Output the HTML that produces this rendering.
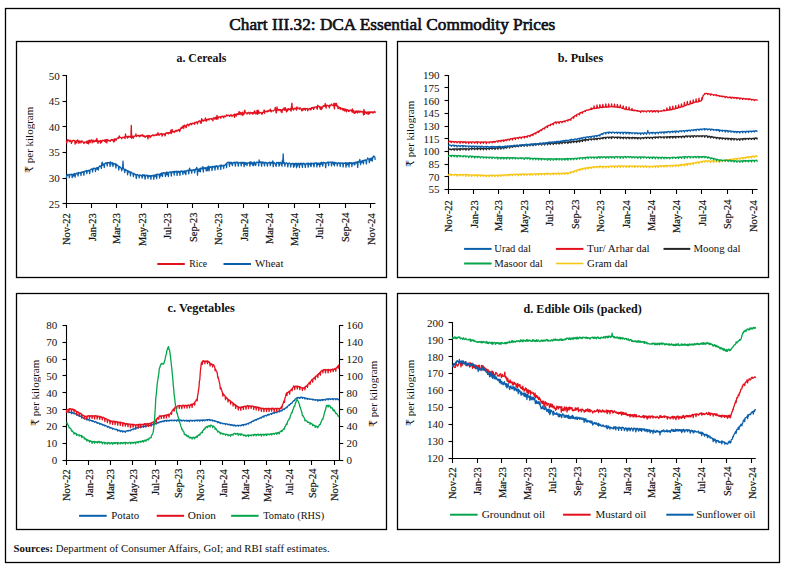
<!DOCTYPE html>
<html><head><meta charset="utf-8"><title>Chart III.32: DCA Essential Commodity Prices</title>
<style>
html,body{margin:0;padding:0;background:#fff;}
body{width:786px;height:570px;position:relative;overflow:hidden;}
svg text{font-family:"Liberation Serif","DejaVu Serif",serif;fill:#111;}
.v{position:absolute;writing-mode:vertical-rl;transform:rotate(180deg);white-space:nowrap;width:12px;line-height:12px;font-family:"Liberation Serif","DejaVu Serif",serif;color:#111;-webkit-text-stroke:0.2px #111;}
</style></head><body>
<svg width="786" height="570" viewBox="0 0 786 570" style="position:absolute;left:0;top:0">
<rect x="0" y="0" width="786" height="570" fill="#fff"/>
<rect x="5.5" y="8.5" width="774" height="554" fill="none" stroke="#000" stroke-width="1.3"/>
<rect x="16.5" y="41.5" width="370" height="236" fill="none" stroke="#000" stroke-width="1.3"/>
<rect x="397.5" y="41.5" width="371" height="236" fill="none" stroke="#000" stroke-width="1.3"/>
<rect x="16.5" y="293.5" width="370" height="236" fill="none" stroke="#000" stroke-width="1.3"/>
<rect x="397.5" y="293.5" width="371" height="236" fill="none" stroke="#000" stroke-width="1.3"/>
<text x="229.3" y="29.8" font-size="17.2" textLength="326" lengthAdjust="spacingAndGlyphs" stroke="#0a0a14" stroke-width="0.6">Chart III.32: DCA Essential Commodity Prices</text>
<line x1="66.5" y1="75.0" x2="66.5" y2="204.0" stroke="#000" stroke-width="1.1"/>
<line x1="62.5" y1="203.5" x2="66.5" y2="203.5" stroke="#000" stroke-width="1.1"/>
<text x="59.7" y="207.55" font-size="11" text-anchor="end">25</text>
<line x1="62.5" y1="178.5" x2="66.5" y2="178.5" stroke="#000" stroke-width="1.1"/>
<text x="59.7" y="181.95" font-size="11" text-anchor="end">30</text>
<line x1="62.5" y1="152.5" x2="66.5" y2="152.5" stroke="#000" stroke-width="1.1"/>
<text x="59.7" y="156.35" font-size="11" text-anchor="end">35</text>
<line x1="62.5" y1="126.5" x2="66.5" y2="126.5" stroke="#000" stroke-width="1.1"/>
<text x="59.7" y="130.75" font-size="11" text-anchor="end">40</text>
<line x1="62.5" y1="101.5" x2="66.5" y2="101.5" stroke="#000" stroke-width="1.1"/>
<text x="59.7" y="105.15" font-size="11" text-anchor="end">45</text>
<line x1="62.5" y1="75.5" x2="66.5" y2="75.5" stroke="#000" stroke-width="1.1"/>
<text x="59.7" y="79.55" font-size="11" text-anchor="end">50</text>
<line x1="66.5" y1="203.5" x2="375.4" y2="203.5" stroke="#000" stroke-width="1.1"/>
<line x1="66.5" y1="203.5" x2="66.5" y2="208.0" stroke="#000" stroke-width="1.1"/>
<line x1="91.5" y1="203.5" x2="91.5" y2="208.0" stroke="#000" stroke-width="1.1"/>
<line x1="116.5" y1="203.5" x2="116.5" y2="208.0" stroke="#000" stroke-width="1.1"/>
<line x1="141.5" y1="203.5" x2="141.5" y2="208.0" stroke="#000" stroke-width="1.1"/>
<line x1="167.5" y1="203.5" x2="167.5" y2="208.0" stroke="#000" stroke-width="1.1"/>
<line x1="192.5" y1="203.5" x2="192.5" y2="208.0" stroke="#000" stroke-width="1.1"/>
<line x1="218.5" y1="203.5" x2="218.5" y2="208.0" stroke="#000" stroke-width="1.1"/>
<line x1="243.5" y1="203.5" x2="243.5" y2="208.0" stroke="#000" stroke-width="1.1"/>
<line x1="268.5" y1="203.5" x2="268.5" y2="208.0" stroke="#000" stroke-width="1.1"/>
<line x1="294.5" y1="203.5" x2="294.5" y2="208.0" stroke="#000" stroke-width="1.1"/>
<line x1="319.5" y1="203.5" x2="319.5" y2="208.0" stroke="#000" stroke-width="1.1"/>
<line x1="345.5" y1="203.5" x2="345.5" y2="208.0" stroke="#000" stroke-width="1.1"/>
<line x1="370.5" y1="203.5" x2="370.5" y2="208.0" stroke="#000" stroke-width="1.1"/>
<text x="176.5" y="62.0" font-size="11.5" font-weight="bold" textLength="49.8" lengthAdjust="spacingAndGlyphs">a. Cereals</text>
<polyline points="66.4,141.0 66.8,142.8 67.2,139.6 67.6,140.6 68.1,140.0 68.5,140.2 68.9,140.8 69.3,141.6 69.7,140.7 70.1,140.1 70.6,141.1 71.0,140.9 71.4,143.4 71.8,141.2 72.2,141.7 72.6,140.7 73.1,140.3 73.5,140.5 73.9,140.3 74.3,140.3 74.7,140.8 75.1,144.1 75.6,142.0 76.0,141.0 76.4,140.9 76.8,143.0 77.2,140.3 77.6,140.0 78.1,141.0 78.5,140.9 78.9,143.3 79.3,142.6 79.7,141.0 80.1,141.3 80.5,141.3 81.0,143.0 81.4,140.9 81.8,141.6 82.2,141.7 82.6,141.3 83.0,142.2 83.5,142.6 83.9,143.6 84.3,142.2 84.7,142.8 85.1,142.2 85.5,142.1 86.0,142.2 86.4,141.4 86.8,143.2 87.2,143.3 87.6,141.7 88.0,140.8 88.5,143.9 88.9,140.5 89.3,140.2 89.7,142.2 90.1,142.6 90.5,140.7 91.0,140.2 91.4,140.0 91.8,139.8 92.2,142.8 92.6,141.9 93.0,140.9 93.4,140.3 93.9,142.2 94.3,140.9 94.7,141.1 95.1,141.4 95.5,140.2 95.9,140.9 96.4,141.5 96.8,138.4 97.2,141.2 97.6,140.6 98.0,143.3 98.4,140.8 98.9,141.5 99.3,141.5 99.7,141.2 100.1,140.6 100.5,143.2 100.9,140.5 101.4,142.4 101.8,142.0 102.2,141.0 102.6,140.2 103.0,140.4 103.4,140.3 103.9,140.7 104.3,141.2 104.7,140.2 105.1,139.7 105.5,142.2 105.9,140.1 106.3,139.7 106.8,142.9 107.2,139.3 107.6,140.6 108.0,140.5 108.4,140.2 108.8,140.8 109.3,140.5 109.7,140.8 110.1,141.4 110.5,140.5 110.9,140.1 111.3,139.4 111.8,140.2 112.2,140.0 112.6,139.6 113.0,140.8 113.4,140.0 113.8,142.1 114.3,138.9 114.7,141.1 115.1,138.9 115.5,139.0 115.9,139.8 116.3,140.1 116.8,138.7 117.2,138.3 117.6,137.8 118.0,137.8 118.4,137.7 118.8,138.5 119.2,135.8 119.7,137.4 120.1,137.4 120.5,137.3 120.9,137.5 121.3,137.9 121.7,138.8 122.2,137.6 122.6,137.5 123.0,137.2 123.4,137.6 123.8,137.2 124.2,136.9 124.7,137.6 125.1,138.7 125.5,134.0 125.9,136.3 126.3,136.7 126.7,137.0 127.2,136.4 127.6,138.2 128.0,136.7 128.4,136.2 128.8,137.2 129.2,136.5 129.7,136.3 130.1,137.0 130.5,137.3 130.9,136.8 131.3,125.5 131.7,138.4 132.2,136.1 132.6,136.7 133.0,136.1 133.4,138.0 133.8,136.3 134.2,136.3 134.6,136.1 135.1,135.7 135.5,135.8 135.9,133.9 136.3,136.6 136.7,136.3 137.1,136.0 137.6,135.5 138.0,135.7 138.4,135.4 138.8,135.3 139.2,136.6 139.6,136.8 140.1,135.3 140.5,136.0 140.9,135.2 141.3,135.8 141.7,135.5 142.1,134.7 142.6,136.2 143.0,135.2 143.4,135.6 143.8,136.5 144.2,135.7 144.6,136.5 145.1,137.4 145.5,136.5 145.9,136.3 146.3,135.9 146.7,136.4 147.1,135.4 147.5,135.9 148.0,138.8 148.4,135.8 148.8,135.3 149.2,135.4 149.6,135.7 150.0,137.7 150.5,135.9 150.9,136.8 151.3,135.9 151.7,135.7 152.1,135.5 152.5,135.0 153.0,135.6 153.4,134.9 153.8,135.8 154.2,135.6 154.6,135.1 155.0,135.3 155.5,134.9 155.9,135.0 156.3,134.2 156.7,135.5 157.1,134.9 157.5,134.7 158.0,132.6 158.4,135.0 158.8,134.0 159.2,134.4 159.6,135.1 160.0,134.5 160.4,133.9 160.9,133.7 161.3,133.5 161.7,133.6 162.1,136.2 162.5,135.1 162.9,133.8 163.4,134.3 163.8,134.2 164.2,134.0 164.6,133.8 165.0,135.8 165.4,135.2 165.9,132.8 166.3,132.9 166.7,133.1 167.1,132.7 167.5,133.2 167.9,132.8 168.4,133.9 168.8,132.7 169.2,132.4 169.6,133.1 170.0,132.9 170.4,132.8 170.9,130.1 171.3,133.6 171.7,132.6 172.1,129.4 172.5,131.9 172.9,131.3 173.3,131.3 173.8,131.3 174.2,132.6 174.6,131.3 175.0,131.7 175.4,130.9 175.8,130.4 176.3,131.2 176.7,130.1 177.1,131.2 177.5,131.0 177.9,130.6 178.3,129.9 178.8,129.5 179.2,129.7 179.6,131.5 180.0,130.8 180.4,128.7 180.8,127.9 181.3,128.5 181.7,127.8 182.1,126.8 182.5,128.0 182.9,127.7 183.3,125.7 183.8,128.5 184.2,125.9 184.6,125.1 185.0,125.9 185.4,125.8 185.8,127.0 186.2,127.5 186.7,125.3 187.1,124.6 187.5,124.3 187.9,124.2 188.3,125.2 188.7,125.9 189.2,124.9 189.6,124.1 190.0,124.5 190.4,123.5 190.8,123.5 191.2,123.5 191.7,124.9 192.1,123.6 192.5,123.4 192.9,123.2 193.3,123.3 193.7,123.6 194.2,122.9 194.6,124.4 195.0,122.2 195.4,122.5 195.8,122.6 196.2,122.5 196.7,122.0 197.1,122.0 197.5,123.8 197.9,122.1 198.3,121.9 198.7,121.1 199.1,121.0 199.6,121.1 200.0,120.9 200.4,123.0 200.8,122.6 201.2,123.3 201.6,118.7 202.1,120.9 202.5,120.1 202.9,120.0 203.3,121.2 203.7,120.1 204.1,120.4 204.6,120.5 205.0,119.8 205.4,117.9 205.8,120.3 206.2,121.3 206.6,119.3 207.1,120.0 207.5,119.9 207.9,119.0 208.3,119.5 208.7,118.9 209.1,120.0 209.6,119.0 210.0,119.0 210.4,118.8 210.8,118.8 211.2,118.4 211.6,119.0 212.0,119.5 212.5,119.0 212.9,120.9 213.3,118.1 213.7,117.8 214.1,118.1 214.5,117.9 215.0,119.3 215.4,117.9 215.8,117.3 216.2,118.2 216.6,119.3 217.0,115.4 217.5,117.9 217.9,119.1 218.3,117.6 218.7,116.9 219.1,117.1 219.5,117.0 220.0,117.2 220.4,116.8 220.8,118.3 221.2,116.5 221.6,116.6 222.0,116.7 222.5,116.5 222.9,116.0 223.3,117.0 223.7,117.8 224.1,116.7 224.5,116.0 224.9,116.6 225.4,116.4 225.8,116.5 226.2,115.5 226.6,114.9 227.0,115.6 227.4,115.8 227.9,115.3 228.3,115.1 228.7,115.4 229.1,115.6 229.5,116.4 229.9,115.8 230.4,115.1 230.8,114.9 231.2,115.4 231.6,114.9 232.0,116.5 232.4,115.8 232.9,115.3 233.3,115.2 233.7,114.8 234.1,114.3 234.5,117.4 234.9,114.1 235.4,115.3 235.8,114.3 236.2,116.0 236.6,114.0 237.0,114.7 237.4,113.6 237.8,114.1 238.3,114.6 238.7,113.4 239.1,111.5 239.5,114.3 239.9,114.0 240.3,112.3 240.8,113.0 241.2,114.9 241.6,113.4 242.0,113.3 242.4,112.1 242.8,115.5 243.3,113.2 243.7,112.9 244.1,114.2 244.5,110.5 244.9,110.3 245.3,112.7 245.8,112.8 246.2,112.8 246.6,113.1 247.0,114.1 247.4,112.8 247.8,113.2 248.3,112.4 248.7,112.3 249.1,112.6 249.5,114.1 249.9,114.0 250.3,112.9 250.8,112.3 251.2,113.0 251.6,112.9 252.0,112.7 252.4,113.3 252.8,114.4 253.2,112.5 253.7,112.4 254.1,113.3 254.5,110.8 254.9,111.4 255.3,112.6 255.7,113.9 256.2,113.0 256.6,113.4 257.0,110.3 257.4,114.4 257.8,113.0 258.2,110.2 258.7,113.5 259.1,113.1 259.5,112.2 259.9,112.7 260.3,112.9 260.7,112.6 261.2,112.5 261.6,113.6 262.0,114.4 262.4,113.2 262.8,112.1 263.2,112.2 263.7,112.3 264.1,109.9 264.5,113.4 264.9,111.1 265.3,111.4 265.7,111.4 266.1,111.9 266.6,111.2 267.0,111.0 267.4,111.8 267.8,110.9 268.2,111.4 268.6,110.4 269.1,110.5 269.5,110.6 269.9,110.8 270.3,109.2 270.7,111.1 271.1,111.9 271.6,110.6 272.0,110.8 272.4,110.9 272.8,110.8 273.2,111.0 273.6,110.6 274.1,110.3 274.5,110.0 274.9,109.4 275.3,107.4 275.7,110.2 276.1,113.0 276.6,111.8 277.0,106.9 277.4,110.1 277.8,109.6 278.2,109.3 278.6,109.6 279.0,110.7 279.5,109.9 279.9,109.4 280.3,109.9 280.7,109.6 281.1,111.9 281.5,109.8 282.0,112.7 282.4,109.5 282.8,109.4 283.2,109.9 283.6,108.9 284.0,107.9 284.5,109.4 284.9,110.4 285.3,107.6 285.7,109.2 286.1,109.1 286.5,111.8 287.0,111.4 287.4,109.2 287.8,110.6 288.2,108.6 288.6,108.8 289.0,109.5 289.5,109.5 289.9,109.5 290.3,108.4 290.7,110.5 291.1,111.1 291.5,106.7 291.9,103.1 292.4,109.0 292.8,109.0 293.2,108.8 293.6,110.2 294.0,108.6 294.4,108.3 294.9,108.1 295.3,109.0 295.7,108.8 296.1,108.1 296.5,110.1 296.9,106.8 297.4,108.7 297.8,108.3 298.2,108.2 298.6,108.1 299.0,108.0 299.4,109.2 299.9,108.0 300.3,108.0 300.7,108.9 301.1,108.6 301.5,110.1 301.9,110.9 302.4,109.8 302.8,108.6 303.2,110.0 303.6,108.5 304.0,109.0 304.4,108.4 304.8,108.6 305.3,110.3 305.7,108.3 306.1,108.9 306.5,108.6 306.9,108.9 307.3,108.4 307.8,110.8 308.2,109.5 308.6,108.8 309.0,108.8 309.4,108.4 309.8,108.8 310.3,109.9 310.7,108.4 311.1,109.7 311.5,107.6 311.9,108.4 312.3,107.6 312.8,107.7 313.2,107.3 313.6,109.4 314.0,108.5 314.4,107.7 314.8,107.0 315.3,107.1 315.7,107.1 316.1,106.9 316.5,106.6 316.9,108.6 317.3,109.2 317.7,105.2 318.2,106.4 318.6,106.6 319.0,106.2 319.4,106.8 319.8,107.7 320.2,109.2 320.7,107.0 321.1,109.6 321.5,106.9 321.9,108.8 322.3,107.9 322.7,107.4 323.2,105.6 323.6,105.6 324.0,106.0 324.4,106.4 324.8,105.8 325.2,103.5 325.7,106.6 326.1,108.1 326.5,105.2 326.9,105.2 327.3,105.3 327.7,105.6 328.2,105.8 328.6,106.2 329.0,105.4 329.4,107.9 329.8,105.1 330.2,105.3 330.6,105.6 331.1,104.9 331.5,104.0 331.9,104.7 332.3,105.2 332.7,105.5 333.1,105.8 333.6,105.2 334.0,103.2 334.4,108.9 334.8,105.0 335.2,103.3 335.6,105.2 336.1,105.6 336.5,103.5 336.9,106.0 337.3,106.8 337.7,105.9 338.1,108.7 338.6,107.0 339.0,107.7 339.4,107.2 339.8,108.1 340.2,109.4 340.6,107.7 341.1,108.4 341.5,108.8 341.9,109.1 342.3,108.4 342.7,109.3 343.1,110.5 343.5,108.7 344.0,108.8 344.4,109.7 344.8,111.0 345.2,109.0 345.6,109.6 346.0,110.2 346.5,111.9 346.9,109.4 347.3,109.7 347.7,109.9 348.1,110.0 348.5,111.4 349.0,111.6 349.4,110.4 349.8,110.6 350.2,110.1 350.6,110.5 351.0,110.2 351.5,110.1 351.9,111.8 352.3,109.0 352.7,110.9 353.1,112.7 353.5,110.4 354.0,111.1 354.4,113.3 354.8,112.5 355.2,113.0 355.6,111.5 356.0,111.0 356.4,112.4 356.9,111.0 357.3,111.9 357.7,113.1 358.1,110.9 358.5,111.3 358.9,111.8 359.4,111.1 359.8,112.5 360.2,111.1 360.6,111.4 361.0,111.5 361.4,111.5 361.9,112.1 362.3,111.6 362.7,112.1 363.1,111.7 363.5,114.9 363.9,109.3 364.4,114.3 364.8,111.5 365.2,112.5 365.6,112.5 366.0,112.0 366.4,113.5 366.9,112.6 367.3,112.0 367.7,112.5 368.1,114.4 368.5,111.8 368.9,111.9 369.3,113.8 369.8,112.5 370.2,111.8 370.6,112.6 371.0,112.5 371.4,111.9 371.8,111.9 372.3,112.8 372.7,111.9 373.1,113.1 373.5,112.0 373.9,112.1 374.3,112.0 374.8,111.3 375.2,113.2" fill="none" stroke="#E3101E" stroke-width="1.3" stroke-linejoin="round"/>
<polyline points="66.4,178.4 66.8,175.0 67.2,175.5 67.6,174.6 68.1,175.1 68.5,175.2 68.9,174.5 69.3,177.7 69.7,174.5 70.1,174.9 70.6,174.7 71.0,174.1 71.4,174.4 71.8,174.6 72.2,177.6 72.6,174.4 73.1,174.7 73.5,176.2 73.9,173.8 74.3,173.5 74.7,173.6 75.1,177.1 75.6,174.0 76.0,173.8 76.4,173.1 76.8,173.8 77.2,173.1 77.6,173.3 78.1,175.9 78.5,172.4 78.9,172.4 79.3,173.1 79.7,172.8 80.1,172.9 80.5,172.5 81.0,175.5 81.4,172.2 81.8,172.2 82.2,172.4 82.6,171.8 83.0,172.2 83.5,171.8 83.9,175.3 84.3,171.4 84.7,171.6 85.1,171.0 85.5,171.2 86.0,170.7 86.4,170.4 86.8,173.7 87.2,171.0 87.6,170.6 88.0,171.0 88.5,170.8 88.9,170.2 89.3,170.8 89.7,173.6 90.1,170.2 90.5,169.7 91.0,169.3 91.4,169.1 91.8,169.0 92.2,169.3 92.6,172.0 93.0,168.3 93.4,169.2 93.9,168.1 94.3,168.4 94.7,168.3 95.1,168.3 95.5,171.5 95.9,168.4 96.4,168.1 96.8,167.7 97.2,169.3 97.6,167.3 98.0,167.7 98.4,170.0 98.9,167.0 99.3,166.6 99.7,165.8 100.1,165.9 100.5,166.5 100.9,166.1 101.4,168.4 101.8,163.5 102.2,162.1 102.6,165.4 103.0,164.3 103.4,164.0 103.9,164.9 104.3,167.5 104.7,163.8 105.1,163.2 105.5,163.4 105.9,163.2 106.3,163.3 106.8,162.6 107.2,166.0 107.6,162.6 108.0,162.8 108.4,162.6 108.8,162.8 109.3,162.4 109.7,163.0 110.1,166.4 110.5,161.9 110.9,162.2 111.3,162.8 111.8,163.1 112.2,164.8 112.6,162.7 113.0,166.5 113.4,163.5 113.8,163.9 114.3,164.0 114.7,164.1 115.1,163.4 115.5,164.8 115.9,168.0 116.3,164.2 116.8,164.7 117.2,165.4 117.6,165.3 118.0,165.7 118.4,166.3 118.8,170.0 119.2,166.5 119.7,167.1 120.1,166.9 120.5,167.8 120.9,167.6 121.3,168.3 121.7,170.9 122.2,168.7 122.6,168.6 123.0,161.1 123.4,168.6 123.8,169.3 124.2,169.1 124.7,172.5 125.1,169.2 125.5,170.5 125.9,170.4 126.3,170.0 126.7,170.3 127.2,170.8 127.6,174.8 128.0,170.7 128.4,172.0 128.8,172.1 129.2,171.4 129.7,172.1 130.1,171.9 130.5,175.9 130.9,171.9 131.3,172.5 131.7,172.8 132.2,173.0 132.6,173.3 133.0,173.7 133.4,176.5 133.8,173.1 134.2,173.6 134.6,174.0 135.1,174.6 135.5,174.5 135.9,174.7 136.3,178.5 136.7,176.0 137.1,174.5 137.6,174.7 138.0,174.6 138.4,175.1 138.8,175.5 139.2,177.9 139.6,175.0 140.1,175.2 140.5,175.0 140.9,175.6 141.3,175.4 141.7,175.6 142.1,178.1 142.6,174.8 143.0,174.7 143.4,175.7 143.8,175.8 144.2,174.7 144.6,175.7 145.1,179.1 145.5,175.9 145.9,175.2 146.3,175.8 146.7,175.2 147.1,175.1 147.5,175.9 148.0,178.5 148.4,176.0 148.8,175.5 149.2,175.8 149.6,176.3 150.0,175.6 150.5,175.9 150.9,179.2 151.3,175.6 151.7,175.8 152.1,175.4 152.5,176.0 153.0,175.7 153.4,175.2 153.8,179.3 154.2,175.1 154.6,175.4 155.0,175.4 155.5,176.5 155.9,174.3 156.3,175.3 156.7,178.6 157.1,174.2 157.5,174.1 158.0,174.3 158.4,174.4 158.8,174.8 159.2,174.6 159.6,178.0 160.0,173.6 160.4,173.9 160.9,175.9 161.3,173.3 161.7,173.0 162.1,173.0 162.5,176.5 162.9,172.8 163.4,172.8 163.8,172.6 164.2,173.2 164.6,173.0 165.0,172.7 165.4,176.4 165.9,172.8 166.3,174.8 166.7,171.8 167.1,172.5 167.5,174.6 167.9,172.3 168.4,176.5 168.8,172.7 169.2,172.1 169.6,172.1 170.0,172.0 170.4,171.9 170.9,172.0 171.3,176.0 171.7,172.1 172.1,171.8 172.5,172.0 172.9,171.7 173.3,172.2 173.8,171.4 174.2,175.0 174.6,171.6 175.0,171.4 175.4,172.1 175.8,171.4 176.3,171.5 176.7,171.2 177.1,175.4 177.5,171.5 177.9,171.8 178.3,171.3 178.8,172.5 179.2,171.3 179.6,171.9 180.0,175.3 180.4,171.3 180.8,171.9 181.3,170.9 181.7,171.4 182.1,171.1 182.5,171.3 182.9,174.4 183.3,171.8 183.8,171.0 184.2,171.8 184.6,170.8 185.0,173.4 185.4,171.0 185.8,174.7 186.2,170.8 186.7,170.9 187.1,170.3 187.5,170.5 187.9,170.9 188.3,170.1 188.7,173.8 189.2,170.1 189.6,168.1 190.0,169.8 190.4,170.5 190.8,170.3 191.2,169.9 191.7,173.2 192.1,170.1 192.5,169.9 192.9,170.2 193.3,170.1 193.7,169.5 194.2,169.7 194.6,172.8 195.0,171.2 195.4,169.2 195.8,169.4 196.2,169.1 196.7,167.3 197.1,169.0 197.5,175.2 197.9,169.2 198.3,170.0 198.7,169.2 199.1,171.4 199.6,169.1 200.0,168.4 200.4,171.8 200.8,168.2 201.2,167.9 201.6,168.4 202.1,168.8 202.5,168.6 202.9,166.5 203.3,172.0 203.7,168.3 204.1,167.8 204.6,168.4 205.0,167.8 205.4,168.4 205.8,167.7 206.2,170.8 206.6,168.1 207.1,167.3 207.5,170.6 207.9,167.5 208.3,166.1 208.7,166.9 209.1,170.9 209.6,167.5 210.0,166.8 210.4,167.3 210.8,166.7 211.2,166.8 211.6,166.8 212.0,170.5 212.5,166.4 212.9,166.4 213.3,167.0 213.7,166.9 214.1,166.5 214.5,166.2 215.0,170.0 215.4,166.3 215.8,166.0 216.2,166.7 216.6,165.8 217.0,166.4 217.5,166.1 217.9,169.5 218.3,166.1 218.7,166.1 219.1,166.2 219.5,166.2 220.0,165.3 220.4,165.2 220.8,169.4 221.2,165.1 221.6,165.1 222.0,165.8 222.5,165.9 222.9,165.7 223.3,165.3 223.7,168.5 224.1,165.7 224.5,165.4 224.9,165.2 225.4,164.4 225.8,164.3 226.2,163.6 226.6,167.6 227.0,163.0 227.4,162.4 227.9,162.5 228.3,162.1 228.7,162.5 229.1,163.0 229.5,166.3 229.9,162.1 230.4,163.0 230.8,162.4 231.2,163.9 231.6,162.3 232.0,163.1 232.4,165.7 232.9,162.8 233.3,162.7 233.7,162.8 234.1,162.1 234.5,162.6 234.9,163.2 235.4,166.1 235.8,162.2 236.2,162.1 236.6,162.4 237.0,162.9 237.4,162.1 237.8,162.1 238.3,166.2 238.7,163.1 239.1,162.6 239.5,162.8 239.9,162.4 240.3,162.4 240.8,162.7 241.2,165.8 241.6,162.7 242.0,162.3 242.4,163.3 242.8,162.9 243.3,162.3 243.7,162.4 244.1,166.6 244.5,162.6 244.9,162.5 245.3,164.5 245.8,162.9 246.2,162.8 246.6,163.1 247.0,165.7 247.4,163.0 247.8,163.1 248.3,163.0 248.7,162.9 249.1,162.6 249.5,162.1 249.9,166.2 250.3,162.0 250.8,162.1 251.2,164.0 251.6,162.1 252.0,162.5 252.4,162.9 252.8,165.5 253.2,162.8 253.7,165.5 254.1,161.9 254.5,162.3 254.9,162.7 255.3,164.8 255.7,165.5 256.2,162.7 256.6,162.2 257.0,162.0 257.4,162.3 257.8,162.4 258.2,162.7 258.7,165.9 259.1,159.8 259.5,162.4 259.9,162.2 260.3,162.6 260.7,161.8 261.2,162.6 261.6,166.2 262.0,161.9 262.4,161.9 262.8,162.9 263.2,163.0 263.7,162.1 264.1,163.0 264.5,165.8 264.9,162.6 265.3,162.5 265.7,162.4 266.1,163.0 266.6,162.7 267.0,163.1 267.4,166.2 267.8,163.2 268.2,162.7 268.6,162.6 269.1,162.8 269.5,162.1 269.9,163.0 270.3,165.7 270.7,163.3 271.1,162.2 271.6,163.0 272.0,163.1 272.4,162.8 272.8,160.9 273.2,166.6 273.6,162.6 274.1,162.5 274.5,163.0 274.9,163.4 275.3,164.0 275.7,165.2 276.1,166.4 276.6,162.5 277.0,163.3 277.4,162.9 277.8,162.3 278.2,162.4 278.6,162.4 279.0,166.1 279.5,164.9 279.9,162.3 280.3,162.4 280.7,162.5 281.1,162.9 281.5,165.0 282.0,166.1 282.4,160.1 282.8,163.2 283.2,153.8 283.6,163.3 284.0,162.3 284.5,162.9 284.9,166.2 285.3,163.4 285.7,163.3 286.1,163.1 286.5,162.7 287.0,163.3 287.4,163.6 287.8,166.9 288.2,163.8 288.6,163.4 289.0,163.1 289.5,163.0 289.9,163.7 290.3,163.8 290.7,167.0 291.1,163.8 291.5,163.5 291.9,164.0 292.4,163.8 292.8,163.3 293.2,163.8 293.6,167.3 294.0,163.4 294.4,166.1 294.9,164.2 295.3,163.4 295.7,163.5 296.1,163.3 296.5,167.8 296.9,163.5 297.4,166.1 297.8,163.9 298.2,163.3 298.6,163.5 299.0,163.5 299.4,167.5 299.9,163.6 300.3,163.3 300.7,164.3 301.1,163.8 301.5,163.2 301.9,164.3 302.4,167.3 302.8,163.6 303.2,163.3 303.6,163.9 304.0,163.2 304.4,164.2 304.8,163.9 305.3,167.3 305.7,163.9 306.1,164.0 306.5,163.5 306.9,163.9 307.3,163.1 307.8,163.8 308.2,167.2 308.6,163.2 309.0,164.7 309.4,164.0 309.8,164.0 310.3,163.0 310.7,166.0 311.1,166.5 311.5,163.1 311.9,163.9 312.3,163.6 312.8,163.7 313.2,163.1 313.6,165.2 314.0,166.9 314.4,163.1 314.8,163.2 315.3,162.9 315.7,163.3 316.1,162.8 316.5,163.1 316.9,166.9 317.3,163.2 317.7,163.1 318.2,164.7 318.6,163.3 319.0,163.1 319.4,163.4 319.8,166.8 320.2,163.3 320.7,162.8 321.1,164.3 321.5,162.3 321.9,162.2 322.3,163.0 322.7,166.2 323.2,163.1 323.6,162.3 324.0,162.5 324.4,162.9 324.8,162.6 325.2,162.9 325.7,167.7 326.1,162.8 326.5,162.8 326.9,162.8 327.3,162.2 327.7,162.7 328.2,162.0 328.6,165.7 329.0,162.7 329.4,162.3 329.8,162.2 330.2,162.0 330.6,162.2 331.1,162.2 331.5,165.9 331.9,162.4 332.3,162.2 332.7,162.0 333.1,163.0 333.6,164.5 334.0,162.1 334.4,165.8 334.8,162.8 335.2,162.4 335.6,163.2 336.1,162.8 336.5,163.0 336.9,163.0 337.3,165.9 337.7,163.4 338.1,163.4 338.6,162.6 339.0,163.1 339.4,163.1 339.8,162.9 340.2,166.4 340.6,162.9 341.1,163.4 341.5,163.2 341.9,162.9 342.3,163.1 342.7,163.0 343.1,166.9 343.5,163.4 344.0,163.2 344.4,163.4 344.8,163.4 345.2,162.9 345.6,162.7 346.0,167.2 346.5,162.8 346.9,162.9 347.3,164.9 347.7,163.7 348.1,162.7 348.5,163.0 349.0,166.9 349.4,162.6 349.8,162.7 350.2,163.2 350.6,163.4 351.0,162.5 351.5,162.9 351.9,166.5 352.3,163.0 352.7,162.9 353.1,163.5 353.5,163.4 354.0,162.5 354.4,164.9 354.8,164.8 355.2,162.2 355.6,162.2 356.0,162.6 356.4,163.0 356.9,162.1 357.3,161.8 357.7,167.4 358.1,161.8 358.5,161.3 358.9,161.3 359.4,162.1 359.8,159.4 360.2,161.7 360.6,164.7 361.0,161.6 361.4,161.2 361.9,162.5 362.3,160.6 362.7,160.6 363.1,160.4 363.5,163.8 363.9,160.3 364.4,160.6 364.8,160.4 365.2,159.7 365.6,160.1 366.0,160.6 366.4,163.8 366.9,159.5 367.3,159.2 367.7,157.9 368.1,158.8 368.5,158.8 368.9,159.5 369.3,162.7 369.8,158.6 370.2,158.5 370.6,158.6 371.0,160.5 371.4,158.2 371.8,158.1 372.3,161.2 372.7,157.1 373.1,157.6 373.5,156.0 373.9,156.7 374.3,156.5 374.8,156.9 375.2,159.8" fill="none" stroke="#0B5FAB" stroke-width="1.3" stroke-linejoin="round"/>
<line x1="157.3" y1="264" x2="184.8" y2="264" stroke="#E3101E" stroke-width="2"/>
<text x="189.2" y="267.0" font-size="11" textLength="17.9" lengthAdjust="spacingAndGlyphs">Rice</text>
<line x1="223.5" y1="264" x2="251" y2="264" stroke="#0B5FAB" stroke-width="2"/>
<text x="255.1" y="267.0" font-size="11" textLength="28.3" lengthAdjust="spacingAndGlyphs">Wheat</text>
<line x1="448.5" y1="75.0" x2="448.5" y2="190.0" stroke="#000" stroke-width="1.1"/>
<line x1="444.5" y1="189.5" x2="448.5" y2="189.5" stroke="#000" stroke-width="1.1"/>
<text x="439.6" y="193.45" font-size="11" text-anchor="end">55</text>
<line x1="444.5" y1="176.5" x2="448.5" y2="176.5" stroke="#000" stroke-width="1.1"/>
<text x="439.6" y="180.76" font-size="11" text-anchor="end">70</text>
<line x1="444.5" y1="164.5" x2="448.5" y2="164.5" stroke="#000" stroke-width="1.1"/>
<text x="439.6" y="168.07" font-size="11" text-anchor="end">85</text>
<line x1="444.5" y1="151.5" x2="448.5" y2="151.5" stroke="#000" stroke-width="1.1"/>
<text x="439.6" y="155.38" font-size="11" text-anchor="end">100</text>
<line x1="444.5" y1="138.5" x2="448.5" y2="138.5" stroke="#000" stroke-width="1.1"/>
<text x="439.6" y="142.7" font-size="11" text-anchor="end">115</text>
<line x1="444.5" y1="126.5" x2="448.5" y2="126.5" stroke="#000" stroke-width="1.1"/>
<text x="439.6" y="130.01" font-size="11" text-anchor="end">130</text>
<line x1="444.5" y1="113.5" x2="448.5" y2="113.5" stroke="#000" stroke-width="1.1"/>
<text x="439.6" y="117.32" font-size="11" text-anchor="end">145</text>
<line x1="444.5" y1="100.5" x2="448.5" y2="100.5" stroke="#000" stroke-width="1.1"/>
<text x="439.6" y="104.63" font-size="11" text-anchor="end">160</text>
<line x1="444.5" y1="87.5" x2="448.5" y2="87.5" stroke="#000" stroke-width="1.1"/>
<text x="439.6" y="91.94" font-size="11" text-anchor="end">175</text>
<line x1="444.5" y1="75.5" x2="448.5" y2="75.5" stroke="#000" stroke-width="1.1"/>
<text x="439.6" y="79.25" font-size="11" text-anchor="end">190</text>
<line x1="448.5" y1="189.5" x2="757.6" y2="189.5" stroke="#000" stroke-width="1.1"/>
<line x1="448.5" y1="189.5" x2="448.5" y2="194.0" stroke="#000" stroke-width="1.1"/>
<line x1="473.5" y1="189.5" x2="473.5" y2="194.0" stroke="#000" stroke-width="1.1"/>
<line x1="498.5" y1="189.5" x2="498.5" y2="194.0" stroke="#000" stroke-width="1.1"/>
<line x1="523.5" y1="189.5" x2="523.5" y2="194.0" stroke="#000" stroke-width="1.1"/>
<line x1="549.5" y1="189.5" x2="549.5" y2="194.0" stroke="#000" stroke-width="1.1"/>
<line x1="574.5" y1="189.5" x2="574.5" y2="194.0" stroke="#000" stroke-width="1.1"/>
<line x1="600.5" y1="189.5" x2="600.5" y2="194.0" stroke="#000" stroke-width="1.1"/>
<line x1="625.5" y1="189.5" x2="625.5" y2="194.0" stroke="#000" stroke-width="1.1"/>
<line x1="650.5" y1="189.5" x2="650.5" y2="194.0" stroke="#000" stroke-width="1.1"/>
<line x1="676.5" y1="189.5" x2="676.5" y2="194.0" stroke="#000" stroke-width="1.1"/>
<line x1="701.5" y1="189.5" x2="701.5" y2="194.0" stroke="#000" stroke-width="1.1"/>
<line x1="727.5" y1="189.5" x2="727.5" y2="194.0" stroke="#000" stroke-width="1.1"/>
<line x1="752.5" y1="189.5" x2="752.5" y2="194.0" stroke="#000" stroke-width="1.1"/>
<text x="557.8" y="62.0" font-size="11.5" font-weight="bold" textLength="45.4" lengthAdjust="spacingAndGlyphs">b. Pulses</text>
<polyline points="448.4,175.8 448.8,174.6 449.2,174.3 449.6,174.2 450.1,174.5 450.5,174.2 450.9,174.6 451.3,175.7 451.7,174.4 452.1,174.8 452.6,174.7 453.0,174.7 453.4,174.5 453.8,174.8 454.2,175.5 454.6,174.8 455.1,174.5 455.5,174.4 455.9,174.6 456.3,174.8 456.7,174.5 457.1,176.1 457.6,174.6 458.0,174.9 458.4,174.8 458.8,174.8 459.2,174.5 459.6,174.7 460.1,175.8 460.5,174.8 460.9,174.5 461.3,174.8 461.7,174.4 462.1,174.5 462.6,174.6 463.0,175.8 463.4,174.6 463.8,174.6 464.2,174.5 464.6,174.7 465.1,174.7 465.5,174.7 465.9,176.3 466.3,174.5 466.7,174.9 467.1,174.7 467.5,174.5 468.0,175.0 468.4,174.8 468.8,176.4 469.2,175.0 469.6,175.1 470.0,174.9 470.5,174.8 470.9,175.1 471.3,174.9 471.7,176.5 472.1,175.2 472.5,174.9 473.0,175.1 473.4,175.2 473.8,175.3 474.2,175.0 474.6,176.1 475.0,174.9 475.5,175.0 475.9,174.8 476.3,175.2 476.7,174.8 477.1,175.1 477.5,176.7 478.0,175.1 478.4,175.0 478.8,175.1 479.2,175.0 479.6,175.0 480.0,175.0 480.5,176.4 480.9,175.2 481.3,175.1 481.7,175.3 482.1,175.4 482.5,175.0 483.0,175.2 483.4,176.6 483.8,175.3 484.2,175.4 484.6,175.1 485.0,175.6 485.4,175.6 485.9,175.5 486.3,176.7 486.7,175.6 487.1,175.5 487.5,175.6 487.9,175.4 488.4,175.3 488.8,175.4 489.2,176.7 489.6,175.2 490.0,175.5 490.4,175.5 490.9,175.2 491.3,175.1 491.7,175.4 492.1,176.6 492.5,175.4 492.9,175.4 493.4,175.0 493.8,175.1 494.2,175.5 494.6,175.4 495.0,176.7 495.4,175.4 495.9,175.3 496.3,175.1 496.7,175.1 497.1,175.3 497.5,175.3 497.9,176.7 498.4,175.3 498.8,175.2 499.2,174.9 499.6,175.2 500.0,175.4 500.4,175.2 500.9,176.4 501.3,175.0 501.7,175.4 502.1,175.0 502.5,175.2 502.9,175.0 503.3,175.1 503.8,176.0 504.2,175.1 504.6,174.9 505.0,175.2 505.4,175.2 505.8,175.1 506.3,174.9 506.7,175.9 507.1,174.6 507.5,174.7 507.9,174.5 508.3,175.0 508.8,174.6 509.2,174.8 509.6,175.7 510.0,174.6 510.4,174.3 510.8,174.4 511.3,174.7 511.7,174.4 512.1,174.6 512.5,175.7 512.9,174.4 513.3,174.4 513.8,174.3 514.2,174.4 514.6,174.2 515.0,174.6 515.4,175.5 515.8,174.5 516.3,174.2 516.7,174.3 517.1,174.1 517.5,174.6 517.9,174.2 518.3,175.9 518.8,174.1 519.2,174.2 519.6,174.3 520.0,174.3 520.4,174.4 520.8,174.0 521.2,175.5 521.7,174.2 522.1,174.2 522.5,174.2 522.9,174.1 523.3,174.5 523.7,174.0 524.2,175.3 524.6,174.1 525.0,174.4 525.4,174.0 525.8,173.9 526.2,174.1 526.7,174.1 527.1,175.4 527.5,174.1 527.9,174.2 528.3,174.2 528.7,174.3 529.2,173.9 529.6,174.1 530.0,175.4 530.4,173.8 530.8,174.0 531.2,173.9 531.7,174.2 532.1,174.0 532.5,174.1 532.9,175.2 533.3,174.1 533.7,174.1 534.2,173.7 534.6,173.9 535.0,173.9 535.4,173.9 535.8,175.4 536.2,173.8 536.7,174.0 537.1,174.0 537.5,173.9 537.9,173.6 538.3,173.7 538.7,175.0 539.1,174.0 539.6,174.0 540.0,173.4 540.4,174.0 540.8,173.8 541.2,174.0 541.6,174.9 542.1,173.5 542.5,173.7 542.9,173.9 543.3,173.6 543.7,173.7 544.1,173.4 544.6,174.8 545.0,173.7 545.4,173.6 545.8,173.6 546.2,173.8 546.6,173.8 547.1,173.3 547.5,174.7 547.9,173.3 548.3,173.7 548.7,173.6 549.1,173.5 549.6,173.7 550.0,173.8 550.4,174.8 550.8,173.6 551.2,173.6 551.6,173.6 552.1,173.4 552.5,173.8 552.9,173.3 553.3,174.7 553.7,173.7 554.1,173.4 554.6,173.6 555.0,173.4 555.4,173.4 555.8,173.6 556.2,174.6 556.6,173.4 557.0,173.5 557.5,173.1 557.9,173.3 558.3,173.4 558.7,173.2 559.1,174.7 559.5,173.4 560.0,173.5 560.4,173.5 560.8,173.4 561.2,173.2 561.6,173.3 562.0,174.4 562.5,173.2 562.9,173.6 563.3,173.0 563.7,173.3 564.1,173.2 564.5,173.4 565.0,174.4 565.4,173.0 565.8,173.0 566.2,173.1 566.6,173.3 567.0,172.8 567.5,172.8 567.9,174.3 568.3,173.1 568.7,173.0 569.1,172.8 569.5,172.4 570.0,172.2 570.4,172.5 570.8,173.5 571.2,171.9 571.6,172.2 572.0,171.6 572.5,171.9 572.9,171.6 573.3,171.3 573.7,172.6 574.1,171.3 574.5,170.8 574.9,171.0 575.4,170.8 575.8,170.6 576.2,170.2 576.6,171.6 577.0,170.1 577.4,169.8 577.9,170.1 578.3,169.8 578.7,169.4 579.1,169.6 579.5,170.6 579.9,169.2 580.4,169.5 580.8,169.0 581.2,168.8 581.6,168.9 582.0,168.6 582.4,169.9 582.9,168.4 583.3,168.7 583.7,168.4 584.1,168.1 584.5,168.0 584.9,168.2 585.4,169.7 585.8,168.0 586.2,167.8 586.6,167.9 587.0,168.1 587.4,167.6 587.9,167.7 588.3,168.8 588.7,167.4 589.1,167.6 589.5,167.6 589.9,167.1 590.4,167.6 590.8,167.5 591.2,168.5 591.6,167.3 592.0,167.2 592.4,167.0 592.8,166.8 593.3,167.2 593.7,167.0 594.1,168.0 594.5,166.6 594.9,167.0 595.3,166.8 595.8,166.9 596.2,166.7 596.6,166.6 597.0,167.8 597.4,166.9 597.8,166.5 598.3,166.8 598.7,166.4 599.1,166.5 599.5,166.3 599.9,167.7 600.3,166.2 600.8,166.2 601.2,166.6 601.6,166.5 602.0,166.3 602.4,166.5 602.8,168.0 603.3,166.5 603.7,166.5 604.1,166.5 604.5,166.5 604.9,166.5 605.3,166.6 605.8,167.8 606.2,166.5 606.6,166.7 607.0,166.6 607.4,166.4 607.8,166.3 608.3,166.6 608.7,167.7 609.1,166.4 609.5,166.3 609.9,166.5 610.3,166.3 610.7,166.0 611.2,166.1 611.6,167.4 612.0,166.6 612.4,166.1 612.8,166.2 613.2,166.5 613.7,166.2 614.1,166.1 614.5,167.6 614.9,166.2 615.3,165.9 615.7,166.0 616.2,166.2 616.6,166.3 617.0,166.2 617.4,167.6 617.8,166.2 618.2,165.9 618.7,166.0 619.1,166.3 619.5,166.0 619.9,166.4 620.3,167.5 620.7,166.0 621.2,165.9 621.6,166.1 622.0,165.8 622.4,165.9 622.8,166.1 623.2,167.3 623.7,165.9 624.1,165.9 624.5,165.8 624.9,166.1 625.3,166.1 625.7,166.2 626.2,167.4 626.6,166.0 627.0,166.2 627.4,166.2 627.8,166.0 628.2,166.1 628.6,166.2 629.1,167.5 629.5,165.9 629.9,166.1 630.3,165.9 630.7,166.3 631.1,166.3 631.6,166.2 632.0,167.1 632.4,166.3 632.8,165.9 633.2,166.1 633.6,166.0 634.1,165.8 634.5,166.2 634.9,167.6 635.3,165.9 635.7,166.4 636.1,166.4 636.6,166.2 637.0,165.9 637.4,166.2 637.8,167.4 638.2,166.2 638.6,166.4 639.1,166.2 639.5,165.9 639.9,166.0 640.3,166.1 640.7,167.3 641.1,166.3 641.6,166.0 642.0,166.3 642.4,166.4 642.8,166.0 643.2,166.3 643.6,167.5 644.1,166.5 644.5,166.2 644.9,166.1 645.3,166.3 645.7,166.0 646.1,166.4 646.5,167.6 647.0,166.1 647.4,166.4 647.8,166.3 648.2,166.5 648.6,166.5 649.0,166.4 649.5,167.8 649.9,166.5 650.3,166.5 650.7,166.4 651.1,166.3 651.5,166.3 652.0,166.4 652.4,167.3 652.8,166.5 653.2,166.4 653.6,166.2 654.0,165.9 654.5,166.1 654.9,166.1 655.3,167.5 655.7,166.2 656.1,166.3 656.5,165.8 657.0,166.1 657.4,165.9 657.8,166.2 658.2,167.5 658.6,166.3 659.0,166.2 659.5,165.7 659.9,165.8 660.3,165.7 660.7,165.9 661.1,167.1 661.5,165.8 662.0,166.0 662.4,166.0 662.8,166.1 663.2,165.6 663.6,165.8 664.0,167.0 664.4,166.0 664.9,165.5 665.3,166.0 665.7,165.5 666.1,165.5 666.5,165.6 666.9,167.0 667.4,165.6 667.8,165.8 668.2,165.4 668.6,165.7 669.0,165.7 669.4,165.7 669.9,166.8 670.3,165.6 670.7,165.6 671.1,165.3 671.5,165.5 671.9,165.5 672.4,165.3 672.8,166.7 673.2,165.5 673.6,165.3 674.0,165.2 674.4,165.3 674.9,165.5 675.3,165.3 675.7,166.7 676.1,165.1 676.5,165.3 676.9,165.2 677.4,165.4 677.8,165.5 678.2,165.4 678.6,166.4 679.0,165.0 679.4,164.9 679.9,164.8 680.3,165.2 680.7,164.6 681.1,164.9 681.5,165.9 681.9,164.5 682.3,164.6 682.8,164.8 683.2,164.5 683.6,164.7 684.0,164.4 684.4,165.8 684.8,164.2 685.3,164.4 685.7,164.5 686.1,164.1 686.5,163.8 686.9,164.2 687.3,165.5 687.8,163.6 688.2,164.1 688.6,163.6 689.0,163.8 689.4,163.9 689.8,163.4 690.3,164.8 690.7,163.4 691.1,163.3 691.5,163.3 691.9,163.2 692.3,163.3 692.8,163.2 693.2,164.6 693.6,162.8 694.0,162.9 694.4,162.8 694.8,162.7 695.3,162.9 695.7,162.7 696.1,163.5 696.5,162.5 696.9,162.2 697.3,162.1 697.8,162.4 698.2,162.2 698.6,162.0 699.0,163.6 699.4,162.2 699.8,162.1 700.2,161.7 700.7,161.5 701.1,161.6 701.5,161.8 701.9,162.7 702.3,161.5 702.7,161.1 703.2,161.1 703.6,161.2 704.0,161.0 704.4,161.4 704.8,162.2 705.2,160.8 705.7,160.8 706.1,160.7 706.5,160.8 706.9,161.3 707.3,161.2 707.7,162.0 708.2,161.0 708.6,161.0 709.0,160.8 709.4,161.1 709.8,161.2 710.2,161.1 710.7,162.4 711.1,160.8 711.5,160.9 711.9,160.8 712.3,161.2 712.7,161.0 713.2,161.1 713.6,162.5 714.0,160.7 714.4,161.2 714.8,161.1 715.2,161.0 715.7,161.2 716.1,160.9 716.5,162.1 716.9,160.9 717.3,160.9 717.7,161.1 718.1,161.1 718.6,160.8 719.0,160.9 719.4,162.5 719.8,160.9 720.2,160.8 720.6,160.7 721.1,161.0 721.5,160.4 721.9,160.8 722.3,161.7 722.7,160.8 723.1,160.4 723.6,160.4 724.0,160.4 724.4,160.3 724.8,160.1 725.2,161.6 725.6,160.2 726.1,159.8 726.5,160.2 726.9,159.7 727.3,159.8 727.7,159.9 728.1,161.2 728.6,159.7 729.0,159.9 729.4,159.7 729.8,159.4 730.2,159.8 730.6,159.2 731.1,160.9 731.5,159.5 731.9,159.4 732.3,159.2 732.7,158.9 733.1,159.3 733.6,159.2 734.0,160.4 734.4,158.9 734.8,158.8 735.2,158.9 735.6,158.5 736.0,158.5 736.5,158.8 736.9,160.0 737.3,158.7 737.7,158.7 738.1,158.5 738.5,158.1 739.0,158.6 739.4,158.4 739.8,159.3 740.2,158.4 740.6,158.3 741.0,157.9 741.5,157.8 741.9,158.1 742.3,157.7 742.7,158.9 743.1,157.9 743.5,158.0 744.0,157.4 744.4,157.4 744.8,157.8 745.2,157.7 745.6,158.5 746.0,157.2 746.5,157.5 746.9,157.2 747.3,157.1 747.7,156.8 748.1,157.2 748.5,158.1 749.0,156.8 749.4,156.6 749.8,156.6 750.2,156.6 750.6,157.0 751.0,156.6 751.5,158.0 751.9,156.3 752.3,156.2 752.7,156.3 753.1,156.3 753.5,156.1 753.9,156.3 754.4,157.4 754.8,156.3 755.2,156.2 755.6,155.9 756.0,156.2 756.4,155.9 756.9,156.0 757.3,157.1" fill="none" stroke="#F5C518" stroke-width="1.3" stroke-linejoin="round"/>
<polyline points="448.4,156.8 448.8,155.3 449.2,155.6 449.6,155.7 450.1,155.5 450.5,155.5 450.9,155.7 451.3,156.8 451.7,155.5 452.1,155.6 452.6,155.7 453.0,155.3 453.4,155.7 453.8,155.7 454.2,156.8 454.6,155.6 455.1,155.5 455.5,155.8 455.9,156.0 456.3,155.6 456.7,155.7 457.1,157.2 457.6,155.8 458.0,155.7 458.4,155.9 458.8,155.5 459.2,155.6 459.6,156.0 460.1,156.8 460.5,155.6 460.9,156.1 461.3,156.0 461.7,156.2 462.1,156.1 462.6,156.2 463.0,157.1 463.4,156.1 463.8,155.8 464.2,156.2 464.6,156.2 465.1,155.8 465.5,155.9 465.9,157.1 466.3,156.3 466.7,156.2 467.1,156.0 467.5,156.2 468.0,156.3 468.4,156.3 468.8,157.7 469.2,156.4 469.6,156.2 470.0,156.0 470.5,156.1 470.9,156.1 471.3,156.5 471.7,157.7 472.1,156.2 472.5,156.7 473.0,156.3 473.4,156.4 473.8,156.5 474.2,156.8 474.6,158.0 475.0,156.3 475.5,156.8 475.9,156.4 476.3,156.8 476.7,156.8 477.1,156.5 477.5,157.6 478.0,157.0 478.4,156.5 478.8,156.6 479.2,157.1 479.6,156.9 480.0,156.9 480.5,158.0 480.9,156.9 481.3,156.9 481.7,156.7 482.1,156.8 482.5,156.9 483.0,157.0 483.4,158.2 483.8,157.2 484.2,157.3 484.6,157.3 485.0,157.1 485.4,157.1 485.9,156.9 486.3,158.3 486.7,157.4 487.1,157.2 487.5,157.1 487.9,157.1 488.4,157.4 488.8,157.3 489.2,158.3 489.6,157.2 490.0,157.1 490.4,157.2 490.9,157.3 491.3,157.2 491.7,157.7 492.1,158.7 492.5,157.2 492.9,157.5 493.4,157.4 493.8,157.3 494.2,157.5 494.6,157.6 495.0,158.5 495.4,157.8 495.9,157.6 496.3,157.3 496.7,157.7 497.1,157.9 497.5,157.3 497.9,159.0 498.4,157.9 498.8,157.7 499.2,157.4 499.6,157.9 500.0,157.6 500.4,157.6 500.9,159.1 501.3,157.5 501.7,157.6 502.1,158.0 502.5,157.6 502.9,157.5 503.3,157.6 503.8,159.0 504.2,157.7 504.6,157.8 505.0,158.0 505.4,157.6 505.8,158.0 506.3,157.8 506.7,159.1 507.1,157.5 507.5,157.5 507.9,157.6 508.3,157.8 508.8,157.7 509.2,157.7 509.6,159.2 510.0,157.8 510.4,157.7 510.8,157.9 511.3,158.0 511.7,157.6 512.1,157.7 512.5,158.8 512.9,157.8 513.3,157.6 513.8,157.7 514.2,158.1 514.6,158.1 515.0,157.6 515.4,159.0 515.8,158.1 516.3,158.1 516.7,157.8 517.1,158.0 517.5,158.1 517.9,157.9 518.3,158.9 518.8,158.1 519.2,158.1 519.6,158.0 520.0,158.1 520.4,158.3 520.8,157.8 521.2,158.9 521.7,158.1 522.1,157.8 522.5,158.2 522.9,158.2 523.3,158.0 523.7,158.2 524.2,159.5 524.6,158.2 525.0,157.9 525.4,158.1 525.8,157.8 526.2,158.2 526.7,158.0 527.1,159.1 527.5,158.0 527.9,158.1 528.3,158.4 528.7,157.9 529.2,158.0 529.6,158.1 530.0,159.7 530.4,158.1 530.8,158.6 531.2,158.5 531.7,158.3 532.1,158.4 532.5,158.5 532.9,159.8 533.3,158.3 533.7,158.7 534.2,158.6 534.6,158.2 535.0,158.2 535.4,158.6 535.8,159.9 536.2,158.6 536.7,158.7 537.1,158.3 537.5,158.8 537.9,158.5 538.3,158.6 538.7,160.0 539.1,158.7 539.6,158.6 540.0,158.4 540.4,159.0 540.8,158.8 541.2,158.5 541.6,160.0 542.1,158.9 542.5,158.8 542.9,158.9 543.3,158.6 543.7,159.1 544.1,158.9 544.6,159.8 545.0,158.7 545.4,159.1 545.8,159.0 546.2,158.9 546.6,158.8 547.1,159.0 547.5,160.3 547.9,158.7 548.3,158.6 548.7,159.1 549.1,159.0 549.6,159.1 550.0,158.7 550.4,160.3 550.8,158.9 551.2,159.1 551.6,158.7 552.1,158.8 552.5,158.8 552.9,158.8 553.3,160.3 553.7,158.9 554.1,159.1 554.6,159.0 555.0,159.1 555.4,158.9 555.8,158.6 556.2,160.1 556.6,158.7 557.0,158.6 557.5,159.1 557.9,158.9 558.3,158.9 558.7,158.9 559.1,160.1 559.5,158.7 560.0,158.9 560.4,158.9 560.8,159.0 561.2,158.8 561.6,158.8 562.0,160.2 562.5,159.0 562.9,158.7 563.3,159.1 563.7,159.0 564.1,158.7 564.5,159.1 565.0,160.1 565.4,158.6 565.8,158.6 566.2,159.0 566.6,159.0 567.0,158.5 567.5,158.5 567.9,160.2 568.3,158.8 568.7,158.7 569.1,158.4 569.5,158.8 570.0,158.6 570.4,158.7 570.8,159.9 571.2,158.6 571.6,158.6 572.0,158.8 572.5,158.6 572.9,158.4 573.3,158.7 573.7,159.8 574.1,158.5 574.5,158.3 574.9,158.3 575.4,158.6 575.8,158.4 576.2,158.4 576.6,159.5 577.0,158.4 577.4,158.5 577.9,158.0 578.3,158.2 578.7,158.2 579.1,157.9 579.5,159.2 579.9,157.8 580.4,157.7 580.8,157.9 581.2,157.8 581.6,158.0 582.0,157.9 582.4,159.1 582.9,157.7 583.3,158.0 583.7,157.7 584.1,157.5 584.5,157.8 584.9,157.6 585.4,159.0 585.8,157.4 586.2,157.7 586.6,157.4 587.0,157.2 587.4,157.1 587.9,157.4 588.3,158.7 588.7,157.2 589.1,157.2 589.5,157.2 589.9,157.2 590.4,157.1 590.8,157.1 591.2,158.3 591.6,157.2 592.0,157.3 592.4,157.3 592.8,157.2 593.3,157.1 593.7,157.1 594.1,158.6 594.5,157.4 594.9,157.2 595.3,157.2 595.8,157.0 596.2,157.2 596.6,157.4 597.0,158.6 597.4,157.2 597.8,157.0 598.3,157.3 598.7,156.9 599.1,156.9 599.5,157.0 599.9,158.3 600.3,157.0 600.8,157.0 601.2,157.0 601.6,156.7 602.0,157.2 602.4,157.3 602.8,157.9 603.3,156.8 603.7,157.0 604.1,157.2 604.5,156.8 604.9,157.0 605.3,157.0 605.8,158.3 606.2,157.0 606.6,156.9 607.0,156.9 607.4,157.1 607.8,156.9 608.3,157.2 608.7,158.2 609.1,156.8 609.5,156.9 609.9,156.7 610.3,157.1 610.7,157.1 611.2,156.8 611.6,158.0 612.0,156.8 612.4,156.9 612.8,157.1 613.2,157.0 613.7,157.1 614.1,156.9 614.5,158.3 614.9,157.0 615.3,156.7 615.7,156.7 616.2,156.7 616.6,156.8 617.0,156.6 617.4,157.9 617.8,156.9 618.2,156.8 618.7,156.9 619.1,156.9 619.5,156.8 619.9,156.6 620.3,158.3 620.7,157.1 621.2,156.7 621.6,156.8 622.0,156.9 622.4,157.0 622.8,156.9 623.2,158.2 623.7,156.9 624.1,156.6 624.5,156.7 624.9,156.8 625.3,156.7 625.7,156.7 626.2,157.9 626.6,157.1 627.0,156.7 627.4,156.9 627.8,156.8 628.2,156.7 628.6,156.9 629.1,157.8 629.5,157.0 629.9,156.8 630.3,157.0 630.7,156.6 631.1,156.8 631.6,157.1 632.0,157.9 632.4,157.1 632.8,156.9 633.2,157.1 633.6,156.8 634.1,157.2 634.5,156.9 634.9,158.0 635.3,157.2 635.7,157.1 636.1,157.0 636.6,157.3 637.0,156.8 637.4,157.0 637.8,158.3 638.2,157.1 638.6,157.3 639.1,156.9 639.5,157.2 639.9,156.9 640.3,156.9 640.7,158.5 641.1,156.9 641.6,156.9 642.0,156.8 642.4,157.1 642.8,157.3 643.2,157.0 643.6,158.1 644.1,157.0 644.5,157.0 644.9,156.9 645.3,156.9 645.7,157.2 646.1,157.1 646.5,158.2 647.0,157.3 647.4,157.4 647.8,157.3 648.2,157.0 648.6,157.5 649.0,157.4 649.5,158.4 649.9,157.4 650.3,157.1 650.7,157.1 651.1,157.5 651.5,157.5 652.0,157.2 652.4,158.7 652.8,157.1 653.2,157.2 653.6,157.5 654.0,157.2 654.5,157.1 654.9,157.5 655.3,158.8 655.7,157.5 656.1,157.7 656.5,157.2 657.0,157.3 657.4,157.5 657.8,157.3 658.2,158.8 658.6,157.3 659.0,157.7 659.5,157.3 659.9,157.5 660.3,157.4 660.7,157.7 661.1,158.8 661.5,157.4 662.0,157.6 662.4,157.2 662.8,157.6 663.2,157.7 663.6,157.6 664.0,158.8 664.4,157.3 664.9,157.4 665.3,157.8 665.7,157.3 666.1,157.4 666.5,157.6 666.9,158.7 667.4,157.8 667.8,157.6 668.2,157.7 668.6,157.4 669.0,157.8 669.4,157.7 669.9,158.9 670.3,157.8 670.7,157.7 671.1,157.4 671.5,157.7 671.9,157.5 672.4,157.2 672.8,158.5 673.2,157.7 673.6,157.6 674.0,157.2 674.4,157.4 674.9,157.7 675.3,157.6 675.7,158.5 676.1,157.6 676.5,157.4 676.9,157.6 677.4,157.3 677.8,157.0 678.2,157.2 678.6,158.6 679.0,157.2 679.4,157.4 679.9,157.0 680.3,157.4 680.7,157.2 681.1,157.0 681.5,158.4 681.9,157.4 682.3,157.1 682.8,156.8 683.2,156.8 683.6,157.0 684.0,156.7 684.4,158.5 684.8,156.8 685.3,157.1 685.7,156.7 686.1,156.9 686.5,156.9 686.9,157.1 687.3,158.1 687.8,156.8 688.2,156.5 688.6,156.6 689.0,156.7 689.4,156.6 689.8,157.1 690.3,158.0 690.7,156.6 691.1,157.0 691.5,156.9 691.9,156.8 692.3,157.0 692.8,156.9 693.2,157.9 693.6,156.8 694.0,156.6 694.4,156.8 694.8,156.7 695.3,157.0 695.7,156.7 696.1,157.8 696.5,156.9 696.9,157.0 697.3,156.6 697.8,156.5 698.2,156.7 698.6,156.5 699.0,158.1 699.4,157.0 699.8,156.6 700.2,157.0 700.7,156.9 701.1,156.6 701.5,156.6 701.9,157.7 702.3,156.6 702.7,157.0 703.2,156.7 703.6,156.9 704.0,156.5 704.4,156.9 704.8,157.7 705.2,156.6 705.7,157.0 706.1,157.2 706.5,156.9 706.9,156.9 707.3,157.4 707.7,158.2 708.2,157.0 708.6,157.2 709.0,157.6 709.4,157.5 709.8,157.9 710.2,157.9 710.7,159.1 711.1,157.8 711.5,158.1 711.9,158.3 712.3,158.2 712.7,158.5 713.2,158.5 713.6,159.9 714.0,158.4 714.4,158.7 714.8,158.8 715.2,158.8 715.7,159.2 716.1,159.2 716.5,160.6 716.9,159.3 717.3,159.5 717.7,159.5 718.1,159.8 718.6,159.8 719.0,159.8 719.4,161.2 719.8,160.0 720.2,160.1 720.6,160.0 721.1,160.0 721.5,160.2 721.9,160.2 722.3,161.1 722.7,160.3 723.1,160.3 723.6,160.3 724.0,160.4 724.4,160.2 724.8,160.3 725.2,161.2 725.6,160.3 726.1,160.1 726.5,160.2 726.9,160.1 727.3,160.3 727.7,160.6 728.1,161.6 728.6,160.7 729.0,160.4 729.4,160.2 729.8,160.7 730.2,160.6 730.6,160.4 731.1,161.7 731.5,160.7 731.9,160.8 732.3,160.7 732.7,160.7 733.1,161.0 733.6,161.0 734.0,162.1 734.4,160.6 734.8,161.0 735.2,161.0 735.6,160.7 736.0,161.0 736.5,161.2 736.9,162.4 737.3,161.0 737.7,161.2 738.1,161.2 738.5,160.9 739.0,160.9 739.4,160.9 739.8,162.4 740.2,161.1 740.6,161.2 741.0,160.8 741.5,161.1 741.9,160.8 742.3,161.0 742.7,162.2 743.1,160.7 743.5,160.5 744.0,161.0 744.4,160.7 744.8,160.5 745.2,160.7 745.6,161.7 746.0,160.5 746.5,160.8 746.9,161.0 747.3,160.9 747.7,160.6 748.1,160.9 748.5,161.9 749.0,160.5 749.4,160.4 749.8,160.9 750.2,160.8 750.6,160.5 751.0,160.5 751.5,162.0 751.9,160.3 752.3,160.7 752.7,160.6 753.1,160.5 753.5,160.6 753.9,160.4 754.4,161.9 754.8,160.3 755.2,160.7 755.6,160.6 756.0,160.3 756.4,160.2 756.9,160.3 757.3,161.9" fill="none" stroke="#05A54C" stroke-width="1.3" stroke-linejoin="round"/>
<polyline points="448.4,150.5 448.8,149.3 449.2,149.3 449.6,148.9 450.1,148.8 450.5,149.3 450.9,149.1 451.3,150.0 451.7,149.3 452.1,149.3 452.6,148.9 453.0,149.2 453.4,148.8 453.8,149.0 454.2,150.4 454.6,148.9 455.1,149.0 455.5,148.8 455.9,149.2 456.3,149.0 456.7,148.8 457.1,150.3 457.6,149.2 458.0,149.0 458.4,149.1 458.8,149.2 459.2,148.6 459.6,149.0 460.1,150.4 460.5,148.7 460.9,148.7 461.3,148.9 461.7,149.0 462.1,148.9 462.6,148.9 463.0,149.8 463.4,149.0 463.8,148.7 464.2,148.6 464.6,149.1 465.1,148.9 465.5,148.8 465.9,150.2 466.3,148.8 466.7,148.6 467.1,148.9 467.5,148.9 468.0,148.9 468.4,148.8 468.8,150.2 469.2,149.0 469.6,149.0 470.0,148.7 470.5,148.6 470.9,148.7 471.3,148.8 471.7,149.7 472.1,148.7 472.5,148.7 473.0,148.4 473.4,148.6 473.8,148.6 474.2,148.9 474.6,149.6 475.0,148.9 475.5,148.9 475.9,148.7 476.3,148.4 476.7,148.8 477.1,148.4 477.5,149.7 478.0,148.7 478.4,148.5 478.8,148.6 479.2,148.4 479.6,148.3 480.0,148.5 480.5,149.9 480.9,148.7 481.3,148.3 481.7,148.6 482.1,148.4 482.5,148.4 483.0,148.8 483.4,149.9 483.8,148.5 484.2,148.5 484.6,148.7 485.0,148.4 485.4,148.6 485.9,148.6 486.3,149.8 486.7,148.4 487.1,148.5 487.5,148.6 487.9,148.3 488.4,148.5 488.8,148.4 489.2,149.6 489.6,148.3 490.0,148.2 490.4,148.4 490.9,148.2 491.3,148.0 491.7,148.4 492.1,149.3 492.5,148.2 492.9,148.4 493.4,148.2 493.8,148.1 494.2,148.0 494.6,148.2 495.0,149.5 495.4,148.2 495.9,148.2 496.3,147.9 496.7,147.9 497.1,147.9 497.5,147.9 497.9,149.3 498.4,147.9 498.8,147.7 499.2,147.9 499.6,147.7 500.0,147.9 500.4,147.7 500.9,149.2 501.3,147.7 501.7,147.8 502.1,147.7 502.5,147.6 502.9,147.9 503.3,147.3 503.8,148.8 504.2,147.3 504.6,147.1 505.0,147.1 505.4,147.4 505.8,147.5 506.3,147.3 506.7,148.2 507.1,147.0 507.5,146.8 507.9,146.9 508.3,146.7 508.8,146.6 509.2,146.7 509.6,148.2 510.0,146.7 510.4,146.5 510.8,146.3 511.3,146.8 511.7,146.2 512.1,146.1 512.5,147.3 512.9,146.5 513.3,146.5 513.8,146.0 514.2,146.3 514.6,146.2 515.0,146.1 515.4,146.9 515.8,146.1 516.3,145.9 516.7,146.2 517.1,146.2 517.5,145.9 517.9,145.5 518.3,146.8 518.8,145.8 519.2,145.9 519.6,145.5 520.0,145.5 520.4,145.6 520.8,145.7 521.2,146.4 521.7,145.4 522.1,145.4 522.5,145.3 522.9,145.1 523.3,145.5 523.7,145.3 524.2,146.1 524.6,144.8 525.0,144.9 525.4,144.9 525.8,144.7 526.2,144.8 526.7,145.0 527.1,146.2 527.5,145.0 527.9,145.0 528.3,144.6 528.7,144.7 529.2,144.8 529.6,144.7 530.0,145.9 530.4,144.8 530.8,144.8 531.2,144.8 531.7,144.4 532.1,144.3 532.5,144.3 532.9,145.8 533.3,144.3 533.7,144.5 534.2,144.4 534.6,144.6 535.0,144.1 535.4,144.5 535.8,145.2 536.2,144.3 536.7,144.2 537.1,144.0 537.5,144.0 537.9,144.0 538.3,144.1 538.7,145.1 539.1,144.0 539.6,143.8 540.0,144.0 540.4,144.0 540.8,143.9 541.2,143.9 541.6,145.1 542.1,143.9 542.5,143.6 542.9,143.6 543.3,143.6 543.7,144.0 544.1,143.7 544.6,145.0 545.0,143.5 545.4,143.6 545.8,143.6 546.2,143.4 546.6,143.4 547.1,143.4 547.5,144.8 547.9,143.6 548.3,143.7 548.7,143.3 549.1,143.4 549.6,143.5 550.0,143.4 550.4,144.7 550.8,143.0 551.2,143.4 551.6,143.0 552.1,143.2 552.5,143.1 552.9,143.1 553.3,144.5 553.7,142.8 554.1,142.8 554.6,143.3 555.0,143.0 555.4,142.9 555.8,142.7 556.2,144.1 556.6,143.0 557.0,143.1 557.5,142.8 557.9,142.6 558.3,143.0 558.7,142.7 559.1,144.1 559.5,142.9 560.0,143.0 560.4,142.5 560.8,142.5 561.2,142.5 561.6,142.8 562.0,143.7 562.5,142.5 562.9,142.7 563.3,142.2 563.7,142.2 564.1,142.2 564.5,142.4 565.0,143.4 565.4,142.2 565.8,142.3 566.2,142.2 566.6,142.1 567.0,141.9 567.5,142.3 567.9,143.5 568.3,142.1 568.7,141.9 569.1,142.3 569.5,141.7 570.0,142.1 570.4,142.0 570.8,142.9 571.2,141.9 571.6,141.8 572.0,141.4 572.5,141.7 572.9,141.8 573.3,141.7 573.7,142.6 574.1,141.4 574.5,141.6 574.9,141.2 575.4,141.6 575.8,141.4 576.2,141.3 576.6,142.5 577.0,141.3 577.4,141.0 577.9,141.4 578.3,141.0 578.7,141.1 579.1,140.7 579.5,142.2 579.9,140.9 580.4,140.5 580.8,140.8 581.2,140.7 581.6,140.4 582.0,140.2 582.4,141.6 582.9,139.8 583.3,140.3 583.7,140.2 584.1,139.6 584.5,140.1 584.9,139.6 585.4,141.1 585.8,139.9 586.2,139.4 586.6,139.5 587.0,139.8 587.4,139.7 587.9,139.6 588.3,140.5 588.7,139.5 589.1,139.1 589.5,139.2 589.9,139.1 590.4,139.0 590.8,139.2 591.2,140.1 591.6,139.4 592.0,139.1 592.4,139.2 592.8,139.1 593.3,138.8 593.7,138.9 594.1,139.8 594.5,138.8 594.9,138.9 595.3,138.6 595.8,139.0 596.2,138.8 596.6,138.4 597.0,139.8 597.4,138.9 597.8,138.5 598.3,138.3 598.7,138.4 599.1,138.4 599.5,138.3 599.9,139.3 600.3,138.2 600.8,138.2 601.2,138.2 601.6,138.3 602.0,138.1 602.4,137.7 602.8,138.8 603.3,137.7 603.7,138.0 604.1,137.4 604.5,137.7 604.9,137.5 605.3,137.3 605.8,138.8 606.2,137.6 606.6,137.6 607.0,137.2 607.4,137.2 607.8,137.2 608.3,137.2 608.7,138.4 609.1,137.3 609.5,137.2 609.9,137.4 610.3,137.6 610.7,137.4 611.2,137.0 611.6,138.7 612.0,137.1 612.4,137.0 612.8,137.1 613.2,137.0 613.7,137.1 614.1,137.2 614.5,138.2 614.9,137.6 615.3,137.2 615.7,137.3 616.2,137.2 616.6,137.6 617.0,137.5 617.4,138.5 617.8,137.0 618.2,137.5 618.7,137.3 619.1,137.2 619.5,137.4 619.9,137.5 620.3,138.7 620.7,137.2 621.2,137.7 621.6,137.4 622.0,137.7 622.4,137.4 622.8,137.7 623.2,138.9 623.7,137.2 624.1,137.7 624.5,137.6 624.9,137.6 625.3,137.2 625.7,137.6 626.2,138.8 626.6,137.8 627.0,137.5 627.4,137.3 627.8,137.7 628.2,137.5 628.6,137.5 629.1,138.9 629.5,137.4 629.9,137.4 630.3,137.9 630.7,137.9 631.1,137.9 631.6,137.7 632.0,138.8 632.4,137.5 632.8,137.4 633.2,137.9 633.6,137.6 634.1,137.9 634.5,137.5 634.9,138.8 635.3,137.7 635.7,137.7 636.1,137.6 636.6,138.0 637.0,137.6 637.4,137.9 637.8,139.1 638.2,137.9 638.6,137.7 639.1,138.0 639.5,138.0 639.9,137.9 640.3,137.9 640.7,139.1 641.1,137.8 641.6,137.9 642.0,137.8 642.4,137.7 642.8,138.0 643.2,137.7 643.6,138.7 644.1,137.8 644.5,137.9 644.9,137.5 645.3,137.4 645.7,137.5 646.1,137.5 646.5,138.6 647.0,137.5 647.4,137.5 647.8,137.4 648.2,137.6 648.6,137.5 649.0,137.4 649.5,138.5 649.9,137.6 650.3,137.5 650.7,137.5 651.1,137.3 651.5,137.7 652.0,137.5 652.4,138.8 652.8,137.4 653.2,137.4 653.6,137.4 654.0,137.2 654.5,137.1 654.9,137.4 655.3,138.3 655.7,136.9 656.1,137.2 656.5,137.4 657.0,137.1 657.4,137.2 657.8,137.4 658.2,138.1 658.6,136.9 659.0,136.8 659.5,137.0 659.9,136.8 660.3,137.1 660.7,136.9 661.1,138.0 661.5,137.1 662.0,137.1 662.4,137.2 662.8,136.9 663.2,137.0 663.6,137.0 664.0,138.4 664.4,137.2 664.9,136.8 665.3,136.8 665.7,136.8 666.1,136.8 666.5,137.1 666.9,138.2 667.4,136.7 667.8,137.0 668.2,137.0 668.6,136.9 669.0,137.0 669.4,136.6 669.9,138.2 670.3,136.6 670.7,137.0 671.1,136.8 671.5,137.0 671.9,136.6 672.4,136.6 672.8,138.2 673.2,136.5 673.6,136.7 674.0,136.9 674.4,137.0 674.9,136.5 675.3,136.5 675.7,138.0 676.1,136.6 676.5,136.6 676.9,136.5 677.4,136.6 677.8,136.9 678.2,136.7 678.6,137.6 679.0,136.4 679.4,136.8 679.9,136.7 680.3,136.4 680.7,136.6 681.1,136.7 681.5,137.9 681.9,136.6 682.3,136.2 682.8,136.6 683.2,136.5 683.6,136.6 684.0,136.3 684.4,137.7 684.8,136.5 685.3,136.2 685.7,136.0 686.1,136.3 686.5,136.0 686.9,136.1 687.3,137.2 687.8,136.0 688.2,136.0 688.6,136.2 689.0,136.1 689.4,135.9 689.8,136.2 690.3,137.4 690.7,136.0 691.1,135.8 691.5,136.2 691.9,136.2 692.3,135.8 692.8,135.9 693.2,137.4 693.6,136.1 694.0,135.8 694.4,135.9 694.8,135.7 695.3,136.2 695.7,136.1 696.1,137.0 696.5,135.9 696.9,136.1 697.3,136.0 697.8,135.7 698.2,136.1 698.6,136.0 699.0,136.8 699.4,136.1 699.8,135.9 700.2,135.9 700.7,136.0 701.1,136.1 701.5,135.9 701.9,136.9 702.3,135.8 702.7,136.1 703.2,135.9 703.6,135.9 704.0,135.8 704.4,135.8 704.8,137.3 705.2,136.1 705.7,135.8 706.1,135.7 706.5,135.8 706.9,135.9 707.3,136.1 707.7,137.5 708.2,136.4 708.6,136.3 709.0,136.7 709.4,136.2 709.8,136.5 710.2,136.8 710.7,138.0 711.1,136.7 711.5,136.9 711.9,136.5 712.3,137.0 712.7,137.0 713.2,137.2 713.6,138.1 714.0,137.1 714.4,137.5 714.8,137.2 715.2,137.4 715.7,137.6 716.1,137.5 716.5,138.7 716.9,137.6 717.3,137.5 717.7,137.7 718.1,137.9 718.6,137.8 719.0,137.8 719.4,139.1 719.8,137.7 720.2,137.7 720.6,138.3 721.1,138.0 721.5,138.2 721.9,138.2 722.3,139.2 722.7,138.0 723.1,138.3 723.6,138.2 724.0,138.3 724.4,138.3 724.8,138.3 725.2,139.6 725.6,138.3 726.1,138.1 726.5,138.4 726.9,138.7 727.3,138.6 727.7,138.3 728.1,139.7 728.6,138.3 729.0,138.7 729.4,138.5 729.8,138.7 730.2,138.9 730.6,138.7 731.1,140.1 731.5,138.4 731.9,138.6 732.3,138.8 732.7,138.6 733.1,138.9 733.6,138.8 734.0,140.1 734.4,138.7 734.8,139.1 735.2,138.8 735.6,138.9 736.0,138.8 736.5,138.9 736.9,140.1 737.3,139.4 737.7,139.3 738.1,139.2 738.5,138.8 739.0,138.9 739.4,139.2 739.8,140.4 740.2,138.8 740.6,139.0 741.0,139.0 741.5,138.9 741.9,138.8 742.3,138.7 742.7,140.2 743.1,138.7 743.5,138.9 744.0,138.5 744.4,138.8 744.8,139.0 745.2,138.5 745.6,139.6 746.0,138.8 746.5,138.5 746.9,138.7 747.3,138.4 747.7,138.6 748.1,138.6 748.5,139.5 749.0,138.5 749.4,138.5 749.8,138.6 750.2,138.4 750.6,138.6 751.0,138.6 751.5,139.4 751.9,138.7 752.3,138.3 752.7,138.5 753.1,138.6 753.5,138.5 753.9,138.3 754.4,139.7 754.8,138.2 755.2,138.0 755.6,138.4 756.0,138.2 756.4,138.5 756.9,138.0 757.3,139.5" fill="none" stroke="#262626" stroke-width="1.3" stroke-linejoin="round"/>
<polyline points="448.4,146.3 448.8,145.5 449.2,145.0 449.6,145.1 450.1,145.2 450.5,145.1 450.9,145.4 451.3,146.3 451.7,145.6 452.1,145.6 452.6,145.1 453.0,145.4 453.4,145.2 453.8,145.3 454.2,146.6 454.6,145.4 455.1,145.5 455.5,145.8 455.9,145.4 456.3,145.4 456.7,145.7 457.1,147.0 457.6,145.8 458.0,145.8 458.4,145.4 458.8,145.9 459.2,145.8 459.6,145.9 460.1,146.8 460.5,145.6 460.9,145.9 461.3,145.9 461.7,145.9 462.1,145.6 462.6,145.6 463.0,147.2 463.4,145.6 463.8,146.1 464.2,145.7 464.6,146.0 465.1,145.9 465.5,145.8 465.9,147.0 466.3,146.1 466.7,146.2 467.1,146.1 467.5,146.1 468.0,146.2 468.4,146.1 468.8,147.3 469.2,146.3 469.6,146.0 470.0,145.9 470.5,146.4 470.9,146.4 471.3,146.1 471.7,147.5 472.1,146.3 472.5,146.5 473.0,145.9 473.4,146.5 473.8,146.2 474.2,146.2 474.6,147.6 475.0,146.3 475.5,146.2 475.9,146.2 476.3,146.6 476.7,146.5 477.1,146.1 477.5,147.5 478.0,146.5 478.4,146.6 478.8,146.7 479.2,146.2 479.6,146.7 480.0,146.5 480.5,147.4 480.9,146.3 481.3,146.3 481.7,146.2 482.1,146.6 482.5,146.4 483.0,146.6 483.4,147.5 483.8,146.8 484.2,146.7 484.6,146.8 485.0,146.7 485.4,146.6 485.9,146.4 486.3,148.1 486.7,146.4 487.1,146.7 487.5,146.5 487.9,146.5 488.4,146.8 488.8,146.9 489.2,147.9 489.6,146.9 490.0,146.9 490.4,146.7 490.9,146.9 491.3,146.6 491.7,146.5 492.1,147.7 492.5,146.4 492.9,146.4 493.4,146.9 493.8,146.9 494.2,146.4 494.6,146.8 495.0,148.1 495.4,146.8 495.9,146.7 496.3,146.7 496.7,146.8 497.1,146.5 497.5,146.9 497.9,147.7 498.4,146.4 498.8,147.0 499.2,146.5 499.6,146.5 500.0,146.4 500.4,146.4 500.9,147.7 501.3,147.0 501.7,146.8 502.1,146.6 502.5,146.4 502.9,146.8 503.3,146.6 503.8,148.0 504.2,146.5 504.6,146.2 505.0,146.2 505.4,146.5 505.8,146.2 506.3,146.1 506.7,147.4 507.1,146.1 507.5,146.0 507.9,146.3 508.3,146.1 508.8,146.3 509.2,145.8 509.6,147.0 510.0,146.2 510.4,145.9 510.8,146.0 511.3,145.8 511.7,145.7 512.1,146.0 512.5,146.8 512.9,145.7 513.3,145.6 513.8,145.3 514.2,145.3 514.6,145.3 515.0,145.2 515.4,146.7 515.8,145.5 516.3,145.3 516.7,145.3 517.1,145.0 517.5,145.2 517.9,145.4 518.3,146.1 518.8,145.3 519.2,145.3 519.6,144.9 520.0,145.0 520.4,144.9 520.8,145.0 521.2,146.1 521.7,144.7 522.1,144.8 522.5,144.7 522.9,145.1 523.3,144.9 523.7,144.8 524.2,145.9 524.6,144.8 525.0,145.0 525.4,144.6 525.8,144.3 526.2,144.4 526.7,144.2 527.1,145.5 527.5,144.5 527.9,144.3 528.3,144.6 528.7,144.6 529.2,144.1 529.6,144.5 530.0,145.5 530.4,144.5 530.8,144.0 531.2,144.3 531.7,144.0 532.1,143.9 532.5,143.9 532.9,145.4 533.3,143.9 533.7,143.9 534.2,144.1 534.6,144.0 535.0,144.0 535.4,143.5 535.8,145.2 536.2,143.8 536.7,143.9 537.1,143.8 537.5,143.8 537.9,143.7 538.3,143.6 538.7,144.4 539.1,143.5 539.6,143.1 540.0,143.2 540.4,143.2 540.8,143.1 541.2,143.4 541.6,144.6 542.1,143.4 542.5,143.2 542.9,143.2 543.3,142.8 543.7,142.9 544.1,143.1 544.6,144.1 545.0,142.9 545.4,143.0 545.8,142.6 546.2,143.0 546.6,142.8 547.1,142.4 547.5,143.7 547.9,142.8 548.3,142.4 548.7,142.2 549.1,142.2 549.6,142.4 550.0,142.1 550.4,143.2 550.8,142.0 551.2,142.4 551.6,142.4 552.1,141.8 552.5,142.1 552.9,142.1 553.3,142.9 553.7,142.1 554.1,142.0 554.6,141.9 555.0,141.7 555.4,141.9 555.8,141.8 556.2,142.7 556.6,141.4 557.0,141.8 557.5,141.4 557.9,141.3 558.3,141.6 558.7,141.4 559.1,142.6 559.5,141.4 560.0,141.4 560.4,141.2 560.8,141.4 561.2,141.2 561.6,141.2 562.0,142.3 562.5,140.6 562.9,141.1 563.3,140.9 563.7,140.5 564.1,140.8 564.5,140.7 565.0,141.7 565.4,140.4 565.8,140.4 566.2,140.2 566.6,140.3 567.0,140.3 567.5,140.3 567.9,141.4 568.3,140.3 568.7,140.3 569.1,140.2 569.5,140.0 570.0,139.7 570.4,139.5 570.8,141.0 571.2,139.7 571.6,139.3 572.0,139.4 572.5,139.8 572.9,139.6 573.3,139.7 573.7,140.5 574.1,139.3 574.5,139.3 574.9,139.1 575.4,138.9 575.8,139.1 576.2,139.1 576.6,140.1 577.0,139.2 577.4,139.1 577.9,138.5 578.3,138.6 578.7,138.7 579.1,138.5 579.5,139.9 579.9,138.2 580.4,138.5 580.8,138.1 581.2,138.3 581.6,137.8 582.0,138.1 582.4,139.2 582.9,137.8 583.3,137.5 583.7,137.5 584.1,137.3 584.5,137.3 584.9,137.3 585.4,138.5 585.8,137.2 586.2,137.4 586.6,136.9 587.0,137.2 587.4,137.2 587.9,136.8 588.3,137.8 588.7,137.0 589.1,136.9 589.5,136.7 589.9,136.9 590.4,136.5 590.8,136.7 591.2,137.8 591.6,136.4 592.0,136.5 592.4,136.1 592.8,136.2 593.3,136.2 593.7,136.4 594.1,137.5 594.5,135.8 594.9,136.1 595.3,135.7 595.8,135.8 596.2,136.1 596.6,135.6 597.0,136.7 597.4,135.9 597.8,135.4 598.3,135.5 598.7,135.2 599.1,135.4 599.5,135.1 599.9,136.2 600.3,134.4 600.8,134.3 601.2,134.5 601.6,133.9 602.0,133.6 602.4,133.9 602.8,134.6 603.3,133.4 603.7,133.0 604.1,132.8 604.5,132.8 604.9,132.7 605.3,132.7 605.8,134.0 606.2,132.6 606.6,132.6 607.0,132.4 607.4,132.7 607.8,132.4 608.3,132.2 608.7,133.5 609.1,132.2 609.5,132.5 609.9,132.2 610.3,132.3 610.7,132.3 611.2,132.5 611.6,133.4 612.0,132.1 612.4,132.2 612.8,132.1 613.2,132.4 613.7,132.3 614.1,132.5 614.5,133.3 614.9,132.5 615.3,132.4 615.7,132.7 616.2,132.7 616.6,132.1 617.0,132.5 617.4,133.5 617.8,132.5 618.2,132.2 618.7,132.5 619.1,132.6 619.5,132.5 619.9,132.4 620.3,133.8 620.7,132.7 621.2,132.4 621.6,132.3 622.0,132.5 622.4,132.5 622.8,132.5 623.2,134.0 623.7,132.4 624.1,132.3 624.5,132.3 624.9,132.6 625.3,132.4 625.7,132.6 626.2,133.9 626.6,132.5 627.0,132.4 627.4,132.9 627.8,132.5 628.2,132.6 628.6,132.4 629.1,134.0 629.5,132.6 629.9,132.9 630.3,132.7 630.7,133.0 631.1,132.7 631.6,133.0 632.0,133.8 632.4,132.8 632.8,132.8 633.2,132.9 633.6,132.8 634.1,132.8 634.5,133.2 634.9,133.9 635.3,133.0 635.7,133.3 636.1,133.0 636.6,133.0 637.0,133.1 637.4,132.9 637.8,134.1 638.2,133.2 638.6,133.2 639.1,133.0 639.5,133.2 639.9,133.5 640.3,133.0 640.7,134.5 641.1,133.4 641.6,133.2 642.0,132.9 642.4,133.1 642.8,133.3 643.2,133.2 643.6,134.4 644.1,133.0 644.5,132.7 644.9,132.7 645.3,133.2 645.7,133.0 646.1,133.2 646.5,134.3 647.0,133.0 647.4,132.9 647.8,130.5 648.2,132.7 648.6,132.8 649.0,132.9 649.5,134.0 649.9,132.6 650.3,132.7 650.7,132.5 651.1,132.9 651.5,132.5 652.0,132.8 652.4,133.7 652.8,132.4 653.2,132.4 653.6,132.5 654.0,132.8 654.5,132.8 654.9,132.6 655.3,134.0 655.7,132.6 656.1,132.8 656.5,132.3 657.0,132.3 657.4,132.3 657.8,132.6 658.2,133.9 658.6,132.6 659.0,132.7 659.5,132.1 659.9,132.1 660.3,132.1 660.7,132.2 661.1,133.4 661.5,132.2 662.0,132.0 662.4,132.2 662.8,132.3 663.2,132.3 663.6,131.9 664.0,133.6 664.4,131.9 664.9,132.0 665.3,132.3 665.7,131.8 666.1,131.9 666.5,131.9 666.9,132.9 667.4,131.6 667.8,131.7 668.2,131.8 668.6,131.5 669.0,131.6 669.4,132.0 669.9,132.9 670.3,131.6 670.7,132.0 671.1,131.8 671.5,131.5 671.9,131.8 672.4,131.3 672.8,132.6 673.2,131.8 673.6,131.5 674.0,131.2 674.4,131.2 674.9,131.7 675.3,131.3 675.7,132.8 676.1,131.2 676.5,131.3 676.9,131.1 677.4,131.5 677.8,131.4 678.2,131.5 678.6,132.3 679.0,131.3 679.4,130.8 679.9,131.1 680.3,131.2 680.7,131.1 681.1,130.8 681.5,131.8 681.9,131.0 682.3,131.0 682.8,130.8 683.2,130.6 683.6,130.7 684.0,130.6 684.4,132.1 684.8,130.8 685.3,130.7 685.7,130.7 686.1,130.8 686.5,130.8 686.9,130.2 687.3,131.4 687.8,130.7 688.2,130.3 688.6,130.5 689.0,130.2 689.4,130.4 689.8,130.4 690.3,131.3 690.7,130.3 691.1,129.8 691.5,129.8 691.9,130.0 692.3,130.2 692.8,130.2 693.2,130.8 693.6,129.8 694.0,129.6 694.4,130.0 694.8,129.7 695.3,129.6 695.7,129.6 696.1,130.8 696.5,129.6 696.9,129.3 697.3,129.3 697.8,129.3 698.2,129.2 698.6,129.7 699.0,130.4 699.4,129.6 699.8,129.2 700.2,129.5 700.7,129.0 701.1,129.2 701.5,129.3 701.9,130.0 702.3,129.1 702.7,129.0 703.2,129.2 703.6,128.9 704.0,128.9 704.4,128.6 704.8,130.1 705.2,129.1 705.7,129.0 706.1,129.1 706.5,129.1 706.9,128.8 707.3,129.3 707.7,130.0 708.2,129.1 708.6,129.3 709.0,129.3 709.4,129.0 709.8,129.1 710.2,129.3 710.7,130.4 711.1,129.1 711.5,129.2 711.9,129.5 712.3,129.4 712.7,129.5 713.2,129.3 713.6,130.4 714.0,129.8 714.4,129.8 714.8,129.6 715.2,129.8 715.7,129.8 716.1,129.7 716.5,130.7 716.9,129.5 717.3,130.0 717.7,130.1 718.1,129.7 718.6,130.2 719.0,129.7 719.4,131.5 719.8,130.1 720.2,130.1 720.6,130.5 721.1,130.4 721.5,130.3 721.9,130.5 722.3,131.5 722.7,130.2 723.1,130.6 723.6,130.6 724.0,130.6 724.4,130.4 724.8,130.9 725.2,132.0 725.6,130.5 726.1,130.8 726.5,130.8 726.9,130.5 727.3,130.9 727.7,130.6 728.1,132.2 728.6,131.0 729.0,131.2 729.4,130.9 729.8,131.1 730.2,131.3 730.6,130.9 731.1,132.2 731.5,131.3 731.9,131.5 732.3,131.3 732.7,131.6 733.1,131.7 733.6,131.4 734.0,132.6 734.4,131.6 734.8,131.7 735.2,131.9 735.6,131.5 736.0,132.0 736.5,131.7 736.9,132.9 737.3,131.7 737.7,131.6 738.1,131.6 738.5,131.9 739.0,131.6 739.4,131.9 739.8,133.0 740.2,131.6 740.6,131.6 741.0,131.7 741.5,131.7 741.9,131.5 742.3,131.3 742.7,132.8 743.1,131.4 743.5,131.7 744.0,131.7 744.4,131.4 744.8,131.4 745.2,131.7 745.6,132.8 746.0,131.6 746.5,131.2 746.9,131.6 747.3,131.4 747.7,131.3 748.1,131.2 748.5,132.6 749.0,131.5 749.4,131.2 749.8,131.4 750.2,131.3 750.6,131.1 751.0,131.3 751.5,132.1 751.9,131.2 752.3,131.1 752.7,131.3 753.1,131.3 753.5,131.1 753.9,130.8 754.4,132.0 754.8,131.1 755.2,131.2 755.6,130.7 756.0,131.1 756.4,131.0 756.9,131.0 757.3,131.8" fill="none" stroke="#0B5FAB" stroke-width="1.3" stroke-linejoin="round"/>
<polyline points="448.4,142.5 448.8,141.4 449.2,141.5 449.6,141.2 450.1,141.3 450.5,141.7 450.9,141.2 451.3,142.6 451.7,141.8 452.1,141.6 452.6,141.5 453.0,141.6 453.4,141.7 453.8,141.5 454.2,142.7 454.6,141.8 455.1,141.8 455.5,141.7 455.9,141.9 456.3,141.7 456.7,142.0 457.1,142.9 457.6,141.8 458.0,141.8 458.4,141.7 458.8,141.8 459.2,141.6 459.6,142.0 460.1,143.4 460.5,141.6 460.9,141.9 461.3,141.8 461.7,141.7 462.1,142.2 462.6,141.9 463.0,143.0 463.4,142.1 463.8,141.8 464.2,142.2 464.6,141.8 465.1,141.7 465.5,141.9 465.9,143.3 466.3,142.1 466.7,142.3 467.1,142.2 467.5,142.0 468.0,141.8 468.4,141.9 468.8,143.7 469.2,142.1 469.6,142.2 470.0,141.8 470.5,141.8 470.9,142.3 471.3,142.2 471.7,143.3 472.1,142.0 472.5,141.9 473.0,141.9 473.4,141.8 473.8,142.3 474.2,142.1 474.6,143.2 475.0,142.2 475.5,141.9 475.9,141.8 476.3,142.2 476.7,142.3 477.1,141.8 477.5,143.6 478.0,141.9 478.4,141.9 478.8,141.8 479.2,142.0 479.6,142.2 480.0,142.1 480.5,143.6 480.9,141.9 481.3,142.0 481.7,142.0 482.1,142.4 482.5,142.4 483.0,142.0 483.4,143.4 483.8,142.0 484.2,142.2 484.6,141.8 485.0,141.8 485.4,142.0 485.9,141.9 486.3,143.6 486.7,142.2 487.1,142.1 487.5,142.2 487.9,142.2 488.4,142.2 488.8,142.3 489.2,143.1 489.6,142.1 490.0,141.7 490.4,141.9 490.9,142.1 491.3,142.1 491.7,142.0 492.1,142.8 492.5,141.7 492.9,141.6 493.4,142.0 493.8,141.5 494.2,141.5 494.6,141.5 495.0,142.5 495.4,141.7 495.9,141.5 496.3,141.1 496.7,141.2 497.1,140.9 497.5,141.2 497.9,142.2 498.4,140.7 498.8,140.7 499.2,140.9 499.6,140.9 500.0,140.6 500.4,140.8 500.9,141.8 501.3,140.3 501.7,140.4 502.1,140.4 502.5,140.6 502.9,140.1 503.3,140.0 503.8,141.5 504.2,140.4 504.6,140.3 505.0,140.1 505.4,139.7 505.8,140.0 506.3,139.9 506.7,140.8 507.1,139.6 507.5,139.3 507.9,139.6 508.3,139.5 508.8,139.5 509.2,139.4 509.6,140.3 510.0,139.2 510.4,138.8 510.8,138.7 511.3,138.8 511.7,138.7 512.1,138.5 512.5,140.0 512.9,138.6 513.3,138.3 513.8,138.4 514.2,138.2 514.6,138.3 515.0,138.0 515.4,139.5 515.8,137.9 516.3,137.9 516.7,137.9 517.1,137.8 517.5,137.6 517.9,137.9 518.3,138.7 518.8,137.4 519.2,137.5 519.6,137.1 520.0,137.2 520.4,137.5 520.8,137.4 521.2,138.6 521.7,137.4 522.1,137.2 522.5,136.9 522.9,137.0 523.3,136.8 523.7,137.0 524.2,138.0 524.6,136.5 525.0,136.9 525.4,136.7 525.8,136.7 526.2,136.5 526.7,136.5 527.1,137.5 527.5,136.1 527.9,135.7 528.3,135.9 528.7,135.9 529.2,135.8 529.6,135.7 530.0,136.7 530.4,135.5 530.8,134.9 531.2,135.3 531.7,134.8 532.1,134.5 532.5,134.6 532.9,135.6 533.3,134.0 533.7,134.1 534.2,133.4 534.6,133.5 535.0,133.2 535.4,133.0 535.8,134.1 536.2,132.4 536.7,132.4 537.1,132.4 537.5,131.8 537.9,131.4 538.3,131.2 538.7,132.5 539.1,131.3 539.6,130.5 540.0,130.8 540.4,130.3 540.8,129.8 541.2,129.7 541.6,130.6 542.1,129.4 542.5,129.0 542.9,128.6 543.3,128.4 543.7,128.5 544.1,128.2 544.6,129.0 545.0,127.5 545.4,127.4 545.8,127.3 546.2,126.6 546.6,126.4 547.1,126.3 547.5,127.5 547.9,125.7 548.3,125.5 548.7,125.4 549.1,125.3 549.6,125.3 550.0,125.0 550.4,125.7 550.8,124.2 551.2,124.3 551.6,124.3 552.1,124.1 552.5,123.6 552.9,123.7 553.3,124.8 553.7,122.9 554.1,122.9 554.6,122.5 555.0,122.2 555.4,122.3 555.8,122.0 556.2,123.6 556.6,122.3 557.0,122.4 557.5,122.0 557.9,121.8 558.3,122.2 558.7,122.2 559.1,123.5 559.5,121.9 560.0,121.9 560.4,121.7 560.8,121.5 561.2,121.6 561.6,121.8 562.0,122.8 562.5,121.7 562.9,121.5 563.3,121.4 563.7,121.6 564.1,121.0 564.5,121.1 565.0,122.0 565.4,121.1 565.8,120.7 566.2,120.5 566.6,120.3 567.0,120.4 567.5,120.2 567.9,121.2 568.3,119.7 568.7,119.8 569.1,119.8 569.5,119.6 570.0,119.5 570.4,119.2 570.8,120.3 571.2,118.6 571.6,118.2 572.0,117.9 572.5,117.6 572.9,117.3 573.3,116.8 573.7,118.3 574.1,116.4 574.5,116.0 574.9,116.0 575.4,115.8 575.8,115.4 576.2,115.1 576.6,116.3 577.0,114.4 577.4,114.1 577.9,114.2 578.3,114.0 578.7,114.0 579.1,113.6 579.5,114.9 579.9,112.9 580.4,112.7 580.8,112.9 581.2,112.5 581.6,112.2 582.0,112.0 582.4,113.3 582.9,111.8 583.3,111.7 583.7,111.7 584.1,111.2 584.5,110.9 584.9,110.9 585.4,111.6 585.8,110.5 586.2,110.4 586.6,110.3 587.0,110.0 587.4,110.2 587.9,110.1 588.3,110.0 588.7,110.1 589.1,109.6 589.5,109.7 589.9,109.4 590.4,109.2 590.8,109.5 591.2,108.0 591.6,109.3 592.0,109.1 592.4,109.0 592.8,108.4 593.3,108.3 593.7,108.3 594.1,106.0 594.5,108.5 594.9,108.3 595.3,108.3 595.8,108.4 596.2,107.9 596.6,108.2 597.0,105.0 597.4,107.8 597.8,108.1 598.3,108.0 598.7,107.8 599.1,107.6 599.5,107.9 599.9,104.7 600.3,107.3 600.8,107.4 601.2,107.2 601.6,107.6 602.0,107.2 602.4,107.6 602.8,104.3 603.3,107.2 603.7,107.3 604.1,107.1 604.5,107.1 604.9,106.9 605.3,107.0 605.8,104.0 606.2,106.9 606.6,107.2 607.0,106.8 607.4,106.8 607.8,107.0 608.3,107.1 608.7,103.9 609.1,106.7 609.5,106.9 609.9,106.9 610.3,106.8 610.7,106.5 611.2,106.5 611.6,104.0 612.0,106.7 612.4,106.9 612.8,106.8 613.2,106.7 613.7,106.5 614.1,107.0 614.5,104.1 614.9,106.9 615.3,107.0 615.7,106.9 616.2,106.9 616.6,107.0 617.0,107.0 617.4,104.4 617.8,107.4 618.2,107.3 618.7,107.1 619.1,107.1 619.5,107.6 619.9,107.4 620.3,105.0 620.7,107.5 621.2,107.8 621.6,108.0 622.0,108.3 622.4,108.5 622.8,108.2 623.2,105.8 623.7,108.7 624.1,108.6 624.5,109.1 624.9,109.1 625.3,109.5 625.7,109.1 626.2,106.6 626.6,109.4 627.0,109.6 627.4,109.6 627.8,109.6 628.2,109.6 628.6,109.7 629.1,107.2 629.5,110.0 629.9,109.8 630.3,109.9 630.7,109.8 631.1,109.8 631.6,110.3 632.0,108.4 632.4,110.4 632.8,110.2 633.2,110.5 633.6,110.1 634.1,110.6 634.5,110.6 634.9,109.9 635.3,110.7 635.7,110.7 636.1,110.6 636.6,110.8 637.0,110.6 637.4,110.5 637.8,111.3 638.2,110.9 638.6,111.2 639.1,110.9 639.5,111.3 639.9,111.5 640.3,111.4 640.7,112.5 641.1,111.0 641.6,111.0 642.0,111.0 642.4,111.1 642.8,110.9 643.2,110.9 643.6,111.8 644.1,111.4 644.5,111.0 644.9,111.2 645.3,111.1 645.7,111.2 646.1,111.3 646.5,112.0 647.0,111.1 647.4,110.8 647.8,110.9 648.2,110.9 648.6,110.9 649.0,110.9 649.5,112.1 649.9,110.9 650.3,110.9 650.7,111.2 651.1,110.7 651.5,110.7 652.0,110.7 652.4,112.2 652.8,111.1 653.2,111.1 653.6,111.3 654.0,110.8 654.5,111.3 654.9,110.8 655.3,112.0 655.7,111.1 656.1,111.2 656.5,110.8 657.0,111.0 657.4,110.7 657.8,110.9 658.2,112.3 658.6,111.2 659.0,111.0 659.5,111.2 659.9,111.2 660.3,110.9 660.7,111.3 661.1,111.4 661.5,110.7 662.0,110.9 662.4,110.9 662.8,110.9 663.2,110.8 663.6,110.4 664.0,109.6 664.4,110.8 664.9,110.6 665.3,110.7 665.7,110.4 666.1,110.5 666.5,110.0 666.9,107.8 667.4,110.1 667.8,110.3 668.2,109.9 668.6,110.0 669.0,110.1 669.4,110.0 669.9,106.6 670.3,110.0 670.7,109.4 671.1,109.4 671.5,109.6 671.9,109.8 672.4,109.5 672.8,106.1 673.2,109.1 673.6,109.2 674.0,109.2 674.4,109.0 674.9,109.0 675.3,108.7 675.7,105.7 676.1,108.4 676.5,108.2 676.9,108.2 677.4,108.4 677.8,107.8 678.2,107.8 678.6,104.8 679.0,107.5 679.4,107.7 679.9,107.1 680.3,107.5 680.7,106.9 681.1,106.8 681.5,103.8 681.9,107.0 682.3,106.8 682.8,106.5 683.2,106.5 683.6,106.4 684.0,106.0 684.4,102.4 684.8,105.9 685.3,105.5 685.7,105.3 686.1,105.3 686.5,104.8 686.9,104.7 687.3,101.5 687.8,104.7 688.2,104.7 688.6,104.7 689.0,104.5 689.4,104.4 689.8,104.1 690.3,100.8 690.7,103.8 691.1,103.4 691.5,103.2 691.9,103.5 692.3,103.1 692.8,103.3 693.2,99.8 693.6,102.5 694.0,102.7 694.4,102.5 694.8,102.2 695.3,102.2 695.7,102.1 696.1,98.9 696.5,102.2 696.9,101.8 697.3,101.9 697.8,101.9 698.2,102.0 698.6,101.4 699.0,98.1 699.4,101.3 699.8,101.2 700.2,101.1 700.7,100.9 701.1,100.9 701.5,100.8 701.9,97.7 702.3,99.3 702.7,97.0 703.2,95.5 703.6,95.0 704.0,94.8 704.4,94.4 704.8,93.4 705.2,94.0 705.7,93.6 706.1,93.4 706.5,93.3 706.9,93.4 707.3,93.7 707.7,94.5 708.2,93.9 708.6,93.6 709.0,93.8 709.4,94.1 709.8,94.1 710.2,94.1 710.7,95.2 711.1,94.0 711.5,94.1 711.9,94.4 712.3,94.4 712.7,94.7 713.2,94.8 713.6,95.4 714.0,94.8 714.4,94.9 714.8,94.6 715.2,95.0 715.7,94.9 716.1,95.0 716.5,95.8 716.9,95.0 717.3,95.6 717.7,95.6 718.1,95.7 718.6,95.5 719.0,95.6 719.4,96.4 719.8,95.9 720.2,96.1 720.6,96.1 721.1,96.3 721.5,96.0 721.9,96.3 722.3,96.8 722.7,96.4 723.1,96.2 723.6,96.5 724.0,96.6 724.4,96.5 724.8,96.6 725.2,97.7 725.6,96.8 726.1,96.9 726.5,96.7 726.9,96.9 727.3,97.3 727.7,97.4 728.1,97.9 728.6,97.4 729.0,97.4 729.4,97.1 729.8,97.1 730.2,97.4 730.6,97.2 731.1,98.5 731.5,97.3 731.9,97.6 732.3,97.6 732.7,97.3 733.1,97.8 733.6,97.5 734.0,98.2 734.4,97.4 734.8,97.7 735.2,97.8 735.6,97.6 736.0,98.0 736.5,97.7 736.9,98.9 737.3,97.6 737.7,97.8 738.1,97.8 738.5,98.0 739.0,98.0 739.4,98.0 739.8,99.2 740.2,98.2 740.6,98.3 741.0,98.2 741.5,98.5 741.9,98.3 742.3,98.5 742.7,99.5 743.1,98.5 743.5,98.5 744.0,98.4 744.4,98.8 744.8,98.8 745.2,98.8 745.6,99.3 746.0,98.7 746.5,99.0 746.9,98.7 747.3,99.0 747.7,98.9 748.1,98.8 748.5,99.7 749.0,98.8 749.4,99.2 749.8,99.3 750.2,98.9 750.6,99.2 751.0,99.5 751.5,100.0 751.9,99.5 752.3,99.7 752.7,99.6 753.1,99.4 753.5,99.9 753.9,99.9 754.4,100.6 754.8,99.7 755.2,99.9 755.6,99.9 756.0,99.8 756.4,99.8 756.9,99.8 757.3,100.8" fill="none" stroke="#E3101E" stroke-width="1.3" stroke-linejoin="round"/>
<line x1="464.1" y1="248.9" x2="491.6" y2="248.9" stroke="#0B5FAB" stroke-width="2"/>
<text x="494.3" y="251.5" font-size="11" textLength="36.6" lengthAdjust="spacingAndGlyphs">Urad dal</text>
<line x1="555.9" y1="248.9" x2="583.4" y2="248.9" stroke="#E3101E" stroke-width="2"/>
<text x="587.1" y="251.5" font-size="11" textLength="62.6" lengthAdjust="spacingAndGlyphs">Tur/ Arhar dal</text>
<line x1="663.5" y1="248.9" x2="690.3" y2="248.9" stroke="#262626" stroke-width="2"/>
<text x="693.4" y="251.5" font-size="11" textLength="47.1" lengthAdjust="spacingAndGlyphs">Moong dal</text>
<line x1="464.1" y1="263.5" x2="491.6" y2="263.5" stroke="#05A54C" stroke-width="2"/>
<text x="494.3" y="266.7" font-size="11" textLength="48.4" lengthAdjust="spacingAndGlyphs">Masoor dal</text>
<line x1="555.9" y1="263.5" x2="583.4" y2="263.5" stroke="#F5C518" stroke-width="1.6"/>
<text x="587.1" y="266.7" font-size="11" textLength="40.7" lengthAdjust="spacingAndGlyphs">Gram dal</text>
<line x1="66.5" y1="325.0" x2="66.5" y2="461.0" stroke="#000" stroke-width="1.1"/>
<line x1="62.5" y1="460.5" x2="66.5" y2="460.5" stroke="#000" stroke-width="1.1"/>
<text x="57.3" y="464.15" font-size="11" text-anchor="end">0</text>
<line x1="62.5" y1="443.5" x2="66.5" y2="443.5" stroke="#000" stroke-width="1.1"/>
<text x="57.3" y="447.3" font-size="11" text-anchor="end">10</text>
<line x1="62.5" y1="426.5" x2="66.5" y2="426.5" stroke="#000" stroke-width="1.1"/>
<text x="57.3" y="430.45" font-size="11" text-anchor="end">20</text>
<line x1="62.5" y1="409.5" x2="66.5" y2="409.5" stroke="#000" stroke-width="1.1"/>
<text x="57.3" y="413.6" font-size="11" text-anchor="end">30</text>
<line x1="62.5" y1="392.5" x2="66.5" y2="392.5" stroke="#000" stroke-width="1.1"/>
<text x="57.3" y="396.75" font-size="11" text-anchor="end">40</text>
<line x1="62.5" y1="375.5" x2="66.5" y2="375.5" stroke="#000" stroke-width="1.1"/>
<text x="57.3" y="379.9" font-size="11" text-anchor="end">50</text>
<line x1="62.5" y1="359.5" x2="66.5" y2="359.5" stroke="#000" stroke-width="1.1"/>
<text x="57.3" y="363.05" font-size="11" text-anchor="end">60</text>
<line x1="62.5" y1="342.5" x2="66.5" y2="342.5" stroke="#000" stroke-width="1.1"/>
<text x="57.3" y="346.2" font-size="11" text-anchor="end">70</text>
<line x1="62.5" y1="325.5" x2="66.5" y2="325.5" stroke="#000" stroke-width="1.1"/>
<text x="57.3" y="329.35" font-size="11" text-anchor="end">80</text>
<line x1="66.5" y1="460.5" x2="339.6" y2="460.5" stroke="#000" stroke-width="1.1"/>
<line x1="66.5" y1="460.5" x2="66.5" y2="465.0" stroke="#000" stroke-width="1.1"/>
<line x1="88.5" y1="460.5" x2="88.5" y2="465.0" stroke="#000" stroke-width="1.1"/>
<line x1="110.5" y1="460.5" x2="110.5" y2="465.0" stroke="#000" stroke-width="1.1"/>
<line x1="132.5" y1="460.5" x2="132.5" y2="465.0" stroke="#000" stroke-width="1.1"/>
<line x1="155.5" y1="460.5" x2="155.5" y2="465.0" stroke="#000" stroke-width="1.1"/>
<line x1="177.5" y1="460.5" x2="177.5" y2="465.0" stroke="#000" stroke-width="1.1"/>
<line x1="200.5" y1="460.5" x2="200.5" y2="465.0" stroke="#000" stroke-width="1.1"/>
<line x1="222.5" y1="460.5" x2="222.5" y2="465.0" stroke="#000" stroke-width="1.1"/>
<line x1="244.5" y1="460.5" x2="244.5" y2="465.0" stroke="#000" stroke-width="1.1"/>
<line x1="266.5" y1="460.5" x2="266.5" y2="465.0" stroke="#000" stroke-width="1.1"/>
<line x1="289.5" y1="460.5" x2="289.5" y2="465.0" stroke="#000" stroke-width="1.1"/>
<line x1="311.5" y1="460.5" x2="311.5" y2="465.0" stroke="#000" stroke-width="1.1"/>
<line x1="334.5" y1="460.5" x2="334.5" y2="465.0" stroke="#000" stroke-width="1.1"/>
<line x1="339.5" y1="325.0" x2="339.5" y2="460.5" stroke="#000" stroke-width="1.1"/>
<line x1="339.5" y1="460.5" x2="343.3" y2="460.5" stroke="#000" stroke-width="1.1"/>
<text x="346.5" y="464.15" font-size="11">0</text>
<line x1="339.5" y1="443.5" x2="343.3" y2="443.5" stroke="#000" stroke-width="1.1"/>
<text x="346.5" y="447.3" font-size="11">20</text>
<line x1="339.5" y1="426.5" x2="343.3" y2="426.5" stroke="#000" stroke-width="1.1"/>
<text x="346.5" y="430.45" font-size="11">40</text>
<line x1="339.5" y1="409.5" x2="343.3" y2="409.5" stroke="#000" stroke-width="1.1"/>
<text x="346.5" y="413.6" font-size="11">60</text>
<line x1="339.5" y1="392.5" x2="343.3" y2="392.5" stroke="#000" stroke-width="1.1"/>
<text x="346.5" y="396.75" font-size="11">80</text>
<line x1="339.5" y1="375.5" x2="343.3" y2="375.5" stroke="#000" stroke-width="1.1"/>
<text x="346.5" y="379.9" font-size="11">100</text>
<line x1="339.5" y1="359.5" x2="343.3" y2="359.5" stroke="#000" stroke-width="1.1"/>
<text x="346.5" y="363.05" font-size="11">120</text>
<line x1="339.5" y1="342.5" x2="343.3" y2="342.5" stroke="#000" stroke-width="1.1"/>
<text x="346.5" y="346.2" font-size="11">140</text>
<line x1="339.5" y1="325.5" x2="343.3" y2="325.5" stroke="#000" stroke-width="1.1"/>
<text x="346.5" y="329.35" font-size="11">160</text>
<text x="167.5" y="312.4" font-size="11.5" font-weight="bold" textLength="67.4" lengthAdjust="spacingAndGlyphs">c. Vegetables</text>
<polyline points="66.4,412.6 66.8,411.7 67.1,411.9 67.5,411.6 67.9,412.0 68.2,412.2 68.6,412.0 69.0,412.7 69.3,412.4 69.7,412.3 70.1,412.1 70.4,412.5 70.8,412.7 71.2,412.3 71.5,413.6 71.9,412.8 72.3,412.5 72.6,412.6 73.0,413.1 73.4,412.8 73.7,413.0 74.1,414.0 74.5,413.3 74.8,413.2 75.2,413.6 75.6,413.9 75.9,414.2 76.3,414.3 76.7,415.2 77.0,414.4 77.4,415.0 77.8,414.8 78.1,415.3 78.5,415.3 78.9,415.6 79.2,416.4 79.6,415.7 80.0,415.9 80.3,416.3 80.7,416.3 81.1,416.3 81.4,416.6 81.8,418.0 82.2,417.3 82.5,417.4 82.9,417.5 83.3,417.9 83.6,417.8 84.0,418.2 84.4,418.8 84.7,418.5 85.1,418.9 85.5,418.9 85.8,418.6 86.2,419.0 86.6,419.0 86.9,420.2 87.3,419.0 87.7,419.1 88.0,419.3 88.4,419.6 88.8,420.0 89.1,419.9 89.5,420.9 89.9,419.8 90.2,420.0 90.6,420.3 91.0,420.5 91.3,420.7 91.7,420.7 92.1,421.5 92.4,420.7 92.8,421.0 93.2,421.0 93.5,421.4 93.9,421.6 94.3,421.6 94.6,422.2 95.0,421.9 95.4,421.5 95.7,421.7 96.1,422.2 96.5,422.1 96.8,422.5 97.2,423.4 97.6,422.7 97.9,422.8 98.3,423.1 98.7,423.2 99.0,422.9 99.4,423.6 99.7,424.2 100.1,423.4 100.5,423.9 100.8,424.1 101.2,424.2 101.6,424.3 101.9,424.0 102.3,425.1 102.7,424.7 103.0,425.0 103.4,424.7 103.8,425.1 104.1,424.9 104.5,425.4 104.9,426.1 105.2,425.3 105.6,425.5 106.0,425.9 106.3,426.0 106.7,426.2 107.1,426.2 107.4,427.3 107.8,426.5 108.2,426.8 108.5,426.5 108.9,427.0 109.3,427.2 109.6,427.0 110.0,428.3 110.4,427.6 110.7,427.9 111.1,427.6 111.5,427.9 111.8,428.2 112.2,428.4 112.6,429.2 112.9,428.3 113.3,428.7 113.7,428.6 114.0,428.8 114.4,429.0 114.8,429.3 115.1,429.6 115.5,429.4 115.9,429.6 116.2,429.4 116.6,429.5 117.0,429.8 117.3,429.6 117.7,431.0 118.1,430.1 118.4,430.3 118.8,430.5 119.2,430.2 119.5,430.4 119.9,430.7 120.3,431.7 120.6,430.8 121.0,430.8 121.4,430.7 121.7,431.0 122.1,431.4 122.5,430.9 122.8,432.1 123.2,431.1 123.6,431.6 123.9,431.5 124.3,431.2 124.7,431.7 125.0,431.4 125.4,432.3 125.8,431.2 126.1,431.1 126.5,430.9 126.9,430.9 127.2,430.9 127.6,430.6 128.0,431.3 128.3,430.4 128.7,430.8 129.1,430.5 129.4,430.7 129.8,430.3 130.2,430.3 130.5,430.8 130.9,430.1 131.3,429.7 131.6,429.9 132.0,429.5 132.4,429.2 132.7,429.2 133.1,429.7 133.5,428.9 133.8,428.8 134.2,428.9 134.6,428.9 134.9,428.3 135.3,428.4 135.7,429.2 136.0,428.2 136.4,427.8 136.8,427.7 137.1,427.9 137.5,427.6 137.9,427.6 138.2,428.1 138.6,427.6 139.0,427.3 139.3,427.4 139.7,427.0 140.1,426.9 140.4,426.8 140.8,427.8 141.2,426.6 141.5,426.7 141.9,426.8 142.3,426.5 142.6,426.4 143.0,426.3 143.4,427.2 143.7,426.5 144.1,426.1 144.5,426.2 144.8,426.5 145.2,426.1 145.6,425.9 145.9,427.0 146.3,426.2 146.7,426.0 147.0,425.7 147.4,425.7 147.8,425.6 148.1,425.9 148.5,426.1 148.9,425.7 149.2,425.3 149.6,425.2 150.0,425.5 150.3,425.4 150.7,424.8 151.1,425.7 151.4,424.6 151.8,424.9 152.2,424.9 152.5,424.4 152.9,424.4 153.3,424.1 153.6,424.8 154.0,423.9 154.4,424.2 154.7,423.7 155.1,423.7 155.5,423.5 155.8,423.5 156.2,424.1 156.6,423.1 156.9,422.8 157.3,423.1 157.7,422.9 158.0,422.5 158.4,422.3 158.8,423.0 159.1,422.1 159.5,422.2 159.9,421.8 160.2,421.7 160.6,422.0 161.0,421.7 161.3,422.1 161.7,421.5 162.1,421.6 162.4,421.3 162.8,421.1 163.2,421.0 163.5,421.2 163.9,421.8 164.3,420.6 164.6,420.7 165.0,420.8 165.3,420.4 165.7,420.6 166.1,420.7 166.4,421.3 166.8,420.7 167.2,420.3 167.5,420.8 167.9,420.7 168.3,420.7 168.6,420.5 169.0,421.2 169.4,420.3 169.7,420.2 170.1,420.4 170.5,420.3 170.8,420.6 171.2,420.1 171.6,420.8 171.9,420.5 172.3,420.5 172.7,420.2 173.0,420.4 173.4,420.3 173.8,420.3 174.1,421.0 174.5,420.1 174.9,420.2 175.2,420.3 175.6,420.4 176.0,420.4 176.3,420.3 176.7,421.2 177.1,419.9 177.4,419.9 177.8,420.1 178.2,419.9 178.5,420.3 178.9,420.1 179.3,421.3 179.6,420.0 180.0,420.5 180.4,420.0 180.7,420.6 181.1,420.3 181.5,420.2 181.8,421.1 182.2,420.5 182.6,420.6 182.9,420.5 183.3,420.2 183.7,420.4 184.0,420.4 184.4,421.1 184.8,420.7 185.1,420.6 185.5,420.6 185.9,420.4 186.2,420.6 186.6,420.4 187.0,421.3 187.3,420.7 187.7,420.4 188.1,420.7 188.4,420.4 188.8,420.8 189.2,420.4 189.5,421.6 189.9,420.3 190.3,420.4 190.6,420.6 191.0,420.4 191.4,420.3 191.7,420.3 192.1,421.3 192.5,420.4 192.8,420.7 193.2,420.6 193.6,420.5 193.9,420.5 194.3,420.3 194.7,421.2 195.0,420.6 195.4,420.7 195.8,420.2 196.1,420.3 196.5,420.6 196.9,420.3 197.2,421.1 197.6,420.1 198.0,420.6 198.3,420.1 198.7,420.4 199.1,420.1 199.4,420.2 199.8,421.4 200.2,420.1 200.5,420.4 200.9,420.1 201.3,420.4 201.6,420.1 202.0,420.2 202.4,421.1 202.7,419.8 203.1,420.0 203.5,420.3 203.8,419.9 204.2,420.0 204.6,420.2 204.9,420.9 205.3,420.2 205.7,419.9 206.0,419.9 206.4,419.6 206.8,420.1 207.1,419.7 207.5,420.6 207.9,419.7 208.2,419.6 208.6,419.9 209.0,419.7 209.3,419.6 209.7,419.5 210.1,420.7 210.4,419.9 210.8,420.2 211.2,420.1 211.5,420.0 211.9,420.3 212.3,420.1 212.6,421.0 213.0,420.5 213.4,420.6 213.7,420.9 214.1,420.4 214.5,421.0 214.8,420.8 215.2,421.5 215.6,421.1 215.9,421.3 216.3,421.3 216.7,421.4 217.0,421.8 217.4,421.7 217.8,422.9 218.1,421.8 218.5,421.8 218.9,422.2 219.2,422.5 219.6,422.3 220.0,422.4 220.3,423.5 220.7,423.0 221.1,423.0 221.4,423.1 221.8,423.1 222.2,423.3 222.5,423.4 222.9,423.9 223.3,423.7 223.6,423.4 224.0,423.5 224.4,423.6 224.7,423.8 225.1,423.7 225.5,424.7 225.8,423.8 226.2,423.8 226.6,424.0 226.9,423.9 227.3,423.9 227.7,424.4 228.0,424.9 228.4,424.4 228.8,424.7 229.1,424.7 229.5,424.3 229.9,424.6 230.2,424.7 230.6,425.4 230.9,424.7 231.3,425.1 231.7,424.7 232.0,425.2 232.4,425.2 232.8,424.9 233.1,425.9 233.5,425.2 233.9,425.5 234.2,425.0 234.6,425.6 235.0,425.2 235.3,425.4 235.7,426.1 236.1,425.9 236.4,425.8 236.8,425.5 237.2,425.7 237.5,425.2 237.9,425.5 238.3,426.2 238.6,425.5 239.0,425.3 239.4,425.5 239.7,425.4 240.1,425.3 240.5,425.3 240.8,426.0 241.2,425.2 241.6,425.3 241.9,425.1 242.3,424.7 242.7,425.0 243.0,424.6 243.4,425.6 243.8,424.8 244.1,424.6 244.5,424.6 244.9,424.3 245.2,424.6 245.6,424.4 246.0,424.9 246.3,423.9 246.7,424.2 247.1,423.9 247.4,423.6 247.8,423.6 248.2,423.3 248.5,424.1 248.9,423.0 249.3,422.8 249.6,422.9 250.0,422.5 250.4,422.7 250.7,422.3 251.1,422.8 251.5,421.7 251.8,421.5 252.2,421.4 252.6,421.3 252.9,420.8 253.3,421.0 253.7,421.4 254.0,420.4 254.4,420.2 254.8,420.1 255.1,420.1 255.5,419.7 255.9,419.8 256.2,420.4 256.6,419.3 257.0,419.5 257.3,419.3 257.7,418.7 258.1,418.7 258.4,418.6 258.8,419.1 259.2,418.2 259.5,418.4 259.9,418.0 260.3,418.0 260.6,417.5 261.0,417.5 261.4,418.1 261.7,417.3 262.1,416.8 262.5,416.5 262.8,416.8 263.2,416.7 263.6,416.0 263.9,417.2 264.3,416.0 264.7,415.7 265.0,415.6 265.4,415.5 265.8,415.6 266.1,415.7 266.5,416.0 266.9,415.3 267.2,414.9 267.6,414.7 268.0,415.1 268.3,414.9 268.7,414.3 269.1,415.0 269.4,414.3 269.8,414.3 270.2,413.9 270.5,413.6 270.9,413.6 271.3,413.6 271.6,414.5 272.0,413.1 272.4,413.3 272.7,413.2 273.1,412.9 273.5,412.9 273.8,412.6 274.2,413.5 274.6,412.8 274.9,412.4 275.3,412.5 275.7,412.5 276.0,412.0 276.4,412.1 276.8,412.8 277.1,411.8 277.5,411.9 277.9,411.5 278.2,411.7 278.6,411.7 279.0,411.3 279.3,411.9 279.7,411.5 280.1,411.3 280.4,410.8 280.8,410.9 281.2,410.4 281.5,410.2 281.9,411.1 282.3,409.8 282.6,409.7 283.0,409.7 283.4,409.3 283.7,408.9 284.1,409.3 284.5,409.6 284.8,408.5 285.2,408.3 285.6,408.2 285.9,407.6 286.3,407.4 286.7,407.2 287.0,407.8 287.4,406.5 287.8,406.3 288.1,405.7 288.5,405.3 288.9,405.0 289.2,404.7 289.6,405.2 290.0,404.5 290.3,404.2 290.7,403.4 291.1,403.4 291.4,403.3 291.8,403.0 292.2,403.0 292.5,402.0 292.9,401.7 293.3,401.0 293.6,400.6 294.0,400.6 294.4,400.2 294.7,400.7 295.1,399.2 295.4,398.9 295.8,398.9 296.2,398.2 296.5,397.9 296.9,398.0 297.3,398.4 297.6,397.5 298.0,397.7 298.4,397.8 298.7,397.5 299.1,397.6 299.5,397.7 299.8,398.5 300.2,397.3 300.6,397.5 300.9,397.2 301.3,397.3 301.7,397.5 302.0,397.3 302.4,398.4 302.8,397.4 303.1,397.7 303.5,397.7 303.9,397.8 304.2,397.7 304.6,397.9 305.0,399.0 305.3,397.9 305.7,398.4 306.1,398.5 306.4,398.6 306.8,398.4 307.2,398.5 307.5,399.3 307.9,398.7 308.3,398.9 308.6,398.8 309.0,398.9 309.4,399.1 309.7,398.9 310.1,399.5 310.5,399.3 310.8,399.1 311.2,399.2 311.6,399.2 311.9,399.4 312.3,399.2 312.7,400.0 313.0,399.3 313.4,399.6 313.8,399.5 314.1,399.9 314.5,399.8 314.9,399.9 315.2,400.3 315.6,399.6 316.0,400.0 316.3,400.0 316.7,399.8 317.1,399.9 317.4,399.7 317.8,401.2 318.2,399.9 318.5,400.3 318.9,400.2 319.3,400.3 319.6,399.8 320.0,400.1 320.4,400.8 320.7,400.1 321.1,399.7 321.5,400.1 321.8,400.1 322.2,399.6 322.6,399.4 322.9,400.5 323.3,399.6 323.7,399.6 324.0,399.8 324.4,399.6 324.8,399.5 325.1,399.6 325.5,400.2 325.9,399.2 326.2,399.0 326.6,399.0 327.0,399.2 327.3,398.9 327.7,398.9 328.1,399.9 328.4,399.1 328.8,398.8 329.2,399.2 329.5,399.1 329.9,398.8 330.3,398.9 330.6,399.5 331.0,399.1 331.4,399.1 331.7,399.1 332.1,398.7 332.5,399.2 332.8,398.8 333.2,399.8 333.6,398.8 333.9,398.8 334.3,398.8 334.7,398.6 335.0,398.9 335.4,398.9 335.8,399.8 336.1,398.8 336.5,399.2 336.9,399.0 337.2,399.1 337.6,398.8 338.0,399.2 338.3,399.9 338.7,399.0" fill="none" stroke="#0B5FAB" stroke-width="1.3" stroke-linejoin="round"/>
<polyline points="66.4,412.9 66.8,409.8 67.1,409.6 67.5,409.8 67.9,409.5 68.2,409.8 68.6,409.5 69.0,412.1 69.3,408.6 69.7,408.9 70.1,409.0 70.4,408.6 70.8,409.0 71.2,408.9 71.5,411.7 71.9,409.4 72.3,409.2 72.6,409.0 73.0,409.3 73.4,409.8 73.7,409.4 74.1,412.2 74.5,409.6 74.8,410.2 75.2,410.5 75.6,410.5 75.9,411.1 76.3,411.1 76.7,414.3 77.0,411.6 77.4,411.8 77.8,411.9 78.1,411.9 78.5,412.6 78.9,412.9 79.2,415.9 79.6,413.0 80.0,413.0 80.3,413.3 80.7,413.8 81.1,414.1 81.4,413.8 81.8,417.6 82.2,414.8 82.5,415.0 82.9,415.4 83.3,415.4 83.6,415.5 84.0,415.5 84.4,418.9 84.7,416.3 85.1,416.7 85.5,416.6 85.8,416.2 86.2,416.4 86.6,416.5 86.9,418.8 87.3,416.1 87.7,416.1 88.0,415.9 88.4,415.9 88.8,415.6 89.1,415.6 89.5,418.4 89.9,415.9 90.2,415.9 90.6,416.1 91.0,415.6 91.3,415.8 91.7,415.8 92.1,418.3 92.4,416.2 92.8,415.7 93.2,416.0 93.5,416.0 93.9,416.0 94.3,416.1 94.6,419.0 95.0,415.7 95.4,415.9 95.7,415.7 96.1,415.6 96.5,416.1 96.8,416.1 97.2,419.0 97.6,415.8 97.9,416.6 98.3,416.4 98.7,416.3 99.0,416.8 99.4,416.2 99.7,419.3 100.1,416.4 100.5,416.7 100.8,417.1 101.2,416.7 101.6,417.3 101.9,417.3 102.3,419.9 102.7,417.6 103.0,417.1 103.4,417.4 103.8,417.7 104.1,417.8 104.5,418.0 104.9,421.5 105.2,418.5 105.6,418.8 106.0,418.8 106.3,418.8 106.7,418.9 107.1,419.6 107.4,422.6 107.8,420.1 108.2,419.7 108.5,420.0 108.9,420.2 109.3,420.5 109.6,420.3 110.0,423.9 110.4,421.2 110.7,420.7 111.1,421.3 111.5,421.1 111.8,421.2 112.2,421.1 112.6,424.3 112.9,421.5 113.3,421.1 113.7,421.2 114.0,421.8 114.4,421.3 114.8,421.7 115.1,424.7 115.5,421.5 115.9,421.9 116.2,421.8 116.6,421.7 117.0,422.3 117.3,421.7 117.7,425.2 118.1,422.1 118.4,422.1 118.8,422.1 119.2,422.6 119.5,422.8 119.9,422.2 120.3,425.4 120.6,422.2 121.0,422.6 121.4,422.5 121.7,422.9 122.1,422.7 122.5,423.1 122.8,426.2 123.2,422.9 123.6,422.9 123.9,423.6 124.3,423.0 124.7,423.6 125.0,423.8 125.4,426.1 125.8,423.7 126.1,424.1 126.5,423.5 126.9,424.1 127.2,424.1 127.6,423.7 128.0,426.6 128.3,424.5 128.7,423.9 129.1,424.2 129.4,424.0 129.8,424.3 130.2,424.3 130.5,427.6 130.9,424.2 131.3,424.2 131.6,424.6 132.0,424.3 132.4,424.6 132.7,424.3 133.1,427.2 133.5,424.5 133.8,424.8 134.2,424.9 134.6,424.4 134.9,424.7 135.3,425.0 135.7,427.6 136.0,425.0 136.4,425.1 136.8,424.7 137.1,424.9 137.5,424.8 137.9,424.5 138.2,427.7 138.6,425.0 139.0,424.3 139.3,425.0 139.7,424.3 140.1,424.5 140.4,424.2 140.8,427.2 141.2,424.5 141.5,424.4 141.9,424.3 142.3,424.4 142.6,424.5 143.0,424.4 143.4,426.8 143.7,424.3 144.1,423.8 144.5,424.3 144.8,423.8 145.2,424.1 145.6,423.8 145.9,426.4 146.3,424.0 146.7,423.8 147.0,423.5 147.4,424.1 147.8,423.6 148.1,423.9 148.5,426.5 148.9,423.9 149.2,423.5 149.6,423.3 150.0,423.5 150.3,423.6 150.7,423.1 151.1,426.2 151.4,422.8 151.8,422.6 152.2,422.7 152.5,422.5 152.9,422.4 153.3,421.8 153.6,424.8 154.0,421.9 154.4,421.4 154.7,421.0 155.1,420.9 155.5,420.7 155.8,419.8 156.2,422.8 156.6,419.2 156.9,418.7 157.3,418.6 157.7,417.8 158.0,418.0 158.4,417.6 158.8,419.3 159.1,416.4 159.5,415.9 159.9,415.9 160.2,416.4 160.6,416.2 161.0,415.8 161.3,418.4 161.7,416.0 162.1,415.8 162.4,415.9 162.8,415.9 163.2,415.9 163.5,415.5 163.9,418.4 164.3,415.8 164.6,415.3 165.0,415.3 165.3,415.1 165.7,415.3 166.1,415.2 166.4,418.0 166.8,415.2 167.2,414.6 167.5,415.1 167.9,414.9 168.3,414.3 168.6,414.5 169.0,417.1 169.4,414.6 169.7,414.7 170.1,413.9 170.5,413.3 170.8,412.9 171.2,412.6 171.6,414.3 171.9,411.4 172.3,410.6 172.7,410.3 173.0,409.9 173.4,409.0 173.8,408.8 174.1,411.1 174.5,408.0 174.9,407.8 175.2,407.1 175.6,406.9 176.0,406.9 176.3,406.9 176.7,408.7 177.1,406.1 177.4,406.1 177.8,405.8 178.2,405.8 178.5,405.9 178.9,405.6 179.3,408.5 179.6,406.0 180.0,405.3 180.4,405.8 180.7,405.9 181.1,406.0 181.5,405.7 181.8,408.7 182.2,406.0 182.6,405.3 182.9,405.2 183.3,405.3 183.7,405.8 184.0,405.3 184.4,408.0 184.8,405.7 185.1,405.3 185.5,405.3 185.9,405.7 186.2,405.5 186.6,405.6 187.0,408.1 187.3,405.5 187.7,405.5 188.1,405.0 188.4,405.4 188.8,405.2 189.2,405.2 189.5,407.8 189.9,405.4 190.3,404.9 190.6,404.5 191.0,405.0 191.4,404.2 191.7,404.3 192.1,407.4 192.5,404.4 192.8,403.9 193.2,404.3 193.6,403.7 193.9,403.5 194.3,402.8 194.7,405.2 195.0,402.0 195.4,401.1 195.8,401.1 196.1,400.2 196.5,399.6 196.9,399.2 197.2,400.8 197.6,395.7 198.0,393.9 198.3,391.2 198.7,389.3 199.1,385.9 199.4,381.1 199.8,380.0 200.2,373.5 200.5,369.8 200.9,366.7 201.3,363.4 201.6,362.3 202.0,362.0 202.4,364.3 202.7,360.9 203.1,361.3 203.5,360.7 203.8,361.2 204.2,361.4 204.6,361.1 204.9,363.7 205.3,361.2 205.7,361.1 206.0,361.1 206.4,361.6 206.8,361.4 207.1,360.8 207.5,363.7 207.9,361.1 208.2,361.1 208.6,362.2 209.0,361.8 209.3,362.1 209.7,363.1 210.1,366.0 210.4,363.8 210.8,363.4 211.2,363.9 211.5,364.3 211.9,364.2 212.3,364.8 212.6,367.0 213.0,364.9 213.4,364.8 213.7,364.7 214.1,365.7 214.5,366.4 214.8,367.7 215.2,370.9 215.6,369.2 215.9,370.1 216.3,371.1 216.7,371.4 217.0,372.3 217.4,374.0 217.8,377.8 218.1,376.8 218.5,379.0 218.9,380.2 219.2,381.9 219.6,383.3 220.0,385.5 220.3,389.0 220.7,387.4 221.1,388.3 221.4,389.4 221.8,390.6 222.2,391.8 222.5,392.8 222.9,396.1 223.3,393.7 223.6,394.7 224.0,394.6 224.4,395.3 224.7,395.6 225.1,396.2 225.5,399.6 225.8,397.1 226.2,397.2 226.6,397.7 226.9,398.1 227.3,398.7 227.7,398.6 228.0,401.9 228.4,399.6 228.8,399.7 229.1,400.2 229.5,400.4 229.9,400.5 230.2,400.8 230.6,404.1 230.9,401.5 231.3,402.0 231.7,402.3 232.0,402.2 232.4,402.5 232.8,402.7 233.1,406.0 233.5,403.3 233.9,404.0 234.2,404.1 234.6,404.3 235.0,405.1 235.3,404.8 235.7,408.4 236.1,405.4 236.4,406.0 236.8,406.3 237.2,406.1 237.5,406.6 237.9,406.6 238.3,409.9 238.6,406.8 239.0,406.9 239.4,407.6 239.7,407.8 240.1,407.4 240.5,407.6 240.8,410.3 241.2,407.0 241.6,407.3 241.9,406.8 242.3,407.3 242.7,406.9 243.0,406.6 243.4,409.3 243.8,406.3 244.1,406.2 244.5,406.3 244.9,406.4 245.2,406.1 245.6,406.4 246.0,409.1 246.3,406.4 246.7,406.1 247.1,406.0 247.4,405.6 247.8,405.5 248.2,406.2 248.5,408.6 248.9,406.0 249.3,405.9 249.6,406.1 250.0,405.7 250.4,406.0 250.7,406.2 251.1,408.5 251.5,406.3 251.8,405.9 252.2,406.2 252.6,406.1 252.9,406.0 253.3,406.3 253.7,409.4 254.0,406.9 254.4,406.7 254.8,407.1 255.1,406.7 255.5,406.6 255.9,407.3 256.2,409.8 256.6,407.0 257.0,407.0 257.3,407.0 257.7,407.6 258.1,407.2 258.4,407.8 258.8,410.5 259.2,407.3 259.5,407.8 259.9,407.7 260.3,408.0 260.6,408.3 261.0,408.1 261.4,411.3 261.7,408.4 262.1,408.5 262.5,408.6 262.8,408.3 263.2,408.6 263.6,408.5 263.9,411.7 264.3,408.9 264.7,408.7 265.0,408.7 265.4,408.4 265.8,408.5 266.1,408.4 266.5,411.5 266.9,408.3 267.2,408.4 267.6,408.8 268.0,408.6 268.3,408.7 268.7,408.3 269.1,411.3 269.4,409.0 269.8,408.6 270.2,408.8 270.5,408.4 270.9,408.9 271.3,408.5 271.6,411.2 272.0,408.2 272.4,408.2 272.7,408.5 273.1,408.9 273.5,408.3 273.8,408.5 274.2,411.6 274.6,408.9 274.9,408.7 275.3,408.4 275.7,408.6 276.0,408.2 276.4,408.5 276.8,411.3 277.1,408.7 277.5,408.3 277.9,408.3 278.2,408.3 278.6,408.7 279.0,408.7 279.3,410.9 279.7,408.6 280.1,408.1 280.4,408.5 280.8,407.8 281.2,407.5 281.5,406.3 281.9,408.4 282.3,405.6 282.6,404.5 283.0,403.8 283.4,402.8 283.7,401.6 284.1,400.8 284.5,402.4 284.8,398.7 285.2,397.5 285.6,396.4 285.9,395.2 286.3,393.5 286.7,393.0 287.0,395.5 287.4,392.7 287.8,392.5 288.1,392.2 288.5,391.8 288.9,391.5 289.2,391.3 289.6,394.2 290.0,390.8 290.3,390.7 290.7,390.5 291.1,389.9 291.4,389.2 291.8,389.0 292.2,390.8 292.5,388.2 292.9,387.6 293.3,387.1 293.6,386.0 294.0,386.3 294.4,386.4 294.7,389.5 295.1,386.5 295.4,386.1 295.8,386.6 296.2,386.6 296.5,386.2 296.9,386.3 297.3,388.9 297.6,386.1 298.0,386.3 298.4,386.4 298.7,386.9 299.1,386.7 299.5,386.7 299.8,389.6 300.2,386.8 300.6,387.5 300.9,387.6 301.3,387.6 301.7,387.5 302.0,388.0 302.4,390.5 302.8,387.9 303.1,388.4 303.5,388.1 303.9,387.9 304.2,387.3 304.6,387.7 305.0,389.8 305.3,386.8 305.7,386.4 306.1,386.2 306.4,386.3 306.8,385.7 307.2,385.3 307.5,387.4 307.9,384.3 308.3,384.0 308.6,383.6 309.0,382.9 309.4,382.5 309.7,382.6 310.1,384.5 310.5,381.3 310.8,381.3 311.2,380.9 311.6,380.0 311.9,379.5 312.3,379.6 312.7,382.2 313.0,378.9 313.4,378.4 313.8,378.1 314.1,378.0 314.5,377.3 314.9,377.2 315.2,379.7 315.6,376.1 316.0,376.5 316.3,376.0 316.7,375.8 317.1,375.6 317.4,374.6 317.8,377.5 318.2,374.3 318.5,373.7 318.9,374.0 319.3,373.6 319.6,372.6 320.0,372.5 320.4,375.1 320.7,371.5 321.1,371.4 321.5,371.1 321.8,370.4 322.2,370.8 322.6,370.3 322.9,372.8 323.3,369.8 323.7,370.1 324.0,369.5 324.4,370.0 324.8,369.8 325.1,369.5 325.5,372.8 325.9,369.6 326.2,369.8 326.6,369.8 327.0,369.9 327.3,369.8 327.7,369.6 328.1,372.9 328.4,369.5 328.8,369.8 329.2,369.9 329.5,370.1 329.9,370.0 330.3,369.5 330.6,372.0 331.0,369.9 331.4,369.8 331.7,369.7 332.1,369.7 332.5,369.0 332.8,369.4 333.2,371.7 333.6,369.5 333.9,369.5 334.3,368.8 334.7,369.4 335.0,368.9 335.4,368.9 335.8,371.2 336.1,368.0 336.5,367.9 336.9,367.3 337.2,367.2 337.6,366.4 338.0,365.9 338.3,368.3 338.7,364.5" fill="none" stroke="#E3101E" stroke-width="1.3" stroke-linejoin="round"/>
<polyline points="66.4,423.5 66.8,422.9 67.1,423.1 67.5,423.7 67.9,424.8 68.2,425.6 68.6,425.7 69.0,427.6 69.3,427.4 69.7,427.8 70.1,428.2 70.4,428.5 70.8,428.7 71.2,429.5 71.5,431.0 71.9,430.3 72.3,430.8 72.6,431.4 73.0,431.8 73.4,432.3 73.7,432.1 74.1,434.1 74.5,433.0 74.8,433.4 75.2,433.6 75.6,433.1 75.9,433.9 76.3,433.7 76.7,435.3 77.0,434.4 77.4,434.7 77.8,434.9 78.1,434.9 78.5,435.2 78.9,435.0 79.2,436.1 79.6,435.0 80.0,435.4 80.3,435.7 80.7,435.6 81.1,435.9 81.4,435.5 81.8,437.5 82.2,436.1 82.5,436.6 82.9,436.8 83.3,437.2 83.6,437.2 84.0,437.2 84.4,439.0 84.7,438.0 85.1,438.4 85.5,439.1 85.8,438.9 86.2,439.6 86.6,439.4 86.9,441.0 87.3,439.8 87.7,439.8 88.0,440.1 88.4,440.7 88.8,440.5 89.1,440.6 89.5,442.2 89.9,440.9 90.2,440.8 90.6,440.9 91.0,441.5 91.3,441.5 91.7,441.4 92.1,443.4 92.4,441.6 92.8,442.0 93.2,441.7 93.5,442.0 93.9,441.8 94.3,441.4 94.6,443.2 95.0,441.6 95.4,441.7 95.7,442.0 96.1,442.2 96.5,441.8 96.8,441.9 97.2,443.0 97.6,441.9 97.9,441.5 98.3,442.2 98.7,441.5 99.0,441.9 99.4,441.5 99.7,442.8 100.1,442.3 100.5,442.2 100.8,441.8 101.2,442.0 101.6,441.8 101.9,442.6 102.3,443.8 102.7,442.6 103.0,442.6 103.4,442.6 103.8,442.2 104.1,442.2 104.5,442.5 104.9,444.0 105.2,443.0 105.6,442.8 106.0,442.7 106.3,443.0 106.7,443.3 107.1,442.9 107.4,444.1 107.8,442.7 108.2,443.1 108.5,442.6 108.9,443.0 109.3,442.7 109.6,443.0 110.0,444.1 110.4,443.2 110.7,443.0 111.1,443.2 111.5,442.9 111.8,442.5 112.2,443.3 112.6,444.3 112.9,443.2 113.3,443.2 113.7,442.6 114.0,443.2 114.4,442.6 114.8,442.7 115.1,443.8 115.5,442.9 115.9,442.7 116.2,442.7 116.6,443.0 117.0,442.6 117.3,442.9 117.7,444.3 118.1,442.5 118.4,443.2 118.8,443.1 119.2,443.1 119.5,443.1 119.9,443.3 120.3,443.8 120.6,442.6 121.0,443.1 121.4,442.5 121.7,443.0 122.1,442.9 122.5,443.2 122.8,443.7 123.2,442.7 123.6,443.0 123.9,442.7 124.3,442.6 124.7,442.5 125.0,442.4 125.4,444.0 125.8,442.4 126.1,442.7 126.5,442.9 126.9,442.6 127.2,442.8 127.6,443.0 128.0,443.6 128.3,442.8 128.7,442.8 129.1,442.7 129.4,442.5 129.8,442.4 130.2,442.5 130.5,443.8 130.9,443.0 131.3,442.4 131.6,442.9 132.0,442.8 132.4,442.4 132.7,442.6 133.1,443.4 133.5,442.9 133.8,442.5 134.2,442.2 134.6,442.7 134.9,442.7 135.3,442.5 135.7,443.8 136.0,442.0 136.4,442.2 136.8,442.0 137.1,442.1 137.5,441.7 137.9,442.0 138.2,443.0 138.6,441.6 139.0,441.8 139.3,441.4 139.7,441.4 140.1,441.9 140.4,441.3 140.8,442.4 141.2,441.6 141.5,441.5 141.9,441.5 142.3,440.7 142.6,441.2 143.0,440.7 143.4,442.2 143.7,441.1 144.1,440.9 144.5,440.3 144.8,440.7 145.2,440.2 145.6,440.7 145.9,441.3 146.3,439.9 146.7,439.8 147.0,439.7 147.4,439.8 147.8,439.0 148.1,439.3 148.5,439.9 148.9,438.9 149.2,438.4 149.6,437.9 150.0,437.9 150.3,437.9 150.7,437.6 151.1,437.8 151.4,435.8 151.8,435.4 152.2,434.2 152.5,434.0 152.9,433.0 153.3,431.6 153.6,429.2 154.0,425.1 154.4,422.0 154.7,416.9 155.1,410.9 155.5,404.3 155.8,397.4 156.2,395.4 156.6,391.0 156.9,387.4 157.3,383.2 157.7,380.9 158.0,378.3 158.4,375.8 158.8,374.2 159.1,370.2 159.5,368.2 159.9,367.4 160.2,366.0 160.6,364.9 161.0,364.0 161.3,364.1 161.7,363.4 162.1,363.4 162.4,363.7 162.8,363.7 163.2,364.3 163.5,363.6 163.9,363.7 164.3,361.8 164.6,360.8 165.0,359.7 165.3,358.2 165.7,355.9 166.1,354.4 166.4,354.1 166.8,350.8 167.2,349.7 167.5,348.6 167.9,347.8 168.3,347.0 168.6,346.6 169.0,349.6 169.4,349.8 169.7,350.8 170.1,353.8 170.5,356.5 170.8,359.6 171.2,363.2 171.6,367.0 171.9,369.5 172.3,373.7 172.7,377.7 173.0,381.6 173.4,386.1 173.8,390.0 174.1,394.6 174.5,396.6 174.9,400.5 175.2,403.1 175.6,406.6 176.0,408.8 176.3,409.8 176.7,412.8 177.1,412.9 177.4,414.0 177.8,415.7 178.2,417.0 178.5,418.3 178.9,419.4 179.3,421.9 179.6,422.1 180.0,423.3 180.4,424.0 180.7,425.7 181.1,426.7 181.5,427.5 181.8,429.5 182.2,429.1 182.6,429.7 182.9,430.8 183.3,431.4 183.7,431.6 184.0,432.5 184.4,434.5 184.8,434.5 185.1,434.5 185.5,434.7 185.9,435.2 186.2,435.3 186.6,435.1 187.0,436.5 187.3,435.8 187.7,436.0 188.1,435.8 188.4,436.5 188.8,437.0 189.2,437.0 189.5,438.0 189.9,437.5 190.3,437.2 190.6,437.8 191.0,437.5 191.4,437.8 191.7,437.7 192.1,439.1 192.5,437.6 192.8,437.6 193.2,437.2 193.6,437.7 193.9,437.4 194.3,437.5 194.7,438.9 195.0,437.8 195.4,437.3 195.8,437.3 196.1,436.6 196.5,436.3 196.9,436.5 197.2,437.5 197.6,435.7 198.0,435.6 198.3,435.4 198.7,434.9 199.1,434.9 199.4,434.2 199.8,435.4 200.2,433.8 200.5,433.5 200.9,432.9 201.3,432.8 201.6,432.2 202.0,432.0 202.4,432.7 202.7,430.9 203.1,430.3 203.5,430.3 203.8,429.6 204.2,428.9 204.6,428.9 204.9,429.2 205.3,427.4 205.7,427.7 206.0,426.9 206.4,426.9 206.8,426.8 207.1,426.4 207.5,427.7 207.9,426.3 208.2,425.9 208.6,426.0 209.0,426.1 209.3,426.1 209.7,425.7 210.1,427.1 210.4,425.5 210.8,425.1 211.2,425.2 211.5,425.5 211.9,425.8 212.3,425.8 212.6,427.5 213.0,426.0 213.4,426.3 213.7,426.6 214.1,426.7 214.5,427.0 214.8,427.4 215.2,429.3 215.6,428.4 215.9,428.6 216.3,429.0 216.7,430.1 217.0,430.4 217.4,430.9 217.8,432.0 218.1,431.2 218.5,431.6 218.9,431.6 219.2,431.9 219.6,432.6 220.0,432.4 220.3,434.0 220.7,433.1 221.1,432.9 221.4,433.3 221.8,433.3 222.2,433.3 222.5,433.7 222.9,434.6 223.3,433.6 223.6,434.0 224.0,433.8 224.4,433.8 224.7,434.2 225.1,434.3 225.5,435.3 225.8,434.2 226.2,434.5 226.6,434.3 226.9,434.4 227.3,434.3 227.7,434.8 228.0,435.9 228.4,435.0 228.8,434.8 229.1,435.1 229.5,435.1 229.9,435.0 230.2,435.2 230.6,436.4 230.9,434.6 231.3,434.7 231.7,434.4 232.0,434.7 232.4,434.4 232.8,434.5 233.1,435.2 233.5,434.3 233.9,433.5 234.2,433.4 234.6,433.5 235.0,433.3 235.3,433.3 235.7,434.4 236.1,433.6 236.4,433.7 236.8,433.8 237.2,433.8 237.5,433.4 237.9,433.5 238.3,435.3 238.6,434.2 239.0,434.3 239.4,434.3 239.7,434.0 240.1,433.9 240.5,433.8 240.8,435.4 241.2,433.9 241.6,434.5 241.9,434.2 242.3,434.3 242.7,434.5 243.0,434.7 243.4,435.8 243.8,434.9 244.1,435.4 244.5,435.1 244.9,435.5 245.2,435.2 245.6,435.1 246.0,436.6 246.3,435.8 246.7,435.5 247.1,435.3 247.4,435.1 247.8,435.4 248.2,435.2 248.5,436.7 248.9,434.9 249.3,435.5 249.6,435.3 250.0,435.3 250.4,435.1 250.7,435.2 251.1,435.9 251.5,435.0 251.8,435.0 252.2,434.8 252.6,434.9 252.9,435.1 253.3,434.7 253.7,435.8 254.0,434.6 254.4,434.9 254.8,434.3 255.1,434.5 255.5,434.8 255.9,434.4 256.2,435.8 256.6,434.9 257.0,434.5 257.3,434.6 257.7,434.2 258.1,434.7 258.4,434.3 258.8,435.5 259.2,434.7 259.5,434.6 259.9,434.8 260.3,434.4 260.6,434.2 261.0,434.9 261.4,436.1 261.7,434.5 262.1,434.3 262.5,434.7 262.8,434.6 263.2,434.6 263.6,434.3 263.9,435.5 264.3,434.4 264.7,434.4 265.0,434.8 265.4,434.2 265.8,434.6 266.1,434.1 266.5,435.6 266.9,434.7 267.2,434.0 267.6,434.6 268.0,434.4 268.3,434.4 268.7,434.2 269.1,435.0 269.4,434.4 269.8,434.4 270.2,433.8 270.5,434.1 270.9,433.8 271.3,434.2 271.6,435.0 272.0,433.9 272.4,434.1 272.7,433.7 273.1,433.4 273.5,433.5 273.8,433.5 274.2,434.4 274.6,433.7 274.9,433.3 275.3,433.2 275.7,433.4 276.0,433.0 276.4,433.2 276.8,434.4 277.1,433.0 277.5,432.5 277.9,433.2 278.2,433.1 278.6,432.6 279.0,432.5 279.3,433.8 279.7,432.2 280.1,431.8 280.4,431.5 280.8,431.1 281.2,431.4 281.5,430.5 281.9,431.6 282.3,430.5 282.6,430.1 283.0,429.9 283.4,429.0 283.7,428.9 284.1,428.4 284.5,429.1 284.8,426.9 285.2,426.3 285.6,426.0 285.9,424.8 286.3,424.5 286.7,423.6 287.0,424.4 287.4,422.3 287.8,421.0 288.1,420.8 288.5,420.1 288.9,419.5 289.2,418.5 289.6,418.8 290.0,417.4 290.3,415.9 290.7,415.1 291.1,414.1 291.4,413.3 291.8,412.4 292.2,412.7 292.5,410.6 292.9,409.9 293.3,409.1 293.6,407.8 294.0,406.8 294.4,405.8 294.7,406.4 295.1,404.4 295.4,403.3 295.8,402.6 296.2,401.3 296.5,400.6 296.9,399.3 297.3,400.3 297.6,399.9 298.0,401.0 298.4,401.7 298.7,402.8 299.1,403.6 299.5,404.4 299.8,406.8 300.2,406.9 300.6,408.5 300.9,409.4 301.3,410.5 301.7,412.1 302.0,413.2 302.4,415.6 302.8,415.4 303.1,415.9 303.5,416.7 303.9,417.3 304.2,417.7 304.6,418.6 305.0,420.9 305.3,420.5 305.7,420.2 306.1,420.3 306.4,420.8 306.8,421.1 307.2,421.5 307.5,422.4 307.9,422.0 308.3,422.3 308.6,422.5 309.0,422.1 309.4,422.6 309.7,422.6 310.1,424.4 310.5,422.9 310.8,423.7 311.2,423.4 311.6,423.5 311.9,423.8 312.3,424.0 312.7,425.6 313.0,424.6 313.4,425.2 313.8,425.1 314.1,425.6 314.5,425.4 314.9,425.7 315.2,427.3 315.6,425.9 316.0,426.6 316.3,426.2 316.7,426.7 317.1,427.0 317.4,426.6 317.8,427.9 318.2,426.5 318.5,426.2 318.9,425.8 319.3,424.7 319.6,424.7 320.0,424.3 320.4,424.3 320.7,422.7 321.1,421.9 321.5,421.6 321.8,420.0 322.2,419.4 322.6,418.8 322.9,419.2 323.3,417.0 323.7,416.4 324.0,414.5 324.4,413.1 324.8,411.8 325.1,410.3 325.5,410.2 325.9,407.8 326.2,406.7 326.6,405.3 327.0,405.7 327.3,405.6 327.7,405.5 328.1,407.1 328.4,405.7 328.8,405.2 329.2,405.9 329.5,406.0 329.9,405.8 330.3,406.4 330.6,407.9 331.0,407.3 331.4,408.0 331.7,408.0 332.1,407.9 332.5,408.4 332.8,409.4 333.2,410.9 333.6,409.7 333.9,410.5 334.3,410.1 334.7,411.3 335.0,411.8 335.4,412.2 335.8,413.6 336.1,413.1 336.5,413.5 336.9,413.9 337.2,414.3 337.6,415.2 338.0,415.4 338.3,416.7 338.7,416.5" fill="none" stroke="#05A54C" stroke-width="1.3" stroke-linejoin="round"/>
<line x1="79.1" y1="515.8" x2="106.7" y2="515.8" stroke="#0B5FAB" stroke-width="2"/>
<text x="111.3" y="519.1" font-size="11" textLength="27.8" lengthAdjust="spacingAndGlyphs">Potato</text>
<line x1="156.7" y1="515.8" x2="184.1" y2="515.8" stroke="#E3101E" stroke-width="2"/>
<text x="187.8" y="519.1" font-size="11" textLength="28.1" lengthAdjust="spacingAndGlyphs">Onion</text>
<line x1="231.1" y1="515.8" x2="258.6" y2="515.8" stroke="#05A54C" stroke-width="2"/>
<text x="263.2" y="519.1" font-size="11" textLength="61.1" lengthAdjust="spacingAndGlyphs">Tomato (RHS)</text>
<line x1="452.5" y1="322.0" x2="452.5" y2="459.0" stroke="#000" stroke-width="1.1"/>
<line x1="448.5" y1="458.5" x2="452.5" y2="458.5" stroke="#000" stroke-width="1.1"/>
<text x="443.5" y="462.35" font-size="11" text-anchor="end">120</text>
<line x1="448.5" y1="441.5" x2="452.5" y2="441.5" stroke="#000" stroke-width="1.1"/>
<text x="443.5" y="445.37" font-size="11" text-anchor="end">130</text>
<line x1="448.5" y1="424.5" x2="452.5" y2="424.5" stroke="#000" stroke-width="1.1"/>
<text x="443.5" y="428.4" font-size="11" text-anchor="end">140</text>
<line x1="448.5" y1="407.5" x2="452.5" y2="407.5" stroke="#000" stroke-width="1.1"/>
<text x="443.5" y="411.42" font-size="11" text-anchor="end">150</text>
<line x1="448.5" y1="390.5" x2="452.5" y2="390.5" stroke="#000" stroke-width="1.1"/>
<text x="443.5" y="394.45" font-size="11" text-anchor="end">160</text>
<line x1="448.5" y1="373.5" x2="452.5" y2="373.5" stroke="#000" stroke-width="1.1"/>
<text x="443.5" y="377.47" font-size="11" text-anchor="end">170</text>
<line x1="448.5" y1="356.5" x2="452.5" y2="356.5" stroke="#000" stroke-width="1.1"/>
<text x="443.5" y="360.5" font-size="11" text-anchor="end">180</text>
<line x1="448.5" y1="339.5" x2="452.5" y2="339.5" stroke="#000" stroke-width="1.1"/>
<text x="443.5" y="343.52" font-size="11" text-anchor="end">190</text>
<line x1="448.5" y1="322.5" x2="452.5" y2="322.5" stroke="#000" stroke-width="1.1"/>
<text x="443.5" y="326.55" font-size="11" text-anchor="end">200</text>
<line x1="452.5" y1="458.5" x2="755.8" y2="458.5" stroke="#000" stroke-width="1.1"/>
<line x1="452.5" y1="458.5" x2="452.5" y2="463.0" stroke="#000" stroke-width="1.1"/>
<line x1="477.5" y1="458.5" x2="477.5" y2="463.0" stroke="#000" stroke-width="1.1"/>
<line x1="501.5" y1="458.5" x2="501.5" y2="463.0" stroke="#000" stroke-width="1.1"/>
<line x1="526.5" y1="458.5" x2="526.5" y2="463.0" stroke="#000" stroke-width="1.1"/>
<line x1="551.5" y1="458.5" x2="551.5" y2="463.0" stroke="#000" stroke-width="1.1"/>
<line x1="576.5" y1="458.5" x2="576.5" y2="463.0" stroke="#000" stroke-width="1.1"/>
<line x1="601.5" y1="458.5" x2="601.5" y2="463.0" stroke="#000" stroke-width="1.1"/>
<line x1="626.5" y1="458.5" x2="626.5" y2="463.0" stroke="#000" stroke-width="1.1"/>
<line x1="651.5" y1="458.5" x2="651.5" y2="463.0" stroke="#000" stroke-width="1.1"/>
<line x1="676.5" y1="458.5" x2="676.5" y2="463.0" stroke="#000" stroke-width="1.1"/>
<line x1="701.5" y1="458.5" x2="701.5" y2="463.0" stroke="#000" stroke-width="1.1"/>
<line x1="726.5" y1="458.5" x2="726.5" y2="463.0" stroke="#000" stroke-width="1.1"/>
<line x1="751.5" y1="458.5" x2="751.5" y2="463.0" stroke="#000" stroke-width="1.1"/>
<text x="523.6" y="312.5" font-size="11.5" font-weight="bold" textLength="118.2" lengthAdjust="spacingAndGlyphs">d. Edible Oils (packed)</text>
<polyline points="452.4,339.0 452.8,337.3 453.2,338.4 453.6,338.0 454.0,338.3 454.4,337.0 454.9,337.0 455.3,337.2 455.7,338.7 456.1,337.3 456.5,337.8 456.9,338.6 457.3,338.0 457.7,337.1 458.1,337.6 458.5,337.0 459.0,337.4 459.4,337.5 459.8,337.0 460.2,338.6 460.6,338.8 461.0,338.1 461.4,338.4 461.8,338.3 462.2,338.5 462.6,339.3 463.0,338.5 463.5,337.8 463.9,339.0 464.3,339.1 464.7,339.5 465.1,339.2 465.5,338.6 465.9,338.2 466.3,339.1 466.7,339.5 467.1,339.8 467.5,339.8 468.0,339.8 468.4,339.9 468.8,339.2 469.2,339.7 469.6,339.8 470.0,339.1 470.4,341.0 470.8,339.4 471.2,341.2 471.6,341.0 472.1,339.9 472.5,340.3 472.9,340.1 473.3,341.0 473.7,339.9 474.1,340.7 474.5,341.5 474.9,341.0 475.3,341.4 475.7,341.1 476.1,341.6 476.6,342.1 477.0,341.8 477.4,342.3 477.8,342.3 478.2,341.7 478.6,341.6 479.0,342.2 479.4,342.2 479.8,341.5 480.2,342.1 480.7,341.7 481.1,342.9 481.5,341.4 481.9,341.8 482.3,342.7 482.7,342.0 483.1,341.6 483.5,341.5 483.9,342.6 484.3,342.5 484.7,341.8 485.2,341.8 485.6,342.3 486.0,343.1 486.4,342.7 486.8,341.5 487.2,342.7 487.6,343.4 488.0,342.4 488.4,343.4 488.8,343.5 489.2,342.2 489.7,342.5 490.1,342.3 490.5,342.9 490.9,343.4 491.3,343.6 491.7,342.2 492.1,344.0 492.5,342.4 492.9,344.1 493.3,343.3 493.8,342.5 494.2,342.4 494.6,342.7 495.0,342.4 495.4,344.3 495.8,343.6 496.2,342.9 496.6,342.6 497.0,343.5 497.4,343.2 497.8,342.7 498.3,343.0 498.7,343.9 499.1,342.5 499.5,344.0 499.9,344.2 500.3,344.1 500.7,342.6 501.1,344.0 501.5,343.8 501.9,342.5 502.4,342.7 502.8,343.1 503.2,343.2 503.6,343.5 504.0,343.4 504.4,343.3 504.8,342.5 505.2,343.9 505.6,343.6 506.0,342.3 506.4,343.5 506.9,343.2 507.3,342.1 507.7,343.1 508.1,342.6 508.5,342.4 508.9,341.9 509.3,341.2 509.7,342.8 510.1,342.8 510.5,342.0 510.9,342.1 511.4,342.3 511.8,340.7 512.2,341.1 512.6,340.7 513.0,342.5 513.4,341.4 513.8,341.2 514.2,342.0 514.6,341.3 515.0,341.4 515.5,342.2 515.9,341.5 516.3,341.0 516.7,341.0 517.1,341.4 517.5,340.9 517.9,341.1 518.3,341.3 518.7,340.8 519.1,341.4 519.5,341.8 520.0,341.7 520.4,340.0 520.8,341.3 521.2,340.6 521.6,340.8 522.0,339.8 522.4,341.6 522.8,341.4 523.2,341.5 523.6,339.9 524.1,340.4 524.5,340.6 524.9,340.5 525.3,341.3 525.7,340.8 526.1,341.3 526.5,339.6 526.9,340.0 527.3,339.8 527.7,341.3 528.1,341.2 528.6,340.8 529.0,339.8 529.4,340.9 529.8,340.6 530.2,340.9 530.6,340.3 531.0,340.8 531.4,341.4 531.8,341.4 532.2,341.3 532.7,339.6 533.1,341.0 533.5,339.9 533.9,340.1 534.3,340.7 534.7,341.3 535.1,341.4 535.5,340.4 535.9,341.5 536.3,340.7 536.7,339.7 537.2,341.4 537.6,340.7 538.0,340.3 538.4,340.1 538.8,340.9 539.2,341.1 539.6,341.7 540.0,341.5 540.4,341.1 540.8,340.9 541.2,340.0 541.7,341.1 542.1,340.1 542.5,340.6 542.9,341.4 543.3,340.9 543.7,340.1 544.1,341.0 544.5,340.2 544.9,341.1 545.3,340.2 545.8,340.8 546.2,340.2 546.6,339.6 547.0,339.4 547.4,339.9 547.8,341.2 548.2,340.3 548.6,340.9 549.0,340.3 549.4,340.8 549.8,341.0 550.3,341.2 550.7,340.6 551.1,340.0 551.5,340.0 551.9,339.7 552.3,341.0 552.7,340.8 553.1,340.6 553.5,339.6 553.9,339.1 554.4,340.1 554.8,339.4 555.2,340.3 555.6,339.0 556.0,339.6 556.4,340.2 556.8,339.7 557.2,340.0 557.6,339.4 558.0,339.6 558.4,340.5 558.9,340.4 559.3,340.2 559.7,339.3 560.1,340.0 560.5,339.7 560.9,338.9 561.3,340.4 561.7,339.0 562.1,339.5 562.5,340.3 562.9,339.7 563.4,340.2 563.8,340.2 564.2,339.2 564.6,339.1 565.0,339.4 565.4,339.8 565.8,338.6 566.2,339.2 566.6,338.1 567.0,338.4 567.5,338.1 567.9,338.4 568.3,338.3 568.7,339.5 569.1,338.5 569.5,338.0 569.9,338.0 570.3,339.5 570.7,338.4 571.1,339.2 571.5,338.2 572.0,338.1 572.4,339.1 572.8,337.9 573.2,339.3 573.6,338.6 574.0,337.5 574.4,338.6 574.8,338.4 575.2,338.0 575.6,338.5 576.1,337.3 576.5,338.3 576.9,339.1 577.3,337.1 577.7,338.5 578.1,338.1 578.5,338.9 578.9,337.6 579.3,337.2 579.7,337.1 580.1,338.0 580.6,337.4 581.0,338.2 581.4,337.9 581.8,337.7 582.2,338.7 582.6,337.3 583.0,337.1 583.4,337.6 583.8,337.5 584.2,337.8 584.6,337.7 585.1,337.2 585.5,337.7 585.9,338.5 586.3,337.1 586.7,337.6 587.1,337.7 587.5,338.6 587.9,337.7 588.3,338.0 588.7,337.6 589.2,337.8 589.6,338.9 590.0,339.0 590.4,338.5 590.8,337.8 591.2,337.5 591.6,337.7 592.0,337.5 592.4,337.7 592.8,337.0 593.2,338.3 593.7,338.0 594.1,338.5 594.5,337.1 594.9,337.6 595.3,337.9 595.7,337.3 596.1,338.3 596.5,338.9 596.9,337.5 597.3,337.5 597.8,336.9 598.2,337.1 598.6,338.4 599.0,338.3 599.4,338.4 599.8,337.8 600.2,338.7 600.6,338.6 601.0,337.2 601.4,337.5 601.8,337.6 602.3,337.6 602.7,337.8 603.1,337.8 603.5,336.6 603.9,337.9 604.3,337.1 604.7,337.5 605.1,336.7 605.5,338.2 605.9,336.5 606.3,336.9 606.8,336.4 607.2,337.1 607.6,337.9 608.0,336.2 608.4,337.5 608.8,336.2 609.2,336.8 609.6,336.1 610.0,336.9 610.4,337.2 610.9,337.4 611.3,336.0 611.7,336.5 612.1,333.2 612.5,336.4 612.9,336.5 613.3,336.1 613.7,337.3 614.1,337.9 614.5,336.6 614.9,336.9 615.4,337.9 615.8,337.7 616.2,337.7 616.6,337.9 617.0,336.8 617.4,337.9 617.8,337.1 618.2,338.1 618.6,337.7 619.0,338.8 619.5,338.5 619.9,337.2 620.3,337.3 620.7,339.1 621.1,337.6 621.5,338.5 621.9,337.7 622.3,338.1 622.7,338.9 623.1,337.8 623.5,338.5 624.0,338.3 624.4,338.9 624.8,339.2 625.2,338.5 625.6,338.5 626.0,338.5 626.4,338.6 626.8,339.9 627.2,339.5 627.6,339.6 628.0,338.9 628.5,338.8 628.9,340.4 629.3,340.7 629.7,340.2 630.1,339.7 630.5,339.9 630.9,339.4 631.3,339.7 631.7,341.4 632.1,341.3 632.6,340.5 633.0,340.9 633.4,341.7 633.8,341.6 634.2,341.1 634.6,341.1 635.0,341.5 635.4,340.7 635.8,341.0 636.2,342.0 636.6,341.4 637.1,342.0 637.5,340.8 637.9,342.1 638.3,341.1 638.7,340.8 639.1,342.3 639.5,342.0 639.9,340.9 640.3,341.4 640.7,342.4 641.2,341.6 641.6,342.2 642.0,342.0 642.4,342.2 642.8,341.7 643.2,342.0 643.6,341.8 644.0,343.0 644.4,341.7 644.8,343.3 645.2,342.1 645.7,342.1 646.1,343.0 646.5,342.9 646.9,342.2 647.3,343.8 647.7,343.5 648.1,343.7 648.5,343.7 648.9,343.4 649.3,344.0 649.8,344.1 650.2,344.1 650.6,344.1 651.0,343.7 651.4,343.4 651.8,344.1 652.2,343.6 652.6,344.0 653.0,342.9 653.4,343.5 653.8,343.1 654.3,344.2 654.7,344.6 655.1,343.2 655.5,344.6 655.9,344.4 656.3,344.1 656.7,344.6 657.1,343.1 657.5,344.7 657.9,343.3 658.3,344.2 658.8,343.9 659.2,343.1 659.6,344.8 660.0,343.4 660.4,343.4 660.8,343.8 661.2,342.9 661.6,343.7 662.0,344.6 662.4,343.1 662.9,343.6 663.3,343.3 663.7,343.9 664.1,343.8 664.5,344.8 664.9,343.6 665.3,344.1 665.7,344.7 666.1,344.2 666.5,343.8 666.9,344.6 667.4,344.2 667.8,344.2 668.2,344.6 668.6,345.0 669.0,343.7 669.4,344.0 669.8,345.1 670.2,344.7 670.6,344.5 671.0,344.8 671.5,343.8 671.9,344.9 672.3,345.1 672.7,344.5 673.1,344.3 673.5,345.6 673.9,345.0 674.3,345.0 674.7,344.4 675.1,345.5 675.5,345.6 676.0,344.0 676.4,344.1 676.8,345.3 677.2,344.7 677.6,344.0 678.0,344.7 678.4,343.8 678.8,345.4 679.2,345.0 679.6,345.6 680.0,345.3 680.5,345.1 680.9,344.7 681.3,343.9 681.7,345.4 682.1,344.0 682.5,345.2 682.9,344.9 683.3,344.6 683.7,344.4 684.1,345.4 684.6,344.1 685.0,344.0 685.4,344.1 685.8,345.3 686.2,344.8 686.6,344.6 687.0,344.6 687.4,345.7 687.8,344.1 688.2,345.6 688.6,345.0 689.1,345.2 689.5,343.8 689.9,345.1 690.3,344.8 690.7,344.6 691.1,344.0 691.5,344.9 691.9,344.7 692.3,344.2 692.7,344.7 693.2,343.9 693.6,345.2 694.0,344.8 694.4,344.5 694.8,343.6 695.2,343.8 695.6,344.7 696.0,344.7 696.4,343.5 696.8,343.7 697.2,344.1 697.7,343.3 698.1,344.5 698.5,343.8 698.9,344.7 699.3,344.6 699.7,343.8 700.1,343.9 700.5,343.5 700.9,344.2 701.3,343.3 701.7,342.9 702.2,344.4 702.6,343.3 703.0,343.6 703.4,342.6 703.8,344.3 704.2,343.0 704.6,343.5 705.0,343.8 705.4,344.3 705.8,342.8 706.3,342.8 706.7,343.7 707.1,342.9 707.5,342.5 707.9,343.5 708.3,343.9 708.7,343.9 709.1,343.0 709.5,344.5 709.9,343.8 710.3,343.5 710.8,344.5 711.2,343.9 711.6,344.1 712.0,344.4 712.4,345.3 712.8,344.5 713.2,346.2 713.6,345.8 714.0,345.6 714.4,344.7 714.9,344.8 715.3,345.9 715.7,346.6 716.1,345.4 716.5,346.6 716.9,345.7 717.3,346.7 717.7,347.0 718.1,347.1 718.5,346.4 718.9,347.6 719.4,347.5 719.8,348.6 720.2,347.5 720.6,348.8 721.0,347.7 721.4,347.7 721.8,348.8 722.2,348.7 722.6,349.7 723.0,348.4 723.4,348.7 723.9,350.5 724.3,348.8 724.7,349.7 725.1,350.0 725.5,350.9 725.9,351.1 726.3,349.3 726.7,350.7 727.1,351.4 727.5,351.4 728.0,349.5 728.4,349.5 728.8,349.2 729.2,350.1 729.6,350.7 730.0,349.7 730.4,350.4 730.8,350.0 731.2,348.8 731.6,348.2 732.0,348.0 732.5,347.7 732.9,347.2 733.3,346.4 733.7,345.4 734.1,345.4 734.5,344.8 734.9,344.9 735.3,344.4 735.7,343.4 736.1,342.1 736.6,341.9 737.0,343.0 737.4,342.0 737.8,342.0 738.2,341.1 738.6,340.6 739.0,340.8 739.4,340.4 739.8,339.3 740.2,340.1 740.6,339.4 741.1,338.8 741.5,337.6 741.9,335.4 742.3,334.8 742.7,333.6 743.1,332.3 743.5,332.9 743.9,331.1 744.3,331.6 744.7,331.5 745.1,330.2 745.6,330.6 746.0,331.1 746.4,331.1 746.8,329.5 747.2,329.2 747.6,329.0 748.0,329.0 748.4,329.9 748.8,329.6 749.2,329.0 749.7,329.9 750.1,328.0 750.5,328.8 750.9,327.9 751.3,327.9 751.7,328.9 752.1,329.0 752.5,328.1 752.9,328.8 753.3,327.3 753.7,327.8 754.2,327.4 754.6,328.3 755.0,328.5 755.4,327.4 755.8,327.7" fill="none" stroke="#05A54C" stroke-width="1.3" stroke-linejoin="round"/>
<polyline points="452.4,366.2 452.8,366.4 453.2,365.4 453.6,365.0 454.0,366.4 454.4,367.5 454.9,367.3 455.3,367.4 455.7,366.4 456.1,364.7 456.5,363.9 456.9,364.7 457.3,364.9 457.7,366.1 458.1,365.3 458.5,364.3 459.0,363.6 459.4,362.4 459.8,361.8 460.2,362.5 460.6,364.1 461.0,366.8 461.4,361.3 461.8,363.1 462.2,364.6 462.6,365.3 463.0,361.8 463.5,361.4 463.9,363.3 464.3,362.7 464.7,362.9 465.1,363.9 465.5,361.6 465.9,365.5 466.3,364.4 466.7,365.4 467.1,365.9 467.5,363.5 468.0,363.0 468.4,365.0 468.8,365.3 469.2,364.9 469.6,367.2 470.0,362.5 470.4,366.2 470.8,363.5 471.2,365.1 471.6,363.7 472.1,364.9 472.5,368.4 472.9,364.4 473.3,367.4 473.7,365.4 474.1,367.4 474.5,365.6 474.9,365.3 475.3,368.8 475.7,365.1 476.1,367.5 476.6,365.3 477.0,365.8 477.4,367.6 477.8,366.1 478.2,369.3 478.6,365.3 479.0,365.5 479.4,365.3 479.8,368.7 480.2,368.6 480.7,368.6 481.1,370.7 481.5,365.3 481.9,368.9 482.3,365.6 482.7,366.4 483.1,365.9 483.5,366.5 483.9,367.7 484.3,370.2 484.7,367.5 485.2,369.1 485.6,369.8 486.0,368.7 486.4,369.5 486.8,371.9 487.2,371.8 487.6,370.0 488.0,369.5 488.4,372.1 488.8,371.0 489.2,371.2 489.7,374.2 490.1,373.0 490.5,371.8 490.9,371.9 491.3,373.9 491.7,373.6 492.1,370.9 492.5,375.4 492.9,372.0 493.3,372.2 493.8,374.4 494.2,374.6 494.6,375.7 495.0,374.6 495.4,374.2 495.8,372.3 496.2,372.9 496.6,372.8 497.0,373.9 497.4,375.4 497.8,376.0 498.3,375.6 498.7,375.1 499.1,376.3 499.5,374.7 499.9,374.1 500.3,374.0 500.7,373.8 501.1,376.2 501.5,377.5 501.9,376.5 502.4,374.4 502.8,375.7 503.2,376.4 503.6,376.2 504.0,376.1 504.4,375.5 504.8,372.1 505.2,376.8 505.6,377.8 506.0,376.7 506.4,378.2 506.9,380.1 507.3,381.4 507.7,378.1 508.1,381.1 508.5,380.8 508.9,382.9 509.3,382.9 509.7,381.0 510.1,379.9 510.5,382.7 510.9,381.4 511.4,382.1 511.8,382.7 512.2,383.8 512.6,384.6 513.0,381.9 513.4,384.8 513.8,384.8 514.2,383.2 514.6,382.5 515.0,383.4 515.5,384.0 515.9,384.0 516.3,387.0 516.7,385.3 517.1,383.8 517.5,387.4 517.9,383.6 518.3,385.1 518.7,385.9 519.1,384.8 519.5,386.2 520.0,384.5 520.4,387.9 520.8,388.0 521.2,388.4 521.6,387.2 522.0,387.5 522.4,389.6 522.8,386.2 523.2,388.4 523.6,388.9 524.1,391.1 524.5,389.8 524.9,390.7 525.3,388.1 525.7,388.0 526.1,389.6 526.5,388.8 526.9,392.2 527.3,393.0 527.7,390.3 528.1,389.7 528.6,393.6 529.0,390.6 529.4,390.7 529.8,391.7 530.2,390.7 530.6,394.3 531.0,393.2 531.4,392.9 531.8,391.8 532.2,392.9 532.7,393.1 533.1,393.4 533.5,392.8 533.9,395.2 534.3,394.4 534.7,396.5 535.1,393.1 535.5,397.9 535.9,396.7 536.3,395.3 536.7,395.7 537.2,397.6 537.6,396.1 538.0,398.0 538.4,399.1 538.8,399.5 539.2,397.3 539.6,398.2 540.0,399.9 540.4,399.2 540.8,401.7 541.2,401.7 541.7,403.1 542.1,401.1 542.5,403.5 542.9,401.3 543.3,403.8 543.7,401.2 544.1,406.7 544.5,404.5 544.9,405.3 545.3,401.7 545.8,402.6 546.2,403.2 546.6,402.7 547.0,405.6 547.4,404.2 547.8,403.9 548.2,403.7 548.6,404.1 549.0,403.9 549.4,407.3 549.8,407.3 550.3,406.2 550.7,403.7 551.1,405.2 551.5,406.8 551.9,404.3 552.3,404.3 552.7,406.8 553.1,407.8 553.5,407.8 553.9,405.9 554.4,408.0 554.8,408.4 555.2,408.9 555.6,410.4 556.0,407.9 556.4,409.4 556.8,406.1 557.2,406.4 557.6,407.1 558.0,407.7 558.4,409.0 558.9,406.4 559.3,407.7 559.7,407.0 560.1,407.4 560.5,406.8 560.9,408.0 561.3,412.2 561.7,406.7 562.1,408.6 562.5,410.4 562.9,409.8 563.4,410.6 563.8,408.3 564.2,408.2 564.6,406.9 565.0,410.7 565.4,409.2 565.8,408.6 566.2,407.3 566.6,407.2 567.0,412.0 567.5,409.5 567.9,408.2 568.3,407.5 568.7,409.8 569.1,410.0 569.5,407.1 569.9,409.4 570.3,407.5 570.7,408.4 571.1,407.8 571.5,408.7 572.0,407.7 572.4,410.6 572.8,409.3 573.2,410.8 573.6,410.1 574.0,410.2 574.4,410.4 574.8,410.1 575.2,407.8 575.6,410.2 576.1,408.2 576.5,409.8 576.9,408.4 577.3,409.3 577.7,408.3 578.1,407.6 578.5,411.6 578.9,409.7 579.3,410.6 579.7,410.2 580.1,410.0 580.6,410.3 581.0,409.1 581.4,411.8 581.8,410.4 582.2,409.4 582.6,409.2 583.0,410.0 583.4,410.1 583.8,410.2 584.2,412.2 584.6,411.4 585.1,410.6 585.5,411.4 585.9,409.3 586.3,410.9 586.7,410.5 587.1,410.8 587.5,409.1 587.9,408.9 588.3,411.7 588.7,410.5 589.2,410.7 589.6,409.3 590.0,412.0 590.4,411.3 590.8,410.0 591.2,410.7 591.6,411.1 592.0,411.2 592.4,411.5 592.8,413.0 593.2,411.9 593.7,411.4 594.1,410.9 594.5,410.6 594.9,412.0 595.3,411.9 595.7,411.3 596.1,411.3 596.5,410.4 596.9,411.2 597.3,409.5 597.8,410.9 598.2,410.7 598.6,412.5 599.0,409.9 599.4,410.8 599.8,410.1 600.2,411.6 600.6,410.8 601.0,411.4 601.4,412.1 601.8,412.1 602.3,410.2 602.7,409.9 603.1,410.3 603.5,411.7 603.9,410.6 604.3,412.2 604.7,411.4 605.1,411.3 605.5,411.6 605.9,411.8 606.3,410.0 606.8,411.1 607.2,413.6 607.6,410.4 608.0,412.1 608.4,411.5 608.8,410.4 609.2,410.9 609.6,411.9 610.0,413.8 610.4,410.6 610.9,410.7 611.3,410.5 611.7,411.4 612.1,410.8 612.5,411.1 612.9,413.0 613.3,412.4 613.7,412.4 614.1,410.9 614.5,410.9 614.9,411.7 615.4,412.4 615.8,412.6 616.2,411.9 616.6,413.0 617.0,413.2 617.4,413.4 617.8,412.3 618.2,412.8 618.6,414.1 619.0,412.3 619.5,413.4 619.9,412.6 620.3,413.4 620.7,412.3 621.1,411.9 621.5,415.2 621.9,413.3 622.3,413.1 622.7,412.3 623.1,414.5 623.5,412.6 624.0,412.9 624.4,414.4 624.8,413.9 625.2,413.2 625.6,414.6 626.0,413.0 626.4,413.6 626.8,414.7 627.2,415.7 627.6,414.5 628.0,415.2 628.5,414.6 628.9,415.3 629.3,414.4 629.7,415.9 630.1,417.0 630.5,414.3 630.9,415.6 631.3,416.0 631.7,415.0 632.1,414.7 632.6,414.9 633.0,417.0 633.4,415.4 633.8,414.9 634.2,416.5 634.6,414.5 635.0,415.0 635.4,414.7 635.8,416.9 636.2,414.6 636.6,416.9 637.1,416.7 637.5,416.3 637.9,416.4 638.3,416.1 638.7,416.8 639.1,415.7 639.5,416.2 639.9,416.8 640.3,417.1 640.7,416.6 641.2,416.6 641.6,417.3 642.0,417.2 642.4,416.8 642.8,416.0 643.2,415.4 643.6,417.5 644.0,415.6 644.4,417.9 644.8,416.6 645.2,416.5 645.7,415.9 646.1,416.4 646.5,417.7 646.9,416.2 647.3,419.2 647.7,416.7 648.1,416.8 648.5,417.6 648.9,416.0 649.3,416.1 649.8,416.5 650.2,418.2 650.6,417.2 651.0,416.0 651.4,416.3 651.8,416.4 652.2,416.9 652.6,415.8 653.0,418.1 653.4,416.7 653.8,416.6 654.3,417.2 654.7,417.0 655.1,417.4 655.5,416.9 655.9,418.0 656.3,417.1 656.7,416.9 657.1,416.2 657.5,417.4 657.9,417.3 658.3,417.4 658.8,418.6 659.2,417.1 659.6,416.8 660.0,415.5 660.4,417.3 660.8,415.7 661.2,416.2 661.6,417.5 662.0,416.7 662.4,417.2 662.9,416.7 663.3,417.0 663.7,416.7 664.1,415.6 664.5,417.4 664.9,417.2 665.3,416.7 665.7,416.2 666.1,416.6 666.5,416.9 666.9,417.0 667.4,419.2 667.8,416.7 668.2,417.6 668.6,417.7 669.0,417.3 669.4,417.7 669.8,417.8 670.2,418.8 670.6,417.9 671.0,417.0 671.5,417.8 671.9,417.0 672.3,416.3 672.7,416.8 673.1,419.0 673.5,416.8 673.9,416.4 674.3,417.9 674.7,416.6 675.1,417.8 675.5,417.8 676.0,419.6 676.4,416.6 676.8,417.7 677.2,416.2 677.6,416.7 678.0,416.0 678.4,417.9 678.8,419.1 679.2,416.9 679.6,417.7 680.0,416.4 680.5,417.9 680.9,417.5 681.3,417.5 681.7,418.4 682.1,416.2 682.5,417.4 682.9,417.1 683.3,415.4 683.7,417.4 684.1,416.1 684.6,418.4 685.0,416.6 685.4,416.1 685.8,416.4 686.2,416.5 686.6,415.3 687.0,416.9 687.4,416.9 687.8,415.5 688.2,415.7 688.6,416.9 689.1,415.8 689.5,416.6 689.9,415.2 690.3,416.9 690.7,416.1 691.1,416.6 691.5,415.2 691.9,415.0 692.3,415.2 692.7,414.4 693.2,417.6 693.6,414.6 694.0,414.7 694.4,414.5 694.8,414.4 695.2,413.9 695.6,414.4 696.0,416.6 696.4,414.7 696.8,413.7 697.2,414.2 697.7,414.3 698.1,414.9 698.5,415.2 698.9,415.0 699.3,413.5 699.7,413.3 700.1,413.9 700.5,413.3 700.9,413.6 701.3,412.9 701.7,415.0 702.2,413.3 702.6,414.7 703.0,413.3 703.4,414.2 703.8,413.5 704.2,413.9 704.6,414.6 705.0,413.8 705.4,413.9 705.8,413.3 706.3,413.2 706.7,412.7 707.1,414.2 707.5,414.5 707.9,414.1 708.3,414.4 708.7,412.4 709.1,414.1 709.5,412.9 709.9,413.3 710.3,415.6 710.8,413.2 711.2,414.0 711.6,413.5 712.0,413.3 712.4,414.0 712.8,413.9 713.2,416.1 713.6,413.8 714.0,413.9 714.4,414.4 714.9,413.5 715.3,415.0 715.7,414.2 716.1,415.7 716.5,414.3 716.9,413.8 717.3,415.2 717.7,415.7 718.1,415.5 718.5,415.2 718.9,416.4 719.4,415.3 719.8,415.3 720.2,416.6 720.6,416.6 721.0,415.4 721.4,415.4 721.8,417.4 722.2,415.6 722.6,415.1 723.0,415.9 723.4,416.1 723.9,416.5 724.3,415.4 724.7,417.3 725.1,415.6 725.5,415.7 725.9,416.6 726.3,416.7 726.7,415.8 727.1,417.2 727.5,418.4 728.0,415.5 728.4,417.1 728.8,416.3 729.2,415.1 729.6,417.0 730.0,415.3 730.4,417.8 730.8,415.9 731.2,414.5 731.6,413.2 732.0,411.8 732.5,411.4 732.9,408.9 733.3,409.3 733.7,406.7 734.1,406.4 734.5,404.9 734.9,403.2 735.3,403.2 735.7,400.8 736.1,402.7 736.6,399.2 737.0,397.4 737.4,397.9 737.8,397.4 738.2,395.4 738.6,394.6 739.0,395.6 739.4,392.8 739.8,393.0 740.2,392.1 740.6,390.0 741.1,389.1 741.5,389.0 741.9,388.8 742.3,386.2 742.7,386.6 743.1,384.6 743.5,384.1 743.9,384.6 744.3,384.3 744.7,385.6 745.1,382.9 745.6,382.6 746.0,381.7 746.4,381.9 746.8,380.7 747.2,379.8 747.6,382.9 748.0,380.3 748.4,380.3 748.8,380.2 749.2,378.7 749.7,379.4 750.1,380.0 750.5,379.3 750.9,379.4 751.3,377.7 751.7,377.9 752.1,377.1 752.5,378.4 752.9,378.1 753.3,378.2 753.7,377.5 754.2,377.3 754.6,376.9 755.0,377.4 755.4,377.3 755.8,376.6" fill="none" stroke="#E3101E" stroke-width="1.3" stroke-linejoin="round"/>
<polyline points="452.4,366.7 452.8,365.5 453.2,366.7 453.6,363.6 454.0,364.8 454.4,363.5 454.9,365.0 455.3,365.3 455.7,362.1 456.1,363.2 456.5,361.8 456.9,360.7 457.3,360.7 457.7,361.5 458.1,361.3 458.5,362.9 459.0,362.9 459.4,359.5 459.8,361.8 460.2,361.4 460.6,361.3 461.0,361.4 461.4,363.8 461.8,361.0 462.2,363.9 462.6,361.7 463.0,360.9 463.5,361.2 463.9,362.7 464.3,363.8 464.7,364.0 465.1,364.0 465.5,361.7 465.9,361.9 466.3,363.1 466.7,365.4 467.1,364.0 467.5,364.7 468.0,364.5 468.4,363.5 468.8,364.3 469.2,364.7 469.6,363.9 470.0,366.1 470.4,364.3 470.8,365.0 471.2,365.3 471.6,365.7 472.1,363.2 472.5,364.8 472.9,364.5 473.3,364.0 473.7,366.9 474.1,365.9 474.5,364.8 474.9,366.0 475.3,366.8 475.7,367.9 476.1,366.6 476.6,368.7 477.0,368.3 477.4,367.3 477.8,368.0 478.2,371.5 478.6,368.9 479.0,367.8 479.4,367.8 479.8,370.0 480.2,369.1 480.7,369.6 481.1,368.9 481.5,368.8 481.9,367.0 482.3,369.5 482.7,367.4 483.1,370.3 483.5,368.3 483.9,369.7 484.3,368.9 484.7,370.2 485.2,370.8 485.6,370.0 486.0,371.9 486.4,372.1 486.8,372.1 487.2,371.6 487.6,374.3 488.0,372.6 488.4,374.3 488.8,373.9 489.2,374.1 489.7,376.8 490.1,371.9 490.5,374.4 490.9,376.2 491.3,375.0 491.7,373.0 492.1,377.3 492.5,378.3 492.9,375.5 493.3,374.9 493.8,374.5 494.2,378.8 494.6,378.7 495.0,375.9 495.4,377.9 495.8,379.1 496.2,376.9 496.6,379.1 497.0,378.5 497.4,379.8 497.8,380.3 498.3,380.6 498.7,379.3 499.1,379.1 499.5,382.7 499.9,380.7 500.3,379.3 500.7,381.5 501.1,383.9 501.5,383.7 501.9,381.5 502.4,383.8 502.8,383.5 503.2,384.9 503.6,382.6 504.0,383.7 504.4,381.6 504.8,384.2 505.2,384.6 505.6,383.9 506.0,386.3 506.4,383.7 506.9,387.9 507.3,387.0 507.7,385.2 508.1,383.6 508.5,386.2 508.9,386.7 509.3,388.2 509.7,389.6 510.1,386.5 510.5,387.6 510.9,385.8 511.4,388.0 511.8,388.7 512.2,387.8 512.6,388.7 513.0,386.1 513.4,388.0 513.8,387.7 514.2,390.5 514.6,387.6 515.0,387.0 515.5,389.9 515.9,389.4 516.3,388.7 516.7,391.0 517.1,389.4 517.5,389.0 517.9,389.2 518.3,393.6 518.7,389.3 519.1,391.7 519.5,391.4 520.0,390.7 520.4,393.3 520.8,392.8 521.2,395.3 521.6,391.8 522.0,393.9 522.4,393.2 522.8,394.4 523.2,394.8 523.6,393.2 524.1,396.1 524.5,395.9 524.9,392.9 525.3,396.7 525.7,394.2 526.1,396.5 526.5,394.3 526.9,399.5 527.3,396.4 527.7,394.3 528.1,395.9 528.6,397.1 529.0,397.4 529.4,396.0 529.8,400.3 530.2,396.7 530.6,395.9 531.0,398.9 531.4,399.7 531.8,399.0 532.2,397.1 532.7,399.2 533.1,399.9 533.5,397.1 533.9,398.4 534.3,399.6 534.7,398.5 535.1,401.9 535.5,403.6 535.9,402.1 536.3,400.7 536.7,403.4 537.2,403.4 537.6,402.5 538.0,401.5 538.4,402.8 538.8,403.9 539.2,402.0 539.6,404.6 540.0,402.5 540.4,406.2 540.8,407.0 541.2,408.8 541.7,407.6 542.1,407.2 542.5,408.3 542.9,405.9 543.3,408.4 543.7,408.6 544.1,409.6 544.5,408.0 544.9,409.3 545.3,406.5 545.8,407.6 546.2,408.5 546.6,411.2 547.0,411.3 547.4,409.3 547.8,409.5 548.2,409.8 548.6,412.6 549.0,409.0 549.4,410.8 549.8,414.6 550.3,413.4 550.7,410.0 551.1,411.5 551.5,410.5 551.9,411.8 552.3,412.1 552.7,413.0 553.1,415.2 553.5,411.1 553.9,412.2 554.4,414.2 554.8,413.7 555.2,414.2 555.6,413.4 556.0,413.5 556.4,414.3 556.8,412.6 557.2,413.8 557.6,414.9 558.0,414.7 558.4,416.7 558.9,413.7 559.3,415.6 559.7,416.9 560.1,414.3 560.5,415.5 560.9,414.8 561.3,415.9 561.7,417.7 562.1,415.4 562.5,413.8 562.9,414.9 563.4,414.4 563.8,414.6 564.2,417.3 564.6,415.7 565.0,416.7 565.4,417.2 565.8,415.4 566.2,415.1 566.6,415.5 567.0,417.4 567.5,415.6 567.9,415.7 568.3,418.3 568.7,415.1 569.1,417.9 569.5,416.6 569.9,418.6 570.3,418.1 570.7,416.7 571.1,418.3 571.5,416.1 572.0,417.7 572.4,415.4 572.8,418.4 573.2,416.1 573.6,418.3 574.0,418.5 574.4,418.7 574.8,417.5 575.2,417.1 575.6,418.8 576.1,418.1 576.5,418.9 576.9,417.0 577.3,419.5 577.7,417.8 578.1,418.3 578.5,417.9 578.9,417.2 579.3,418.7 579.7,419.3 580.1,417.8 580.6,418.8 581.0,417.7 581.4,419.0 581.8,419.3 582.2,419.2 582.6,419.5 583.0,417.9 583.4,419.0 583.8,419.8 584.2,422.3 584.6,418.6 585.1,420.8 585.5,420.8 585.9,418.7 586.3,420.8 586.7,421.6 587.1,422.2 587.5,420.5 587.9,421.4 588.3,420.8 588.7,421.3 589.2,421.9 589.6,420.9 590.0,422.3 590.4,421.3 590.8,421.0 591.2,423.1 591.6,422.0 592.0,421.1 592.4,423.1 592.8,425.2 593.2,423.6 593.7,423.6 594.1,422.6 594.5,422.5 594.9,423.8 595.3,423.3 595.7,424.0 596.1,422.6 596.5,423.9 596.9,424.3 597.3,424.0 597.8,425.3 598.2,423.2 598.6,426.0 599.0,423.9 599.4,425.4 599.8,424.2 600.2,424.5 600.6,425.4 601.0,426.0 601.4,426.0 601.8,425.3 602.3,426.1 602.7,425.3 603.1,424.9 603.5,426.1 603.9,425.9 604.3,426.7 604.7,426.3 605.1,426.3 605.5,426.0 605.9,426.6 606.3,427.6 606.8,425.4 607.2,428.8 607.6,427.8 608.0,427.8 608.4,426.2 608.8,426.1 609.2,427.9 609.6,427.3 610.0,429.1 610.4,427.2 610.9,427.4 611.3,427.7 611.7,427.7 612.1,428.5 612.5,427.9 612.9,428.4 613.3,428.9 613.7,426.9 614.1,428.6 614.5,426.9 614.9,427.6 615.4,426.8 615.8,429.9 616.2,427.4 616.6,427.7 617.0,427.2 617.4,427.9 617.8,428.4 618.2,428.2 618.6,430.4 619.0,427.0 619.5,428.1 619.9,427.4 620.3,427.9 620.7,428.1 621.1,427.5 621.5,430.3 621.9,428.2 622.3,427.2 622.7,427.5 623.1,427.6 623.5,427.7 624.0,428.7 624.4,430.6 624.8,429.0 625.2,428.1 625.6,428.0 626.0,428.5 626.4,429.6 626.8,428.2 627.2,431.1 627.6,428.5 628.0,429.6 628.5,429.8 628.9,427.9 629.3,428.5 629.7,428.4 630.1,430.8 630.5,429.3 630.9,428.9 631.3,427.9 631.7,428.1 632.1,429.3 632.6,429.4 633.0,431.1 633.4,428.9 633.8,428.1 634.2,428.8 634.6,428.8 635.0,428.2 635.4,428.9 635.8,431.8 636.2,430.1 636.6,428.4 637.1,428.4 637.5,428.5 637.9,429.8 638.3,430.2 638.7,431.2 639.1,428.7 639.5,428.9 639.9,428.4 640.3,430.3 640.7,430.3 641.2,428.7 641.6,431.4 642.0,429.0 642.4,429.5 642.8,428.9 643.2,429.7 643.6,429.0 644.0,429.1 644.4,430.9 644.8,428.9 645.2,430.6 645.7,431.1 646.1,430.4 646.5,429.3 646.9,430.0 647.3,431.8 647.7,429.6 648.1,431.1 648.5,429.9 648.9,431.1 649.3,430.0 649.8,429.9 650.2,432.8 650.6,431.2 651.0,430.4 651.4,430.6 651.8,431.5 652.2,430.8 652.6,431.0 653.0,433.5 653.4,430.8 653.8,430.1 654.3,431.1 654.7,431.4 655.1,432.4 655.5,432.4 655.9,431.8 656.3,430.5 656.7,431.8 657.1,431.7 657.5,430.7 657.9,431.5 658.3,431.1 658.8,432.2 659.2,431.6 659.6,431.5 660.0,434.9 660.4,431.7 660.8,431.8 661.2,431.2 661.6,431.7 662.0,430.4 662.4,431.4 662.9,431.5 663.3,430.8 663.7,429.8 664.1,430.8 664.5,431.9 664.9,431.5 665.3,431.5 665.7,430.9 666.1,430.8 666.5,431.6 666.9,429.9 667.4,431.8 667.8,430.5 668.2,431.1 668.6,431.7 669.0,431.0 669.4,431.3 669.8,430.6 670.2,432.4 670.6,431.6 671.0,430.7 671.5,430.0 671.9,429.3 672.3,430.9 672.7,430.3 673.1,431.4 673.5,429.7 673.9,431.3 674.3,430.4 674.7,430.6 675.1,431.4 675.5,429.2 676.0,431.2 676.4,429.7 676.8,430.5 677.2,429.6 677.6,430.7 678.0,429.3 678.4,431.0 678.8,430.8 679.2,429.7 679.6,430.6 680.0,429.7 680.5,431.0 680.9,430.2 681.3,429.8 681.7,432.7 682.1,429.6 682.5,431.2 682.9,429.9 683.3,429.9 683.7,429.2 684.1,431.2 684.6,432.1 685.0,430.2 685.4,430.7 685.8,430.0 686.2,429.6 686.6,430.1 687.0,429.6 687.4,431.7 687.8,430.4 688.2,429.7 688.6,430.6 689.1,430.0 689.5,430.0 689.9,431.6 690.3,433.1 690.7,430.8 691.1,430.6 691.5,430.2 691.9,431.1 692.3,431.3 692.7,430.6 693.2,432.9 693.6,432.0 694.0,431.0 694.4,432.2 694.8,430.6 695.2,431.1 695.6,431.3 696.0,431.9 696.4,431.6 696.8,432.1 697.2,432.1 697.7,431.7 698.1,431.9 698.5,431.0 698.9,433.1 699.3,432.3 699.7,433.0 700.1,433.3 700.5,432.9 700.9,431.9 701.3,433.6 701.7,435.7 702.2,432.3 702.6,432.8 703.0,433.8 703.4,433.5 703.8,434.4 704.2,435.0 704.6,436.2 705.0,434.2 705.4,435.2 705.8,434.5 706.3,434.3 706.7,435.6 707.1,434.9 707.5,437.7 707.9,435.4 708.3,436.6 708.7,435.7 709.1,436.5 709.5,437.1 709.9,436.2 710.3,438.2 710.8,437.4 711.2,437.7 711.6,437.9 712.0,437.9 712.4,439.1 712.8,438.5 713.2,441.6 713.6,439.4 714.0,438.8 714.4,440.6 714.9,439.3 715.3,439.4 715.7,440.9 716.1,442.9 716.5,440.5 716.9,440.7 717.3,440.8 717.7,440.5 718.1,441.4 718.5,440.7 718.9,442.3 719.4,441.7 719.8,442.5 720.2,442.4 720.6,442.2 721.0,442.2 721.4,441.0 721.8,443.9 722.2,441.7 722.6,441.3 723.0,442.0 723.4,442.0 723.9,441.9 724.3,441.8 724.7,444.2 725.1,443.2 725.5,443.2 725.9,442.8 726.3,443.8 726.7,443.8 727.1,444.0 727.5,444.2 728.0,443.4 728.4,441.8 728.8,442.9 729.2,441.2 729.6,441.2 730.0,441.5 730.4,443.0 730.8,442.4 731.2,440.0 731.6,439.3 732.0,439.4 732.5,438.7 732.9,436.5 733.3,436.9 733.7,435.2 734.1,434.3 734.5,434.0 734.9,433.0 735.3,432.2 735.7,431.4 736.1,433.3 736.6,430.6 737.0,429.3 737.4,429.1 737.8,429.3 738.2,427.7 738.6,427.1 739.0,429.5 739.4,426.4 739.8,426.1 740.2,426.4 740.6,425.0 741.1,424.2 741.5,424.5 741.9,425.9 742.3,423.6 742.7,423.1 743.1,421.7 743.5,420.3 743.9,420.6 744.3,419.2 744.7,421.7 745.1,418.2 745.6,417.6 746.0,417.6 746.4,417.3 746.8,417.3 747.2,415.9 747.6,418.6 748.0,414.6 748.4,416.3 748.8,415.0 749.2,414.6 749.7,414.2 750.1,414.0 750.5,414.6 750.9,413.9 751.3,412.5 751.7,412.5 752.1,411.9 752.5,411.7 752.9,411.9 753.3,414.1 753.7,411.6 754.2,410.2 754.6,411.4 755.0,410.0 755.4,409.6 755.8,410.0" fill="none" stroke="#0B5FAB" stroke-width="1.3" stroke-linejoin="round"/>
<line x1="450.1" y1="514.7" x2="477.6" y2="514.7" stroke="#05A54C" stroke-width="2"/>
<text x="481.7" y="518.4" font-size="11" textLength="63.5" lengthAdjust="spacingAndGlyphs">Groundnut oil</text>
<line x1="563.1" y1="514.7" x2="590.6" y2="514.7" stroke="#E3101E" stroke-width="2"/>
<text x="595.4" y="518.4" font-size="11" textLength="51" lengthAdjust="spacingAndGlyphs">Mustard oil</text>
<line x1="666.3" y1="514.7" x2="693.5" y2="514.7" stroke="#0B5FAB" stroke-width="2"/>
<text x="696.2" y="518.4" font-size="11" textLength="59.4" lengthAdjust="spacingAndGlyphs">Sunflower oil</text>
<text x="13.6" y="552.0" font-size="10" textLength="316" lengthAdjust="spacingAndGlyphs"><tspan font-weight="bold">Sources:</tspan> Department of Consumer Affairs, GoI; and RBI staff estimates.</text>
</svg>
<div class="v" style="left:61.4px;top:212.8px;height:60px;font-size:10.4px;text-align:end">Nov-22</div>
<div class="v" style="left:86.8px;top:212.8px;height:60px;font-size:10.4px;text-align:end">Jan-23</div>
<div class="v" style="left:111.3px;top:212.8px;height:60px;font-size:10.4px;text-align:end">Mar-23</div>
<div class="v" style="left:136.7px;top:212.8px;height:60px;font-size:10.4px;text-align:end">May-23</div>
<div class="v" style="left:162.1px;top:212.8px;height:60px;font-size:10.4px;text-align:end">Jul-23</div>
<div class="v" style="left:187.9px;top:212.8px;height:60px;font-size:10.4px;text-align:end">Sep-23</div>
<div class="v" style="left:213.3px;top:212.8px;height:60px;font-size:10.4px;text-align:end">Nov-23</div>
<div class="v" style="left:238.7px;top:212.8px;height:60px;font-size:10.4px;text-align:end">Jan-24</div>
<div class="v" style="left:263.6px;top:212.8px;height:60px;font-size:10.4px;text-align:end">Mar-24</div>
<div class="v" style="left:289.0px;top:212.8px;height:60px;font-size:10.4px;text-align:end">May-24</div>
<div class="v" style="left:314.4px;top:212.8px;height:60px;font-size:10.4px;text-align:end">Jul-24</div>
<div class="v" style="left:340.2px;top:212.8px;height:60px;font-size:10.4px;text-align:end">Sep-24</div>
<div class="v" style="left:365.6px;top:212.8px;height:60px;font-size:10.4px;text-align:end">Nov-24</div>
<div class="v" style="left:23.1px;top:90.3px;height:100px;font-size:11px;text-align:center;-webkit-text-stroke:0">₹ per kilogram</div>
<div class="v" style="left:443.4px;top:199.5px;height:60px;font-size:10.4px;text-align:end">Nov-22</div>
<div class="v" style="left:468.8px;top:199.5px;height:60px;font-size:10.4px;text-align:end">Jan-23</div>
<div class="v" style="left:493.4px;top:199.5px;height:60px;font-size:10.4px;text-align:end">Mar-23</div>
<div class="v" style="left:518.7px;top:199.5px;height:60px;font-size:10.4px;text-align:end">May-23</div>
<div class="v" style="left:544.1px;top:199.5px;height:60px;font-size:10.4px;text-align:end">Jul-23</div>
<div class="v" style="left:569.9px;top:199.5px;height:60px;font-size:10.4px;text-align:end">Sep-23</div>
<div class="v" style="left:595.3px;top:199.5px;height:60px;font-size:10.4px;text-align:end">Nov-23</div>
<div class="v" style="left:620.7px;top:199.5px;height:60px;font-size:10.4px;text-align:end">Jan-24</div>
<div class="v" style="left:645.7px;top:199.5px;height:60px;font-size:10.4px;text-align:end">Mar-24</div>
<div class="v" style="left:671.1px;top:199.5px;height:60px;font-size:10.4px;text-align:end">May-24</div>
<div class="v" style="left:696.5px;top:199.5px;height:60px;font-size:10.4px;text-align:end">Jul-24</div>
<div class="v" style="left:722.3px;top:199.5px;height:60px;font-size:10.4px;text-align:end">Sep-24</div>
<div class="v" style="left:747.7px;top:199.5px;height:60px;font-size:10.4px;text-align:end">Nov-24</div>
<div class="v" style="left:404.4px;top:83.5px;height:100px;font-size:11px;text-align:center;-webkit-text-stroke:0">₹ per kilogram</div>
<div class="v" style="left:61.4px;top:468.8px;height:60px;font-size:10.4px;text-align:end">Nov-22</div>
<div class="v" style="left:83.8px;top:468.8px;height:60px;font-size:10.4px;text-align:end">Jan-23</div>
<div class="v" style="left:105.4px;top:468.8px;height:60px;font-size:10.4px;text-align:end">Mar-23</div>
<div class="v" style="left:127.7px;top:468.8px;height:60px;font-size:10.4px;text-align:end">May-23</div>
<div class="v" style="left:150.1px;top:468.8px;height:60px;font-size:10.4px;text-align:end">Jul-23</div>
<div class="v" style="left:172.8px;top:468.8px;height:60px;font-size:10.4px;text-align:end">Sep-23</div>
<div class="v" style="left:195.2px;top:468.8px;height:60px;font-size:10.4px;text-align:end">Nov-23</div>
<div class="v" style="left:217.5px;top:468.8px;height:60px;font-size:10.4px;text-align:end">Jan-24</div>
<div class="v" style="left:239.5px;top:468.8px;height:60px;font-size:10.4px;text-align:end">Mar-24</div>
<div class="v" style="left:261.9px;top:468.8px;height:60px;font-size:10.4px;text-align:end">May-24</div>
<div class="v" style="left:284.2px;top:468.8px;height:60px;font-size:10.4px;text-align:end">Jul-24</div>
<div class="v" style="left:306.9px;top:468.8px;height:60px;font-size:10.4px;text-align:end">Sep-24</div>
<div class="v" style="left:329.3px;top:468.8px;height:60px;font-size:10.4px;text-align:end">Nov-24</div>
<div class="v" style="left:29.0px;top:343.0px;height:100px;font-size:11px;text-align:center;-webkit-text-stroke:0">₹ per kilogram</div>
<div class="v" style="left:366.7px;top:344.1px;height:100px;font-size:11px;text-align:center;-webkit-text-stroke:0">₹ per kilogram</div>
<div class="v" style="left:447.4px;top:467.4px;height:60px;font-size:10.4px;text-align:end">Nov-22</div>
<div class="v" style="left:472.4px;top:467.4px;height:60px;font-size:10.4px;text-align:end">Jan-23</div>
<div class="v" style="left:496.5px;top:467.4px;height:60px;font-size:10.4px;text-align:end">Mar-23</div>
<div class="v" style="left:521.5px;top:467.4px;height:60px;font-size:10.4px;text-align:end">May-23</div>
<div class="v" style="left:546.5px;top:467.4px;height:60px;font-size:10.4px;text-align:end">Jul-23</div>
<div class="v" style="left:571.9px;top:467.4px;height:60px;font-size:10.4px;text-align:end">Sep-23</div>
<div class="v" style="left:596.8px;top:467.4px;height:60px;font-size:10.4px;text-align:end">Nov-23</div>
<div class="v" style="left:621.8px;top:467.4px;height:60px;font-size:10.4px;text-align:end">Jan-24</div>
<div class="v" style="left:646.4px;top:467.4px;height:60px;font-size:10.4px;text-align:end">Mar-24</div>
<div class="v" style="left:671.4px;top:467.4px;height:60px;font-size:10.4px;text-align:end">May-24</div>
<div class="v" style="left:696.3px;top:467.4px;height:60px;font-size:10.4px;text-align:end">Jul-24</div>
<div class="v" style="left:721.7px;top:467.4px;height:60px;font-size:10.4px;text-align:end">Sep-24</div>
<div class="v" style="left:746.7px;top:467.4px;height:60px;font-size:10.4px;text-align:end">Nov-24</div>
<div class="v" style="left:404.4px;top:343.1px;height:100px;font-size:11px;text-align:center;-webkit-text-stroke:0">₹ per kilogram</div>
</body></html>
